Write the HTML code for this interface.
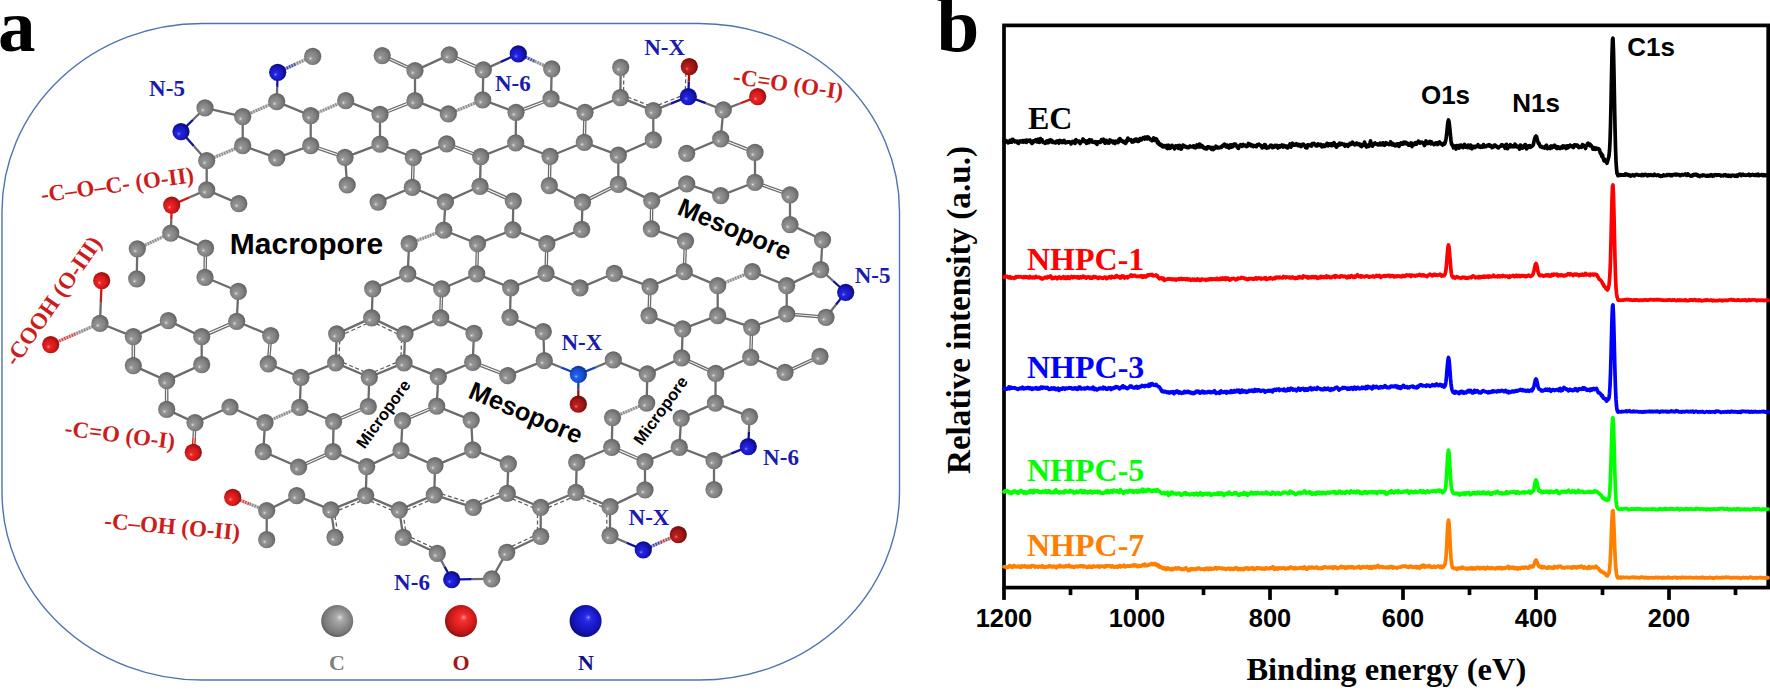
<!DOCTYPE html>
<html><head><meta charset="utf-8"><title>Figure</title>
<style>
html,body{margin:0;padding:0;background:#fff}
svg{display:block}
text{font-family:"Liberation Serif",serif;font-weight:bold}
.sans{font-family:"Liberation Sans",sans-serif;font-weight:bold}
.tick{font-family:"Liberation Sans",sans-serif;font-weight:bold;font-size:25.4px}
.blue{fill:#1a1aae}
.red{fill:#cc1c1c}
</style></head><body>
<svg width="1770" height="690" viewBox="0 0 1770 690">
<defs>
<radialGradient id="gC" cx="46%" cy="54%" r="57%" fx="36%" fy="64%">
<stop offset="0" stop-color="#f4f4f4"/><stop offset="0.09" stop-color="#b4b4b4"/><stop offset="0.22" stop-color="#949494"/><stop offset="0.6" stop-color="#828282"/><stop offset="0.88" stop-color="#6a6a6a"/><stop offset="1" stop-color="#585858"/>
</radialGradient>
<radialGradient id="gN" cx="46%" cy="54%" r="57%" fx="36%" fy="64%">
<stop offset="0" stop-color="#b0b0ff"/><stop offset="0.09" stop-color="#4a4af0"/><stop offset="0.22" stop-color="#2424dc"/><stop offset="0.6" stop-color="#1818c4"/><stop offset="0.88" stop-color="#0e0e88"/><stop offset="1" stop-color="#0a0a6c"/>
</radialGradient>
<radialGradient id="gO" cx="46%" cy="54%" r="57%" fx="36%" fy="64%">
<stop offset="0" stop-color="#ffc0c0"/><stop offset="0.09" stop-color="#ff5050"/><stop offset="0.22" stop-color="#ea2424"/><stop offset="0.6" stop-color="#d41a1a"/><stop offset="0.88" stop-color="#a41212"/><stop offset="1" stop-color="#800e0e"/>
</radialGradient>
<radialGradient id="gX" cx="46%" cy="54%" r="57%" fx="36%" fy="64%">
<stop offset="0" stop-color="#f0a0a0"/><stop offset="0.09" stop-color="#d44040"/><stop offset="0.22" stop-color="#b82020"/><stop offset="0.6" stop-color="#a41616"/><stop offset="0.88" stop-color="#7a0e0e"/><stop offset="1" stop-color="#5c0a0a"/>
</radialGradient>
<radialGradient id="gM" cx="46%" cy="54%" r="57%" fx="36%" fy="64%">
<stop offset="0" stop-color="#c0d8ff"/><stop offset="0.09" stop-color="#5088f8"/><stop offset="0.22" stop-color="#2060e8"/><stop offset="0.6" stop-color="#1650d4"/><stop offset="0.88" stop-color="#0e38a0"/><stop offset="1" stop-color="#0a2880"/>
</radialGradient>
<radialGradient id="gLC" cx="52%" cy="47%" r="56%" fx="59%" fy="38%">
<stop offset="0" stop-color="#f2f2f2"/><stop offset="0.06" stop-color="#cccccc"/><stop offset="0.2" stop-color="#aaaaaa"/><stop offset="0.5" stop-color="#909090"/><stop offset="0.8" stop-color="#787878"/><stop offset="1" stop-color="#585858"/>
</radialGradient>
<radialGradient id="gLO" cx="52%" cy="47%" r="56%" fx="59%" fy="38%">
<stop offset="0" stop-color="#ffd0d0"/><stop offset="0.06" stop-color="#ff6868"/><stop offset="0.2" stop-color="#f43030"/><stop offset="0.5" stop-color="#e02020"/><stop offset="0.8" stop-color="#b81616"/><stop offset="1" stop-color="#800e0e"/>
</radialGradient>
<radialGradient id="gLN" cx="52%" cy="47%" r="56%" fx="59%" fy="38%">
<stop offset="0" stop-color="#c8c8ff"/><stop offset="0.06" stop-color="#5858f8"/><stop offset="0.2" stop-color="#2828e4"/><stop offset="0.5" stop-color="#1a1ad0"/><stop offset="0.8" stop-color="#1212a8"/><stop offset="1" stop-color="#0a0a70"/>
</radialGradient>
</defs>
<rect x="0" y="0" width="1770" height="690" fill="#fff"/>
<rect x="2" y="23.5" width="897.5" height="656.5" rx="200" ry="188" fill="none" stroke="#4f74ad" stroke-width="1.4"/>
<g stroke-linecap="butt">
<line x1="312.7" y1="56.3" x2="295.2" y2="64.3" stroke="#c7c7c7" stroke-width="3.2"/>
<line x1="295.2" y1="64.3" x2="277.7" y2="72.3" stroke="#a4a4da" stroke-width="3.2"/>
<line x1="312.7" y1="56.3" x2="295.2" y2="64.3" stroke="#828282" stroke-width="3.2" stroke-dasharray="1.1 1.6"/>
<line x1="295.2" y1="64.3" x2="277.7" y2="72.3" stroke="#3535ae" stroke-width="3.2" stroke-dasharray="1.1 1.6"/>
<line x1="277.7" y1="72.3" x2="277.2" y2="86.9" stroke="#1212a0" stroke-width="2.3"/>
<line x1="277.2" y1="86.9" x2="276.7" y2="101.6" stroke="#6c6c6c" stroke-width="2.3"/>
<line x1="276.7" y1="101.6" x2="242.7" y2="116.6" stroke="#c7c7c7" stroke-width="3.2"/>
<line x1="276.7" y1="101.6" x2="242.7" y2="116.6" stroke="#828282" stroke-width="3.2" stroke-dasharray="1.1 1.6"/>
<line x1="242.7" y1="116.6" x2="205.0" y2="107.9" stroke="#6c6c6c" stroke-width="2.3"/>
<line x1="205.0" y1="107.9" x2="193.0" y2="119.8" stroke="#6c6c6c" stroke-width="2.3"/>
<line x1="193.0" y1="119.8" x2="181.0" y2="131.6" stroke="#1212a0" stroke-width="2.3"/>
<line x1="181.0" y1="131.6" x2="193.8" y2="146.1" stroke="#1212a0" stroke-width="2.3"/>
<line x1="193.8" y1="146.1" x2="206.7" y2="160.6" stroke="#6c6c6c" stroke-width="2.3"/>
<line x1="206.7" y1="160.6" x2="242.7" y2="145.6" stroke="#c7c7c7" stroke-width="3.2"/>
<line x1="206.7" y1="160.6" x2="242.7" y2="145.6" stroke="#828282" stroke-width="3.2" stroke-dasharray="1.1 1.6"/>
<line x1="242.7" y1="145.6" x2="242.7" y2="116.6" stroke="#6c6c6c" stroke-width="2.3"/>
<line x1="242.7" y1="145.6" x2="276.7" y2="157.9" stroke="#6c6c6c" stroke-width="2.3"/>
<line x1="276.7" y1="157.9" x2="310.7" y2="145.6" stroke="#6c6c6c" stroke-width="2.3"/>
<line x1="310.7" y1="145.6" x2="310.7" y2="115.6" stroke="#6c6c6c" stroke-width="2.3"/>
<line x1="310.7" y1="115.6" x2="276.7" y2="101.6" stroke="#6c6c6c" stroke-width="2.3"/>
<line x1="310.7" y1="115.6" x2="345.7" y2="100.6" stroke="#c7c7c7" stroke-width="3.2"/>
<line x1="310.7" y1="115.6" x2="345.7" y2="100.6" stroke="#828282" stroke-width="3.2" stroke-dasharray="1.1 1.6"/>
<line x1="345.7" y1="100.6" x2="380.0" y2="114.4" stroke="#6c6c6c" stroke-width="2.3"/>
<line x1="380.0" y1="114.4" x2="380.0" y2="144.2" stroke="#6c6c6c" stroke-width="2.3"/>
<line x1="380.0" y1="144.2" x2="345.0" y2="157.3" stroke="#6c6c6c" stroke-width="2.3"/>
<line x1="344.6" y1="158.4" x2="310.3" y2="146.7" stroke="#6c6c6c" stroke-width="1.3"/>
<line x1="345.4" y1="156.2" x2="311.1" y2="144.5" stroke="#6c6c6c" stroke-width="1.3"/>
<line x1="345.0" y1="157.3" x2="347.2" y2="185.0" stroke="#6c6c6c" stroke-width="2.3"/>
<line x1="206.7" y1="160.6" x2="206.7" y2="189.9" stroke="#6c6c6c" stroke-width="2.3"/>
<line x1="206.7" y1="189.9" x2="238.8" y2="203.6" stroke="#6c6c6c" stroke-width="2.3"/>
<line x1="206.7" y1="189.9" x2="189.2" y2="197.5" stroke="#6c6c6c" stroke-width="2.3"/>
<line x1="189.2" y1="197.5" x2="171.7" y2="205.1" stroke="#cc1818" stroke-width="2.3"/>
<line x1="171.7" y1="205.1" x2="171.3" y2="219.1" stroke="#cc1818" stroke-width="2.3"/>
<line x1="171.3" y1="219.1" x2="170.8" y2="233.1" stroke="#6c6c6c" stroke-width="2.3"/>
<line x1="378.1" y1="202.1" x2="412.3" y2="187.3" stroke="#6c6c6c" stroke-width="2.3"/>
<line x1="382.7" y1="54.6" x2="415.5" y2="69.6" stroke="#6c6c6c" stroke-width="1.3"/>
<line x1="381.7" y1="56.6" x2="414.5" y2="71.6" stroke="#6c6c6c" stroke-width="1.3"/>
<line x1="415.0" y1="70.6" x2="449.3" y2="54.9" stroke="#6c6c6c" stroke-width="2.3"/>
<line x1="449.8" y1="53.8" x2="483.8" y2="68.8" stroke="#6c6c6c" stroke-width="1.3"/>
<line x1="448.8" y1="56.0" x2="482.8" y2="71.0" stroke="#6c6c6c" stroke-width="1.3"/>
<line x1="483.3" y1="69.9" x2="500.8" y2="61.9" stroke="#6c6c6c" stroke-width="2.3"/>
<line x1="500.8" y1="61.9" x2="518.3" y2="53.9" stroke="#1212a0" stroke-width="2.3"/>
<line x1="518.3" y1="53.9" x2="535.0" y2="61.4" stroke="#a4a4da" stroke-width="3.2"/>
<line x1="535.0" y1="61.4" x2="551.7" y2="68.9" stroke="#c7c7c7" stroke-width="3.2"/>
<line x1="518.3" y1="53.9" x2="535.0" y2="61.4" stroke="#3535ae" stroke-width="3.2" stroke-dasharray="1.1 1.6"/>
<line x1="535.0" y1="61.4" x2="551.7" y2="68.9" stroke="#828282" stroke-width="3.2" stroke-dasharray="1.1 1.6"/>
<line x1="551.7" y1="68.9" x2="551.0" y2="98.9" stroke="#6c6c6c" stroke-width="2.3"/>
<line x1="483.3" y1="69.9" x2="482.7" y2="99.9" stroke="#6c6c6c" stroke-width="2.3"/>
<line x1="415.0" y1="70.6" x2="415.0" y2="100.6" stroke="#6c6c6c" stroke-width="2.3"/>
<line x1="415.4" y1="101.7" x2="380.4" y2="115.5" stroke="#6c6c6c" stroke-width="1.3"/>
<line x1="414.6" y1="99.5" x2="379.6" y2="113.3" stroke="#6c6c6c" stroke-width="1.3"/>
<line x1="415.0" y1="100.6" x2="448.3" y2="113.9" stroke="#6c6c6c" stroke-width="2.3"/>
<line x1="448.3" y1="113.9" x2="482.7" y2="99.9" stroke="#c7c7c7" stroke-width="3.2"/>
<line x1="448.3" y1="113.9" x2="482.7" y2="99.9" stroke="#828282" stroke-width="3.2" stroke-dasharray="1.1 1.6"/>
<line x1="482.7" y1="99.9" x2="516.0" y2="112.3" stroke="#6c6c6c" stroke-width="2.3"/>
<line x1="515.6" y1="111.2" x2="550.6" y2="97.8" stroke="#6c6c6c" stroke-width="1.3"/>
<line x1="516.4" y1="113.4" x2="551.4" y2="100.0" stroke="#6c6c6c" stroke-width="1.3"/>
<line x1="551.0" y1="98.9" x2="585.0" y2="112.3" stroke="#6c6c6c" stroke-width="2.3"/>
<line x1="585.0" y1="112.3" x2="620.4" y2="97.6" stroke="#6c6c6c" stroke-width="2.3"/>
<line x1="620.4" y1="97.6" x2="620.7" y2="67.3" stroke="#6c6c6c" stroke-width="2.3"/>
<line x1="623.5" y1="97.6" x2="623.9" y2="67.3" stroke="#5c5c5c" stroke-width="1.25" stroke-dasharray="4 2.6"/>
<line x1="620.4" y1="97.6" x2="653.3" y2="110.6" stroke="#6c6c6c" stroke-width="2.3"/>
<line x1="621.5" y1="94.6" x2="654.5" y2="107.6" stroke="#5c5c5c" stroke-width="1.25" stroke-dasharray="4 2.6"/>
<line x1="516.0" y1="112.3" x2="515.7" y2="142.9" stroke="#6c6c6c" stroke-width="2.3"/>
<line x1="586.1" y1="112.3" x2="585.4" y2="142.3" stroke="#6c6c6c" stroke-width="1.3"/>
<line x1="583.9" y1="112.3" x2="583.2" y2="142.3" stroke="#6c6c6c" stroke-width="1.3"/>
<line x1="380.0" y1="144.2" x2="413.3" y2="157.3" stroke="#6c6c6c" stroke-width="2.3"/>
<line x1="413.3" y1="157.3" x2="446.7" y2="143.9" stroke="#6c6c6c" stroke-width="2.3"/>
<line x1="447.1" y1="142.8" x2="481.1" y2="155.5" stroke="#6c6c6c" stroke-width="1.3"/>
<line x1="446.3" y1="145.0" x2="480.3" y2="157.7" stroke="#6c6c6c" stroke-width="1.3"/>
<line x1="480.7" y1="156.6" x2="515.7" y2="142.9" stroke="#6c6c6c" stroke-width="2.3"/>
<line x1="515.7" y1="142.9" x2="550.0" y2="156.3" stroke="#6c6c6c" stroke-width="2.3"/>
<line x1="550.0" y1="156.3" x2="584.3" y2="142.3" stroke="#6c6c6c" stroke-width="2.3"/>
<line x1="584.3" y1="142.3" x2="618.3" y2="155.2" stroke="#6c6c6c" stroke-width="2.3"/>
<line x1="618.3" y1="155.2" x2="653.3" y2="139.9" stroke="#6c6c6c" stroke-width="2.3"/>
<line x1="414.4" y1="157.3" x2="413.4" y2="187.3" stroke="#6c6c6c" stroke-width="1.3"/>
<line x1="412.2" y1="157.3" x2="411.2" y2="187.3" stroke="#6c6c6c" stroke-width="1.3"/>
<line x1="480.7" y1="156.6" x2="480.0" y2="186.3" stroke="#6c6c6c" stroke-width="2.3"/>
<line x1="551.1" y1="156.3" x2="550.4" y2="185.6" stroke="#6c6c6c" stroke-width="1.3"/>
<line x1="548.9" y1="156.3" x2="548.2" y2="185.6" stroke="#6c6c6c" stroke-width="1.3"/>
<line x1="618.3" y1="155.2" x2="618.3" y2="184.4" stroke="#6c6c6c" stroke-width="2.3"/>
<line x1="412.3" y1="187.3" x2="445.4" y2="201.9" stroke="#6c6c6c" stroke-width="2.3"/>
<line x1="445.4" y1="201.9" x2="480.0" y2="186.3" stroke="#6c6c6c" stroke-width="2.3"/>
<line x1="480.5" y1="185.2" x2="513.8" y2="200.0" stroke="#6c6c6c" stroke-width="1.3"/>
<line x1="479.5" y1="187.4" x2="512.8" y2="202.2" stroke="#6c6c6c" stroke-width="1.3"/>
<line x1="549.3" y1="185.6" x2="582.5" y2="202.2" stroke="#6c6c6c" stroke-width="2.3"/>
<line x1="582.0" y1="201.2" x2="617.8" y2="183.4" stroke="#6c6c6c" stroke-width="1.3"/>
<line x1="583.0" y1="203.3" x2="618.8" y2="185.4" stroke="#6c6c6c" stroke-width="1.3"/>
<line x1="445.4" y1="201.9" x2="443.8" y2="230.2" stroke="#6c6c6c" stroke-width="2.3"/>
<line x1="513.3" y1="201.1" x2="512.8" y2="229.9" stroke="#6c6c6c" stroke-width="2.3"/>
<line x1="582.5" y1="202.2" x2="581.7" y2="229.4" stroke="#6c6c6c" stroke-width="2.3"/>
<line x1="443.8" y1="230.2" x2="409.1" y2="243.6" stroke="#c7c7c7" stroke-width="3.2"/>
<line x1="443.8" y1="230.2" x2="409.1" y2="243.6" stroke="#828282" stroke-width="3.2" stroke-dasharray="1.1 1.6"/>
<line x1="443.8" y1="230.2" x2="477.5" y2="243.6" stroke="#6c6c6c" stroke-width="2.3"/>
<line x1="477.5" y1="243.6" x2="512.8" y2="229.9" stroke="#6c6c6c" stroke-width="2.3"/>
<line x1="512.8" y1="229.9" x2="546.9" y2="243.6" stroke="#6c6c6c" stroke-width="2.3"/>
<line x1="546.9" y1="243.6" x2="581.7" y2="229.4" stroke="#6c6c6c" stroke-width="2.3"/>
<line x1="653.3" y1="110.6" x2="670.8" y2="103.6" stroke="#6c6c6c" stroke-width="2.3"/>
<line x1="670.8" y1="103.6" x2="688.3" y2="96.6" stroke="#1212a0" stroke-width="2.3"/>
<line x1="652.1" y1="107.6" x2="687.1" y2="93.6" stroke="#5c5c5c" stroke-width="1.25" stroke-dasharray="4 2.6"/>
<line x1="688.3" y1="96.6" x2="688.8" y2="81.6" stroke="#1212a0" stroke-width="2.3"/>
<line x1="688.8" y1="81.6" x2="689.3" y2="66.6" stroke="#a01010" stroke-width="2.3"/>
<line x1="685.1" y1="96.5" x2="686.1" y2="66.5" stroke="#5c5c5c" stroke-width="1.25" stroke-dasharray="4 2.6"/>
<line x1="688.3" y1="96.6" x2="705.8" y2="103.2" stroke="#1212a0" stroke-width="2.3"/>
<line x1="705.8" y1="103.2" x2="723.3" y2="109.9" stroke="#6c6c6c" stroke-width="2.3"/>
<line x1="723.3" y1="109.9" x2="740.5" y2="103.2" stroke="#6c6c6c" stroke-width="2.3"/>
<line x1="740.5" y1="103.2" x2="757.7" y2="96.6" stroke="#cc1818" stroke-width="2.3"/>
<line x1="723.3" y1="109.9" x2="720.7" y2="138.9" stroke="#6c6c6c" stroke-width="2.3"/>
<line x1="720.7" y1="138.9" x2="686.7" y2="153.3" stroke="#6c6c6c" stroke-width="2.3"/>
<line x1="721.1" y1="137.8" x2="755.4" y2="151.2" stroke="#6c6c6c" stroke-width="1.3"/>
<line x1="720.3" y1="140.0" x2="754.6" y2="153.4" stroke="#6c6c6c" stroke-width="1.3"/>
<line x1="755.0" y1="152.3" x2="755.0" y2="182.3" stroke="#6c6c6c" stroke-width="2.3"/>
<line x1="755.0" y1="182.3" x2="720.7" y2="195.6" stroke="#6c6c6c" stroke-width="2.3"/>
<line x1="720.7" y1="195.6" x2="686.7" y2="183.9" stroke="#6c6c6c" stroke-width="2.3"/>
<line x1="686.7" y1="183.9" x2="651.7" y2="200.6" stroke="#6c6c6c" stroke-width="2.3"/>
<line x1="651.7" y1="200.6" x2="618.3" y2="184.4" stroke="#6c6c6c" stroke-width="2.3"/>
<line x1="653.3" y1="139.9" x2="653.3" y2="110.6" stroke="#6c6c6c" stroke-width="2.3"/>
<line x1="755.4" y1="181.2" x2="790.4" y2="193.8" stroke="#6c6c6c" stroke-width="1.3"/>
<line x1="754.6" y1="183.4" x2="789.6" y2="196.0" stroke="#6c6c6c" stroke-width="1.3"/>
<line x1="790.0" y1="194.9" x2="790.0" y2="224.6" stroke="#6c6c6c" stroke-width="2.3"/>
<line x1="790.0" y1="224.6" x2="822.5" y2="239.8" stroke="#6c6c6c" stroke-width="2.3"/>
<line x1="652.8" y1="200.6" x2="652.5" y2="228.9" stroke="#6c6c6c" stroke-width="1.3"/>
<line x1="650.6" y1="200.6" x2="650.2" y2="228.9" stroke="#6c6c6c" stroke-width="1.3"/>
<line x1="651.4" y1="228.9" x2="685.5" y2="241.1" stroke="#6c6c6c" stroke-width="2.3"/>
<line x1="170.8" y1="233.1" x2="137.3" y2="248.8" stroke="#c7c7c7" stroke-width="3.2"/>
<line x1="170.8" y1="233.1" x2="137.3" y2="248.8" stroke="#828282" stroke-width="3.2" stroke-dasharray="1.1 1.6"/>
<line x1="137.3" y1="248.8" x2="136.7" y2="278.9" stroke="#6c6c6c" stroke-width="2.3"/>
<line x1="170.8" y1="233.1" x2="205.5" y2="248.2" stroke="#6c6c6c" stroke-width="2.3"/>
<line x1="206.6" y1="248.3" x2="206.1" y2="277.3" stroke="#6c6c6c" stroke-width="1.3"/>
<line x1="204.4" y1="248.2" x2="203.9" y2="277.3" stroke="#6c6c6c" stroke-width="1.3"/>
<line x1="205.0" y1="277.3" x2="238.3" y2="291.3" stroke="#6c6c6c" stroke-width="2.3"/>
<line x1="238.3" y1="291.3" x2="236.7" y2="321.3" stroke="#6c6c6c" stroke-width="2.3"/>
<line x1="236.7" y1="321.3" x2="270.7" y2="335.6" stroke="#6c6c6c" stroke-width="2.3"/>
<line x1="271.8" y1="335.7" x2="269.4" y2="364.0" stroke="#6c6c6c" stroke-width="1.3"/>
<line x1="269.6" y1="335.5" x2="267.2" y2="363.8" stroke="#6c6c6c" stroke-width="1.3"/>
<line x1="268.3" y1="363.9" x2="300.9" y2="377.3" stroke="#6c6c6c" stroke-width="2.3"/>
<line x1="300.9" y1="377.3" x2="299.8" y2="407.3" stroke="#6c6c6c" stroke-width="2.3"/>
<line x1="299.8" y1="407.3" x2="265.0" y2="422.6" stroke="#c7c7c7" stroke-width="3.2"/>
<line x1="299.8" y1="407.3" x2="265.0" y2="422.6" stroke="#828282" stroke-width="3.2" stroke-dasharray="1.1 1.6"/>
<line x1="265.0" y1="422.6" x2="230.0" y2="407.0" stroke="#6c6c6c" stroke-width="2.3"/>
<line x1="230.0" y1="407.0" x2="195.0" y2="422.6" stroke="#6c6c6c" stroke-width="2.3"/>
<line x1="195.0" y1="422.6" x2="166.7" y2="409.4" stroke="#6c6c6c" stroke-width="2.3"/>
<line x1="165.5" y1="409.4" x2="165.5" y2="380.6" stroke="#6c6c6c" stroke-width="1.3"/>
<line x1="167.8" y1="409.4" x2="167.8" y2="380.6" stroke="#6c6c6c" stroke-width="1.3"/>
<line x1="166.7" y1="380.6" x2="201.7" y2="364.6" stroke="#6c6c6c" stroke-width="2.3"/>
<line x1="201.7" y1="364.6" x2="201.7" y2="336.6" stroke="#6c6c6c" stroke-width="2.3"/>
<line x1="201.2" y1="335.5" x2="236.2" y2="320.2" stroke="#6c6c6c" stroke-width="1.3"/>
<line x1="202.2" y1="337.7" x2="237.2" y2="322.4" stroke="#6c6c6c" stroke-width="1.3"/>
<line x1="201.7" y1="336.6" x2="168.3" y2="320.6" stroke="#6c6c6c" stroke-width="2.3"/>
<line x1="168.3" y1="320.6" x2="133.3" y2="336.6" stroke="#6c6c6c" stroke-width="2.3"/>
<line x1="134.5" y1="336.6" x2="134.5" y2="365.6" stroke="#6c6c6c" stroke-width="1.3"/>
<line x1="132.2" y1="336.6" x2="132.2" y2="365.6" stroke="#6c6c6c" stroke-width="1.3"/>
<line x1="133.3" y1="365.6" x2="166.7" y2="380.6" stroke="#6c6c6c" stroke-width="2.3"/>
<line x1="133.3" y1="336.6" x2="100.0" y2="323.3" stroke="#6c6c6c" stroke-width="2.3"/>
<line x1="100.0" y1="323.3" x2="100.8" y2="302.0" stroke="#6c6c6c" stroke-width="2.3"/>
<line x1="100.8" y1="302.0" x2="101.7" y2="280.6" stroke="#cc1818" stroke-width="2.3"/>
<line x1="100.0" y1="323.3" x2="75.3" y2="334.0" stroke="#c7c7c7" stroke-width="3.2"/>
<line x1="75.3" y1="334.0" x2="50.7" y2="344.6" stroke="#eba7a7" stroke-width="3.2"/>
<line x1="100.0" y1="323.3" x2="75.3" y2="334.0" stroke="#828282" stroke-width="3.2" stroke-dasharray="1.1 1.6"/>
<line x1="75.3" y1="334.0" x2="50.7" y2="344.6" stroke="#d33a3a" stroke-width="3.2" stroke-dasharray="1.1 1.6"/>
<line x1="409.1" y1="243.6" x2="407.7" y2="273.9" stroke="#6c6c6c" stroke-width="2.3"/>
<line x1="407.7" y1="273.9" x2="372.7" y2="288.9" stroke="#6c6c6c" stroke-width="2.3"/>
<line x1="372.7" y1="288.9" x2="371.7" y2="317.9" stroke="#6c6c6c" stroke-width="2.3"/>
<line x1="371.7" y1="317.9" x2="336.7" y2="333.9" stroke="#6c6c6c" stroke-width="2.3"/>
<line x1="373.0" y1="320.8" x2="338.0" y2="336.8" stroke="#5c5c5c" stroke-width="1.25" stroke-dasharray="4 2.6"/>
<line x1="336.7" y1="333.9" x2="335.7" y2="362.9" stroke="#6c6c6c" stroke-width="2.3"/>
<line x1="339.9" y1="334.0" x2="338.9" y2="363.0" stroke="#5c5c5c" stroke-width="1.25" stroke-dasharray="4 2.6"/>
<line x1="335.7" y1="362.9" x2="369.3" y2="377.3" stroke="#6c6c6c" stroke-width="2.3"/>
<line x1="337.0" y1="360.0" x2="370.6" y2="374.4" stroke="#5c5c5c" stroke-width="1.25" stroke-dasharray="4 2.6"/>
<line x1="369.3" y1="377.3" x2="404.0" y2="362.9" stroke="#6c6c6c" stroke-width="2.3"/>
<line x1="368.1" y1="374.3" x2="402.8" y2="359.9" stroke="#5c5c5c" stroke-width="1.25" stroke-dasharray="4 2.6"/>
<line x1="404.0" y1="362.9" x2="405.0" y2="333.9" stroke="#6c6c6c" stroke-width="2.3"/>
<line x1="400.8" y1="362.8" x2="401.8" y2="333.8" stroke="#5c5c5c" stroke-width="1.25" stroke-dasharray="4 2.6"/>
<line x1="405.0" y1="333.9" x2="371.7" y2="317.9" stroke="#6c6c6c" stroke-width="2.3"/>
<line x1="403.6" y1="336.8" x2="370.3" y2="320.8" stroke="#5c5c5c" stroke-width="1.25" stroke-dasharray="4 2.6"/>
<line x1="407.7" y1="273.9" x2="441.7" y2="288.8" stroke="#6c6c6c" stroke-width="2.3"/>
<line x1="441.7" y1="288.8" x2="476.7" y2="273.9" stroke="#6c6c6c" stroke-width="2.3"/>
<line x1="475.6" y1="273.9" x2="476.4" y2="243.6" stroke="#6c6c6c" stroke-width="1.3"/>
<line x1="477.8" y1="273.9" x2="478.6" y2="243.6" stroke="#6c6c6c" stroke-width="1.3"/>
<line x1="548.0" y1="243.6" x2="547.1" y2="273.3" stroke="#6c6c6c" stroke-width="1.3"/>
<line x1="545.8" y1="243.6" x2="544.9" y2="273.3" stroke="#6c6c6c" stroke-width="1.3"/>
<line x1="546.0" y1="273.3" x2="580.0" y2="287.9" stroke="#6c6c6c" stroke-width="2.3"/>
<line x1="546.0" y1="273.3" x2="510.7" y2="287.9" stroke="#6c6c6c" stroke-width="2.3"/>
<line x1="510.7" y1="287.9" x2="476.7" y2="273.9" stroke="#6c6c6c" stroke-width="2.3"/>
<line x1="510.7" y1="287.9" x2="510.0" y2="317.3" stroke="#6c6c6c" stroke-width="2.3"/>
<line x1="510.0" y1="317.3" x2="543.3" y2="331.6" stroke="#6c6c6c" stroke-width="2.3"/>
<line x1="543.3" y1="331.6" x2="544.3" y2="360.6" stroke="#6c6c6c" stroke-width="2.3"/>
<line x1="544.3" y1="360.6" x2="561.3" y2="367.5" stroke="#6c6c6c" stroke-width="2.3"/>
<line x1="561.3" y1="367.5" x2="578.4" y2="374.4" stroke="#1040c8" stroke-width="2.3"/>
<line x1="544.3" y1="360.6" x2="507.7" y2="375.6" stroke="#6c6c6c" stroke-width="2.3"/>
<line x1="507.3" y1="376.7" x2="472.3" y2="363.4" stroke="#6c6c6c" stroke-width="1.3"/>
<line x1="508.1" y1="374.5" x2="473.1" y2="361.2" stroke="#6c6c6c" stroke-width="1.3"/>
<line x1="472.7" y1="362.3" x2="474.0" y2="333.3" stroke="#6c6c6c" stroke-width="2.3"/>
<line x1="472.7" y1="362.3" x2="438.3" y2="376.6" stroke="#6c6c6c" stroke-width="2.3"/>
<line x1="438.3" y1="376.6" x2="404.0" y2="362.9" stroke="#6c6c6c" stroke-width="2.3"/>
<line x1="438.3" y1="376.6" x2="436.7" y2="406.1" stroke="#6c6c6c" stroke-width="2.3"/>
<line x1="437.1" y1="407.2" x2="402.9" y2="421.7" stroke="#6c6c6c" stroke-width="1.3"/>
<line x1="436.3" y1="405.0" x2="402.1" y2="419.5" stroke="#6c6c6c" stroke-width="1.3"/>
<line x1="436.7" y1="406.1" x2="471.2" y2="420.1" stroke="#6c6c6c" stroke-width="2.3"/>
<line x1="442.8" y1="288.8" x2="441.8" y2="317.9" stroke="#6c6c6c" stroke-width="1.3"/>
<line x1="440.6" y1="288.8" x2="439.6" y2="317.9" stroke="#6c6c6c" stroke-width="1.3"/>
<line x1="440.7" y1="317.9" x2="405.0" y2="333.9" stroke="#6c6c6c" stroke-width="2.3"/>
<line x1="440.7" y1="317.9" x2="474.0" y2="333.3" stroke="#6c6c6c" stroke-width="2.3"/>
<line x1="335.7" y1="362.9" x2="300.9" y2="377.3" stroke="#6c6c6c" stroke-width="2.3"/>
<line x1="299.8" y1="407.3" x2="333.6" y2="421.5" stroke="#6c6c6c" stroke-width="2.3"/>
<line x1="333.2" y1="420.4" x2="367.8" y2="405.4" stroke="#6c6c6c" stroke-width="1.3"/>
<line x1="334.1" y1="422.5" x2="368.8" y2="407.5" stroke="#6c6c6c" stroke-width="1.3"/>
<line x1="368.3" y1="406.5" x2="369.3" y2="377.3" stroke="#6c6c6c" stroke-width="2.3"/>
<line x1="686.6" y1="241.1" x2="685.4" y2="271.6" stroke="#6c6c6c" stroke-width="1.3"/>
<line x1="684.4" y1="241.1" x2="683.2" y2="271.6" stroke="#6c6c6c" stroke-width="1.3"/>
<line x1="684.3" y1="271.6" x2="650.0" y2="286.6" stroke="#6c6c6c" stroke-width="2.3"/>
<line x1="650.0" y1="286.6" x2="614.3" y2="273.3" stroke="#6c6c6c" stroke-width="2.3"/>
<line x1="614.3" y1="273.3" x2="580.0" y2="287.9" stroke="#6c6c6c" stroke-width="2.3"/>
<line x1="651.1" y1="286.6" x2="650.1" y2="315.6" stroke="#6c6c6c" stroke-width="1.3"/>
<line x1="648.9" y1="286.6" x2="647.9" y2="315.6" stroke="#6c6c6c" stroke-width="1.3"/>
<line x1="649.0" y1="315.6" x2="682.7" y2="328.9" stroke="#6c6c6c" stroke-width="2.3"/>
<line x1="682.7" y1="328.9" x2="717.7" y2="315.6" stroke="#6c6c6c" stroke-width="2.3"/>
<line x1="717.7" y1="315.6" x2="717.7" y2="285.6" stroke="#6c6c6c" stroke-width="2.3"/>
<line x1="717.7" y1="285.6" x2="684.3" y2="271.6" stroke="#6c6c6c" stroke-width="2.3"/>
<line x1="717.7" y1="285.6" x2="752.3" y2="271.6" stroke="#c7c7c7" stroke-width="3.2"/>
<line x1="717.7" y1="285.6" x2="752.3" y2="271.6" stroke="#828282" stroke-width="3.2" stroke-dasharray="1.1 1.6"/>
<line x1="752.3" y1="271.6" x2="786.7" y2="285.6" stroke="#6c6c6c" stroke-width="2.3"/>
<line x1="786.7" y1="285.6" x2="786.7" y2="313.9" stroke="#6c6c6c" stroke-width="2.3"/>
<line x1="786.7" y1="313.9" x2="751.7" y2="327.3" stroke="#6c6c6c" stroke-width="2.3"/>
<line x1="751.7" y1="327.3" x2="717.7" y2="315.6" stroke="#6c6c6c" stroke-width="2.3"/>
<line x1="786.7" y1="285.6" x2="820.7" y2="269.6" stroke="#6c6c6c" stroke-width="2.3"/>
<line x1="820.7" y1="269.6" x2="822.5" y2="239.8" stroke="#6c6c6c" stroke-width="2.3"/>
<line x1="820.7" y1="269.6" x2="833.2" y2="281.0" stroke="#6c6c6c" stroke-width="2.3"/>
<line x1="833.2" y1="281.0" x2="845.7" y2="292.3" stroke="#1212a0" stroke-width="2.3"/>
<line x1="845.7" y1="292.3" x2="835.9" y2="304.8" stroke="#1212a0" stroke-width="2.3"/>
<line x1="835.9" y1="304.8" x2="826.0" y2="317.3" stroke="#6c6c6c" stroke-width="2.3"/>
<line x1="825.9" y1="318.4" x2="786.6" y2="315.0" stroke="#6c6c6c" stroke-width="1.3"/>
<line x1="826.1" y1="316.2" x2="786.8" y2="312.8" stroke="#6c6c6c" stroke-width="1.3"/>
<line x1="752.8" y1="327.3" x2="751.8" y2="357.3" stroke="#6c6c6c" stroke-width="1.3"/>
<line x1="750.6" y1="327.3" x2="749.6" y2="357.3" stroke="#6c6c6c" stroke-width="1.3"/>
<line x1="750.7" y1="357.3" x2="785.0" y2="372.3" stroke="#6c6c6c" stroke-width="2.3"/>
<line x1="784.5" y1="371.3" x2="819.5" y2="355.3" stroke="#6c6c6c" stroke-width="1.3"/>
<line x1="785.5" y1="373.3" x2="820.5" y2="357.3" stroke="#6c6c6c" stroke-width="1.3"/>
<line x1="750.7" y1="357.3" x2="715.7" y2="373.3" stroke="#6c6c6c" stroke-width="2.3"/>
<line x1="715.2" y1="374.3" x2="681.2" y2="358.9" stroke="#6c6c6c" stroke-width="1.3"/>
<line x1="716.2" y1="372.3" x2="682.2" y2="356.9" stroke="#6c6c6c" stroke-width="1.3"/>
<line x1="681.7" y1="357.9" x2="682.7" y2="328.9" stroke="#6c6c6c" stroke-width="2.3"/>
<line x1="681.7" y1="357.9" x2="647.3" y2="373.9" stroke="#6c6c6c" stroke-width="2.3"/>
<line x1="647.3" y1="373.9" x2="613.3" y2="359.9" stroke="#6c6c6c" stroke-width="2.3"/>
<line x1="613.3" y1="359.9" x2="595.8" y2="367.2" stroke="#6c6c6c" stroke-width="2.3"/>
<line x1="595.8" y1="367.2" x2="578.4" y2="374.4" stroke="#1040c8" stroke-width="2.3"/>
<line x1="578.4" y1="374.4" x2="578.3" y2="389.3" stroke="#1040c8" stroke-width="2.3"/>
<line x1="578.3" y1="389.3" x2="578.3" y2="404.2" stroke="#a01010" stroke-width="2.3"/>
<line x1="647.3" y1="373.9" x2="646.7" y2="403.1" stroke="#6c6c6c" stroke-width="2.3"/>
<line x1="646.7" y1="403.1" x2="612.5" y2="417.6" stroke="#c7c7c7" stroke-width="3.2"/>
<line x1="646.7" y1="403.1" x2="612.5" y2="417.6" stroke="#828282" stroke-width="3.2" stroke-dasharray="1.1 1.6"/>
<line x1="715.7" y1="373.3" x2="715.4" y2="403.1" stroke="#6c6c6c" stroke-width="2.3"/>
<line x1="715.4" y1="403.1" x2="681.2" y2="418.1" stroke="#6c6c6c" stroke-width="2.3"/>
<line x1="715.4" y1="403.1" x2="749.5" y2="416.6" stroke="#6c6c6c" stroke-width="2.3"/>
<line x1="196.1" y1="422.7" x2="195.3" y2="437.5" stroke="#6c6c6c" stroke-width="1.3"/>
<line x1="195.3" y1="437.5" x2="194.4" y2="452.4" stroke="#cc1818" stroke-width="1.3"/>
<line x1="193.9" y1="422.5" x2="193.0" y2="437.4" stroke="#6c6c6c" stroke-width="1.3"/>
<line x1="193.0" y1="437.4" x2="192.2" y2="452.2" stroke="#cc1818" stroke-width="1.3"/>
<line x1="265.0" y1="422.6" x2="263.3" y2="451.6" stroke="#6c6c6c" stroke-width="2.3"/>
<line x1="263.3" y1="451.6" x2="298.6" y2="467.0" stroke="#6c6c6c" stroke-width="2.3"/>
<line x1="298.2" y1="465.9" x2="332.5" y2="450.6" stroke="#6c6c6c" stroke-width="1.3"/>
<line x1="299.1" y1="468.0" x2="333.5" y2="452.6" stroke="#6c6c6c" stroke-width="1.3"/>
<line x1="333.0" y1="451.6" x2="333.6" y2="421.5" stroke="#6c6c6c" stroke-width="2.3"/>
<line x1="232.7" y1="497.3" x2="249.7" y2="504.0" stroke="#eba7a7" stroke-width="3.2"/>
<line x1="249.7" y1="504.0" x2="266.7" y2="510.6" stroke="#c7c7c7" stroke-width="3.2"/>
<line x1="232.7" y1="497.3" x2="249.7" y2="504.0" stroke="#d33a3a" stroke-width="3.2" stroke-dasharray="1.1 1.6"/>
<line x1="249.7" y1="504.0" x2="266.7" y2="510.6" stroke="#828282" stroke-width="3.2" stroke-dasharray="1.1 1.6"/>
<line x1="266.7" y1="510.6" x2="296.7" y2="495.6" stroke="#6c6c6c" stroke-width="2.3"/>
<line x1="296.7" y1="495.6" x2="330.9" y2="509.9" stroke="#6c6c6c" stroke-width="2.3"/>
<line x1="266.7" y1="510.6" x2="266.7" y2="539.6" stroke="#6c6c6c" stroke-width="2.3"/>
<line x1="330.9" y1="509.9" x2="335.0" y2="537.3" stroke="#6c6c6c" stroke-width="2.3"/>
<line x1="334.0" y1="509.4" x2="338.2" y2="536.8" stroke="#5c5c5c" stroke-width="1.25" stroke-dasharray="4 2.6"/>
<line x1="333.0" y1="451.6" x2="366.7" y2="466.6" stroke="#6c6c6c" stroke-width="2.3"/>
<line x1="366.7" y1="466.6" x2="401.0" y2="450.6" stroke="#6c6c6c" stroke-width="2.3"/>
<line x1="401.0" y1="450.6" x2="402.5" y2="420.6" stroke="#6c6c6c" stroke-width="2.3"/>
<line x1="471.2" y1="420.1" x2="472.7" y2="449.9" stroke="#6c6c6c" stroke-width="2.3"/>
<line x1="472.7" y1="449.9" x2="508.3" y2="463.9" stroke="#6c6c6c" stroke-width="2.3"/>
<line x1="508.3" y1="463.9" x2="507.3" y2="493.3" stroke="#6c6c6c" stroke-width="2.3"/>
<line x1="472.7" y1="449.9" x2="435.0" y2="465.6" stroke="#6c6c6c" stroke-width="2.3"/>
<line x1="435.0" y1="465.6" x2="401.0" y2="450.6" stroke="#6c6c6c" stroke-width="2.3"/>
<line x1="435.0" y1="465.6" x2="434.3" y2="494.9" stroke="#6c6c6c" stroke-width="2.3"/>
<line x1="366.7" y1="466.6" x2="365.7" y2="495.6" stroke="#6c6c6c" stroke-width="2.3"/>
<line x1="365.7" y1="495.6" x2="330.9" y2="509.9" stroke="#6c6c6c" stroke-width="2.3"/>
<line x1="366.9" y1="498.6" x2="332.1" y2="512.9" stroke="#5c5c5c" stroke-width="1.25" stroke-dasharray="4 2.6"/>
<line x1="365.7" y1="495.6" x2="399.3" y2="509.9" stroke="#6c6c6c" stroke-width="2.3"/>
<line x1="364.4" y1="498.5" x2="398.0" y2="512.8" stroke="#5c5c5c" stroke-width="1.25" stroke-dasharray="4 2.6"/>
<line x1="399.3" y1="509.9" x2="434.3" y2="494.9" stroke="#6c6c6c" stroke-width="2.3"/>
<line x1="400.6" y1="512.8" x2="435.6" y2="497.8" stroke="#5c5c5c" stroke-width="1.25" stroke-dasharray="4 2.6"/>
<line x1="434.3" y1="494.9" x2="473.3" y2="507.3" stroke="#6c6c6c" stroke-width="2.3"/>
<line x1="435.3" y1="491.9" x2="474.3" y2="504.3" stroke="#5c5c5c" stroke-width="1.25" stroke-dasharray="4 2.6"/>
<line x1="473.3" y1="507.3" x2="507.3" y2="493.3" stroke="#6c6c6c" stroke-width="2.3"/>
<line x1="472.1" y1="504.3" x2="506.1" y2="490.3" stroke="#5c5c5c" stroke-width="1.25" stroke-dasharray="4 2.6"/>
<line x1="507.3" y1="493.3" x2="540.7" y2="507.3" stroke="#6c6c6c" stroke-width="2.3"/>
<line x1="506.1" y1="496.3" x2="539.5" y2="510.3" stroke="#5c5c5c" stroke-width="1.25" stroke-dasharray="4 2.6"/>
<line x1="540.7" y1="507.3" x2="576.0" y2="492.3" stroke="#6c6c6c" stroke-width="2.3"/>
<line x1="542.0" y1="510.2" x2="577.3" y2="495.2" stroke="#5c5c5c" stroke-width="1.25" stroke-dasharray="4 2.6"/>
<line x1="576.0" y1="492.3" x2="576.7" y2="462.3" stroke="#6c6c6c" stroke-width="2.3"/>
<line x1="540.7" y1="507.3" x2="540.7" y2="536.3" stroke="#6c6c6c" stroke-width="2.3"/>
<line x1="537.5" y1="507.3" x2="537.5" y2="536.3" stroke="#5c5c5c" stroke-width="1.25" stroke-dasharray="4 2.6"/>
<line x1="540.7" y1="536.3" x2="506.7" y2="552.3" stroke="#6c6c6c" stroke-width="2.3"/>
<line x1="539.3" y1="533.4" x2="505.3" y2="549.4" stroke="#5c5c5c" stroke-width="1.25" stroke-dasharray="4 2.6"/>
<line x1="506.7" y1="552.3" x2="491.7" y2="578.9" stroke="#6c6c6c" stroke-width="2.3"/>
<line x1="491.7" y1="578.9" x2="471.7" y2="579.2" stroke="#6c6c6c" stroke-width="2.3"/>
<line x1="471.7" y1="579.2" x2="451.7" y2="579.6" stroke="#1212a0" stroke-width="2.3"/>
<line x1="451.7" y1="579.6" x2="444.5" y2="566.5" stroke="#1212a0" stroke-width="2.3"/>
<line x1="444.5" y1="566.5" x2="437.3" y2="553.3" stroke="#6c6c6c" stroke-width="2.3"/>
<line x1="437.3" y1="553.3" x2="403.3" y2="537.3" stroke="#6c6c6c" stroke-width="2.3"/>
<line x1="438.7" y1="550.4" x2="404.7" y2="534.4" stroke="#5c5c5c" stroke-width="1.25" stroke-dasharray="4 2.6"/>
<line x1="403.3" y1="537.3" x2="399.3" y2="509.9" stroke="#6c6c6c" stroke-width="2.3"/>
<line x1="406.5" y1="536.8" x2="402.5" y2="509.4" stroke="#5c5c5c" stroke-width="1.25" stroke-dasharray="4 2.6"/>
<line x1="612.5" y1="417.6" x2="611.7" y2="447.3" stroke="#6c6c6c" stroke-width="2.3"/>
<line x1="611.7" y1="447.3" x2="576.7" y2="462.3" stroke="#6c6c6c" stroke-width="2.3"/>
<line x1="612.2" y1="446.2" x2="645.5" y2="460.5" stroke="#6c6c6c" stroke-width="1.3"/>
<line x1="611.2" y1="448.4" x2="644.5" y2="462.7" stroke="#6c6c6c" stroke-width="1.3"/>
<line x1="645.0" y1="461.6" x2="645.0" y2="489.9" stroke="#6c6c6c" stroke-width="2.3"/>
<line x1="645.0" y1="489.9" x2="610.0" y2="506.6" stroke="#6c6c6c" stroke-width="2.3"/>
<line x1="610.0" y1="506.6" x2="576.0" y2="492.3" stroke="#6c6c6c" stroke-width="2.3"/>
<line x1="608.8" y1="509.5" x2="574.8" y2="495.2" stroke="#5c5c5c" stroke-width="1.25" stroke-dasharray="4 2.6"/>
<line x1="610.0" y1="506.6" x2="610.0" y2="535.6" stroke="#6c6c6c" stroke-width="2.3"/>
<line x1="606.8" y1="506.6" x2="606.8" y2="535.6" stroke="#5c5c5c" stroke-width="1.25" stroke-dasharray="4 2.6"/>
<line x1="610.0" y1="535.6" x2="626.6" y2="542.8" stroke="#6c6c6c" stroke-width="2.3"/>
<line x1="626.6" y1="542.8" x2="643.3" y2="549.9" stroke="#1212a0" stroke-width="2.3"/>
<line x1="643.3" y1="549.9" x2="660.8" y2="542.2" stroke="#a4a4da" stroke-width="3.2"/>
<line x1="660.8" y1="542.2" x2="678.3" y2="534.6" stroke="#daa4a4" stroke-width="3.2"/>
<line x1="643.3" y1="549.9" x2="660.8" y2="542.2" stroke="#3535ae" stroke-width="3.2" stroke-dasharray="1.1 1.6"/>
<line x1="660.8" y1="542.2" x2="678.3" y2="534.6" stroke="#ae3333" stroke-width="3.2" stroke-dasharray="1.1 1.6"/>
<line x1="645.0" y1="461.6" x2="679.3" y2="447.3" stroke="#6c6c6c" stroke-width="2.3"/>
<line x1="679.3" y1="447.3" x2="681.2" y2="418.1" stroke="#6c6c6c" stroke-width="2.3"/>
<line x1="749.5" y1="416.6" x2="748.9" y2="431.6" stroke="#6c6c6c" stroke-width="2.3"/>
<line x1="748.9" y1="431.6" x2="748.3" y2="446.6" stroke="#1212a0" stroke-width="2.3"/>
<line x1="748.3" y1="446.6" x2="731.1" y2="453.6" stroke="#1212a0" stroke-width="2.3"/>
<line x1="731.1" y1="453.6" x2="714.0" y2="460.6" stroke="#6c6c6c" stroke-width="2.3"/>
<line x1="714.0" y1="460.6" x2="679.3" y2="447.3" stroke="#6c6c6c" stroke-width="2.3"/>
<line x1="714.0" y1="460.6" x2="714.0" y2="489.6" stroke="#6c6c6c" stroke-width="2.3"/>
</g>
<circle cx="312.7" cy="56.3" r="8.6" fill="url(#gC)"/>
<circle cx="277.7" cy="72.3" r="8.6" fill="url(#gN)"/>
<circle cx="276.7" cy="101.6" r="8.6" fill="url(#gC)"/>
<circle cx="382.2" cy="55.6" r="8.6" fill="url(#gC)"/>
<circle cx="242.7" cy="116.6" r="8.6" fill="url(#gC)"/>
<circle cx="205.0" cy="107.9" r="8.6" fill="url(#gC)"/>
<circle cx="181.0" cy="131.6" r="8.6" fill="url(#gN)"/>
<circle cx="206.7" cy="160.6" r="8.6" fill="url(#gC)"/>
<circle cx="242.7" cy="145.6" r="8.6" fill="url(#gC)"/>
<circle cx="276.7" cy="157.9" r="8.6" fill="url(#gC)"/>
<circle cx="310.7" cy="115.6" r="8.6" fill="url(#gC)"/>
<circle cx="310.7" cy="145.6" r="8.6" fill="url(#gC)"/>
<circle cx="345.7" cy="100.6" r="8.6" fill="url(#gC)"/>
<circle cx="345.0" cy="157.3" r="8.6" fill="url(#gC)"/>
<circle cx="347.2" cy="185.0" r="8.6" fill="url(#gC)"/>
<circle cx="380.0" cy="114.4" r="8.6" fill="url(#gC)"/>
<circle cx="380.0" cy="144.2" r="8.6" fill="url(#gC)"/>
<circle cx="206.7" cy="189.9" r="8.6" fill="url(#gC)"/>
<circle cx="238.8" cy="203.6" r="8.6" fill="url(#gC)"/>
<circle cx="171.7" cy="205.1" r="8.6" fill="url(#gO)"/>
<circle cx="170.8" cy="233.1" r="8.6" fill="url(#gC)"/>
<circle cx="378.1" cy="202.1" r="8.6" fill="url(#gC)"/>
<circle cx="137.3" cy="248.8" r="8.6" fill="url(#gC)"/>
<circle cx="205.5" cy="248.2" r="8.6" fill="url(#gC)"/>
<circle cx="415.0" cy="70.6" r="8.6" fill="url(#gC)"/>
<circle cx="449.3" cy="54.9" r="8.6" fill="url(#gC)"/>
<circle cx="483.3" cy="69.9" r="8.6" fill="url(#gC)"/>
<circle cx="518.3" cy="53.9" r="8.6" fill="url(#gN)"/>
<circle cx="551.7" cy="68.9" r="8.6" fill="url(#gC)"/>
<circle cx="620.7" cy="67.3" r="8.6" fill="url(#gC)"/>
<circle cx="415.0" cy="100.6" r="8.6" fill="url(#gC)"/>
<circle cx="448.3" cy="113.9" r="8.6" fill="url(#gC)"/>
<circle cx="482.7" cy="99.9" r="8.6" fill="url(#gC)"/>
<circle cx="516.0" cy="112.3" r="8.6" fill="url(#gC)"/>
<circle cx="551.0" cy="98.9" r="8.6" fill="url(#gC)"/>
<circle cx="585.0" cy="112.3" r="8.6" fill="url(#gC)"/>
<circle cx="620.4" cy="97.6" r="8.6" fill="url(#gC)"/>
<circle cx="413.3" cy="157.3" r="8.6" fill="url(#gC)"/>
<circle cx="446.7" cy="143.9" r="8.6" fill="url(#gC)"/>
<circle cx="480.7" cy="156.6" r="8.6" fill="url(#gC)"/>
<circle cx="515.7" cy="142.9" r="8.6" fill="url(#gC)"/>
<circle cx="550.0" cy="156.3" r="8.6" fill="url(#gC)"/>
<circle cx="584.3" cy="142.3" r="8.6" fill="url(#gC)"/>
<circle cx="618.3" cy="155.2" r="8.6" fill="url(#gC)"/>
<circle cx="412.3" cy="187.3" r="8.6" fill="url(#gC)"/>
<circle cx="445.4" cy="201.9" r="8.6" fill="url(#gC)"/>
<circle cx="480.0" cy="186.3" r="8.6" fill="url(#gC)"/>
<circle cx="513.3" cy="201.1" r="8.6" fill="url(#gC)"/>
<circle cx="549.3" cy="185.6" r="8.6" fill="url(#gC)"/>
<circle cx="582.5" cy="202.2" r="8.6" fill="url(#gC)"/>
<circle cx="618.3" cy="184.4" r="8.6" fill="url(#gC)"/>
<circle cx="443.8" cy="230.2" r="8.6" fill="url(#gC)"/>
<circle cx="409.1" cy="243.6" r="8.6" fill="url(#gC)"/>
<circle cx="477.5" cy="243.6" r="8.6" fill="url(#gC)"/>
<circle cx="512.8" cy="229.9" r="8.6" fill="url(#gC)"/>
<circle cx="546.9" cy="243.6" r="8.6" fill="url(#gC)"/>
<circle cx="581.7" cy="229.4" r="8.6" fill="url(#gC)"/>
<circle cx="689.3" cy="66.6" r="8.6" fill="url(#gX)"/>
<circle cx="688.3" cy="96.6" r="8.6" fill="url(#gN)"/>
<circle cx="653.3" cy="110.6" r="8.6" fill="url(#gC)"/>
<circle cx="653.3" cy="139.9" r="8.6" fill="url(#gC)"/>
<circle cx="651.7" cy="200.6" r="8.6" fill="url(#gC)"/>
<circle cx="651.4" cy="228.9" r="8.6" fill="url(#gC)"/>
<circle cx="685.5" cy="241.1" r="8.6" fill="url(#gC)"/>
<circle cx="723.3" cy="109.9" r="8.6" fill="url(#gC)"/>
<circle cx="757.7" cy="96.6" r="8.6" fill="url(#gO)"/>
<circle cx="720.7" cy="138.9" r="8.6" fill="url(#gC)"/>
<circle cx="686.7" cy="153.3" r="8.6" fill="url(#gC)"/>
<circle cx="755.0" cy="152.3" r="8.6" fill="url(#gC)"/>
<circle cx="755.0" cy="182.3" r="8.6" fill="url(#gC)"/>
<circle cx="686.7" cy="183.9" r="8.6" fill="url(#gC)"/>
<circle cx="720.7" cy="195.6" r="8.6" fill="url(#gC)"/>
<circle cx="790.0" cy="194.9" r="8.6" fill="url(#gC)"/>
<circle cx="790.0" cy="224.6" r="8.6" fill="url(#gC)"/>
<circle cx="822.5" cy="239.8" r="8.6" fill="url(#gC)"/>
<circle cx="136.7" cy="278.9" r="8.6" fill="url(#gC)"/>
<circle cx="205.0" cy="277.3" r="8.6" fill="url(#gC)"/>
<circle cx="238.3" cy="291.3" r="8.6" fill="url(#gC)"/>
<circle cx="236.7" cy="321.3" r="8.6" fill="url(#gC)"/>
<circle cx="270.7" cy="335.6" r="8.6" fill="url(#gC)"/>
<circle cx="268.3" cy="363.9" r="8.6" fill="url(#gC)"/>
<circle cx="300.9" cy="377.3" r="8.6" fill="url(#gC)"/>
<circle cx="299.8" cy="407.3" r="8.6" fill="url(#gC)"/>
<circle cx="265.0" cy="422.6" r="8.6" fill="url(#gC)"/>
<circle cx="230.0" cy="407.0" r="8.6" fill="url(#gC)"/>
<circle cx="195.0" cy="422.6" r="8.6" fill="url(#gC)"/>
<circle cx="166.7" cy="409.4" r="8.6" fill="url(#gC)"/>
<circle cx="166.7" cy="380.6" r="8.6" fill="url(#gC)"/>
<circle cx="201.7" cy="364.6" r="8.6" fill="url(#gC)"/>
<circle cx="201.7" cy="336.6" r="8.6" fill="url(#gC)"/>
<circle cx="168.3" cy="320.6" r="8.6" fill="url(#gC)"/>
<circle cx="133.3" cy="336.6" r="8.6" fill="url(#gC)"/>
<circle cx="133.3" cy="365.6" r="8.6" fill="url(#gC)"/>
<circle cx="100.0" cy="323.3" r="8.6" fill="url(#gC)"/>
<circle cx="101.7" cy="280.6" r="8.6" fill="url(#gO)"/>
<circle cx="50.7" cy="344.6" r="8.6" fill="url(#gO)"/>
<circle cx="407.7" cy="273.9" r="8.6" fill="url(#gC)"/>
<circle cx="372.7" cy="288.9" r="8.6" fill="url(#gC)"/>
<circle cx="441.7" cy="288.8" r="8.6" fill="url(#gC)"/>
<circle cx="476.7" cy="273.9" r="8.6" fill="url(#gC)"/>
<circle cx="510.7" cy="287.9" r="8.6" fill="url(#gC)"/>
<circle cx="546.0" cy="273.3" r="8.6" fill="url(#gC)"/>
<circle cx="371.7" cy="317.9" r="8.6" fill="url(#gC)"/>
<circle cx="440.7" cy="317.9" r="8.6" fill="url(#gC)"/>
<circle cx="510.0" cy="317.3" r="8.6" fill="url(#gC)"/>
<circle cx="336.7" cy="333.9" r="8.6" fill="url(#gC)"/>
<circle cx="405.0" cy="333.9" r="8.6" fill="url(#gC)"/>
<circle cx="474.0" cy="333.3" r="8.6" fill="url(#gC)"/>
<circle cx="543.3" cy="331.6" r="8.6" fill="url(#gC)"/>
<circle cx="335.7" cy="362.9" r="8.6" fill="url(#gC)"/>
<circle cx="404.0" cy="362.9" r="8.6" fill="url(#gC)"/>
<circle cx="472.7" cy="362.3" r="8.6" fill="url(#gC)"/>
<circle cx="544.3" cy="360.6" r="8.6" fill="url(#gC)"/>
<circle cx="369.3" cy="377.3" r="8.6" fill="url(#gC)"/>
<circle cx="438.3" cy="376.6" r="8.6" fill="url(#gC)"/>
<circle cx="507.7" cy="375.6" r="8.6" fill="url(#gC)"/>
<circle cx="578.4" cy="374.4" r="8.6" fill="url(#gM)"/>
<circle cx="368.3" cy="406.5" r="8.6" fill="url(#gC)"/>
<circle cx="436.7" cy="406.1" r="8.6" fill="url(#gC)"/>
<circle cx="333.6" cy="421.5" r="8.6" fill="url(#gC)"/>
<circle cx="402.5" cy="420.6" r="8.6" fill="url(#gC)"/>
<circle cx="471.2" cy="420.1" r="8.6" fill="url(#gC)"/>
<circle cx="820.7" cy="269.6" r="8.6" fill="url(#gC)"/>
<circle cx="845.7" cy="292.3" r="8.6" fill="url(#gN)"/>
<circle cx="826.0" cy="317.3" r="8.6" fill="url(#gC)"/>
<circle cx="786.7" cy="285.6" r="8.6" fill="url(#gC)"/>
<circle cx="786.7" cy="313.9" r="8.6" fill="url(#gC)"/>
<circle cx="752.3" cy="271.6" r="8.6" fill="url(#gC)"/>
<circle cx="751.7" cy="327.3" r="8.6" fill="url(#gC)"/>
<circle cx="717.7" cy="285.6" r="8.6" fill="url(#gC)"/>
<circle cx="717.7" cy="315.6" r="8.6" fill="url(#gC)"/>
<circle cx="684.3" cy="271.6" r="8.6" fill="url(#gC)"/>
<circle cx="650.0" cy="286.6" r="8.6" fill="url(#gC)"/>
<circle cx="649.0" cy="315.6" r="8.6" fill="url(#gC)"/>
<circle cx="682.7" cy="328.9" r="8.6" fill="url(#gC)"/>
<circle cx="614.3" cy="273.3" r="8.6" fill="url(#gC)"/>
<circle cx="580.0" cy="287.9" r="8.6" fill="url(#gC)"/>
<circle cx="681.7" cy="357.9" r="8.6" fill="url(#gC)"/>
<circle cx="750.7" cy="357.3" r="8.6" fill="url(#gC)"/>
<circle cx="785.0" cy="372.3" r="8.6" fill="url(#gC)"/>
<circle cx="820.0" cy="356.3" r="8.6" fill="url(#gC)"/>
<circle cx="715.7" cy="373.3" r="8.6" fill="url(#gC)"/>
<circle cx="715.4" cy="403.1" r="8.6" fill="url(#gC)"/>
<circle cx="681.2" cy="418.1" r="8.6" fill="url(#gC)"/>
<circle cx="749.5" cy="416.6" r="8.6" fill="url(#gC)"/>
<circle cx="647.3" cy="373.9" r="8.6" fill="url(#gC)"/>
<circle cx="613.3" cy="359.9" r="8.6" fill="url(#gC)"/>
<circle cx="578.3" cy="404.2" r="8.6" fill="url(#gX)"/>
<circle cx="646.7" cy="403.1" r="8.6" fill="url(#gC)"/>
<circle cx="612.5" cy="417.6" r="8.6" fill="url(#gC)"/>
<circle cx="193.3" cy="452.3" r="8.6" fill="url(#gO)"/>
<circle cx="263.3" cy="451.6" r="8.6" fill="url(#gC)"/>
<circle cx="298.6" cy="467.0" r="8.6" fill="url(#gC)"/>
<circle cx="333.0" cy="451.6" r="8.6" fill="url(#gC)"/>
<circle cx="232.7" cy="497.3" r="8.6" fill="url(#gO)"/>
<circle cx="266.7" cy="510.6" r="8.6" fill="url(#gC)"/>
<circle cx="296.7" cy="495.6" r="8.6" fill="url(#gC)"/>
<circle cx="330.9" cy="509.9" r="8.6" fill="url(#gC)"/>
<circle cx="266.7" cy="539.6" r="8.6" fill="url(#gC)"/>
<circle cx="335.0" cy="537.3" r="8.6" fill="url(#gC)"/>
<circle cx="401.0" cy="450.6" r="8.6" fill="url(#gC)"/>
<circle cx="472.7" cy="449.9" r="8.6" fill="url(#gC)"/>
<circle cx="366.7" cy="466.6" r="8.6" fill="url(#gC)"/>
<circle cx="435.0" cy="465.6" r="8.6" fill="url(#gC)"/>
<circle cx="508.3" cy="463.9" r="8.6" fill="url(#gC)"/>
<circle cx="576.7" cy="462.3" r="8.6" fill="url(#gC)"/>
<circle cx="365.7" cy="495.6" r="8.6" fill="url(#gC)"/>
<circle cx="434.3" cy="494.9" r="8.6" fill="url(#gC)"/>
<circle cx="507.3" cy="493.3" r="8.6" fill="url(#gC)"/>
<circle cx="576.0" cy="492.3" r="8.6" fill="url(#gC)"/>
<circle cx="399.3" cy="509.9" r="8.6" fill="url(#gC)"/>
<circle cx="473.3" cy="507.3" r="8.6" fill="url(#gC)"/>
<circle cx="540.7" cy="507.3" r="8.6" fill="url(#gC)"/>
<circle cx="403.3" cy="537.3" r="8.6" fill="url(#gC)"/>
<circle cx="540.7" cy="536.3" r="8.6" fill="url(#gC)"/>
<circle cx="437.3" cy="553.3" r="8.6" fill="url(#gC)"/>
<circle cx="506.7" cy="552.3" r="8.6" fill="url(#gC)"/>
<circle cx="451.7" cy="579.6" r="8.6" fill="url(#gN)"/>
<circle cx="491.7" cy="578.9" r="8.6" fill="url(#gC)"/>
<circle cx="611.7" cy="447.3" r="8.6" fill="url(#gC)"/>
<circle cx="610.0" cy="506.6" r="8.6" fill="url(#gC)"/>
<circle cx="610.0" cy="535.6" r="8.6" fill="url(#gC)"/>
<circle cx="643.3" cy="549.9" r="8.6" fill="url(#gN)"/>
<circle cx="678.3" cy="534.6" r="8.6" fill="url(#gX)"/>
<circle cx="645.0" cy="461.6" r="8.6" fill="url(#gC)"/>
<circle cx="645.0" cy="489.9" r="8.6" fill="url(#gC)"/>
<circle cx="679.3" cy="447.3" r="8.6" fill="url(#gC)"/>
<circle cx="748.3" cy="446.6" r="8.6" fill="url(#gN)"/>
<circle cx="714.0" cy="460.6" r="8.6" fill="url(#gC)"/>
<circle cx="714.0" cy="489.6" r="8.6" fill="url(#gC)"/>
<text x="-2" y="50.6" font-size="75" class="">a</text>
<text transform="translate(167 88.7) rotate(0)" y="7.59" font-size="23" class="blue" text-anchor="middle">N-5</text>
<text transform="translate(512.9 83) rotate(0)" y="7.59" font-size="23" class="blue" text-anchor="middle">N-6</text>
<text transform="translate(664.7 47.6) rotate(0)" y="7.59" font-size="23" class="blue" text-anchor="middle">N-X</text>
<text transform="translate(581.9 342.8) rotate(0)" y="7.59" font-size="23" class="blue" text-anchor="middle">N-X</text>
<text transform="translate(872.6 275.2) rotate(0)" y="7.59" font-size="23" class="blue" text-anchor="middle">N-5</text>
<text transform="translate(781 457.5) rotate(0)" y="7.59" font-size="23" class="blue" text-anchor="middle">N-6</text>
<text transform="translate(649 517.5) rotate(0)" y="7.59" font-size="23" class="blue" text-anchor="middle">N-X</text>
<text transform="translate(412 582) rotate(0)" y="7.59" font-size="23" class="blue" text-anchor="middle">N-6</text>
<text transform="translate(788.3 84) rotate(8)" y="7.59" font-size="23" class="red" text-anchor="middle">-C=O (O-I)</text>
<text transform="translate(117.3 184.7) rotate(-7.5)" y="7.59" font-size="23" class="red" text-anchor="middle">-C–O–C- (O-II)</text>
<text transform="translate(53 300.8) rotate(-55)" y="7.59" font-size="23" class="red" text-anchor="middle">-COOH (O-III)</text>
<text transform="translate(120 434.8) rotate(7)" y="7.59" font-size="23" class="red" text-anchor="middle">-C=O (O-I)</text>
<text transform="translate(172.2 526.4) rotate(5)" y="7.59" font-size="23" class="red" text-anchor="middle">-C–OH (O-II)</text>
<text transform="translate(306.5 243) rotate(0)" y="10.74" font-size="30" class="sans" text-anchor="middle">Macropore</text>
<text transform="translate(734.4 230.2) rotate(23)" y="7.65" font-size="25.5" class="sans" text-anchor="middle">Mesopore</text>
<text transform="translate(525.5 413.8) rotate(23)" y="7.65" font-size="25.5" class="sans" text-anchor="middle">Mesopore</text>
<text transform="translate(383.9 414.5) rotate(-54)" y="4.95" font-size="16.5" class="sans" text-anchor="middle">Micropore</text>
<text transform="translate(661.3 411) rotate(-54)" y="4.95" font-size="16.5" class="sans" text-anchor="middle">Micropore</text>
<circle cx="337.2" cy="621" r="16" fill="url(#gLC)"/>
<circle cx="461" cy="621" r="16" fill="url(#gLO)"/>
<circle cx="585.6" cy="621" r="16" fill="url(#gLN)"/>
<text transform="translate(337 662.5) rotate(0)" y="7.26" font-size="22" class="" text-anchor="middle" fill="#808080">C</text>
<text transform="translate(461 662.5) rotate(0)" y="7.26" font-size="22" class="" text-anchor="middle" fill="#a01818">O</text>
<text transform="translate(586 662.5) rotate(0)" y="7.26" font-size="22" class="" text-anchor="middle" fill="#10108a">N</text>
<rect x="1004" y="25.4" width="764.2" height="562.2" fill="none" stroke="#000" stroke-width="3.7"/>
<line x1="1004.0" y1="587.6" x2="1004.0" y2="599.9" stroke="#000" stroke-width="3.7"/>
<text x="1004.0" y="626.8" class="tick" text-anchor="middle">1200</text>
<line x1="1070.5" y1="587.6" x2="1070.5" y2="595.1" stroke="#000" stroke-width="3.7"/>
<line x1="1137.0" y1="587.6" x2="1137.0" y2="599.9" stroke="#000" stroke-width="3.7"/>
<text x="1137.0" y="626.8" class="tick" text-anchor="middle">1000</text>
<line x1="1203.5" y1="587.6" x2="1203.5" y2="595.1" stroke="#000" stroke-width="3.7"/>
<line x1="1270.0" y1="587.6" x2="1270.0" y2="599.9" stroke="#000" stroke-width="3.7"/>
<text x="1270.0" y="626.8" class="tick" text-anchor="middle">800</text>
<line x1="1336.5" y1="587.6" x2="1336.5" y2="595.1" stroke="#000" stroke-width="3.7"/>
<line x1="1403.0" y1="587.6" x2="1403.0" y2="599.9" stroke="#000" stroke-width="3.7"/>
<text x="1403.0" y="626.8" class="tick" text-anchor="middle">600</text>
<line x1="1469.5" y1="587.6" x2="1469.5" y2="595.1" stroke="#000" stroke-width="3.7"/>
<line x1="1536.0" y1="587.6" x2="1536.0" y2="599.9" stroke="#000" stroke-width="3.7"/>
<text x="1536.0" y="626.8" class="tick" text-anchor="middle">400</text>
<line x1="1602.5" y1="587.6" x2="1602.5" y2="595.1" stroke="#000" stroke-width="3.7"/>
<line x1="1669.0" y1="587.6" x2="1669.0" y2="599.9" stroke="#000" stroke-width="3.7"/>
<text x="1669.0" y="626.8" class="tick" text-anchor="middle">200</text>
<line x1="1735.5" y1="587.6" x2="1735.5" y2="595.1" stroke="#000" stroke-width="3.7"/>
<polyline points="1004.0,141.3 1004.5,141.8 1005.0,141.5 1005.5,141.2 1006.0,140.5 1006.5,140.8 1007.0,142.1 1007.5,142.2 1008.0,142.8 1008.5,142.5 1009.0,142.4 1009.5,142.2 1010.0,140.4 1010.5,141.6 1011.0,142.0 1011.5,142.2 1012.0,140.4 1012.5,139.3 1013.0,139.5 1013.5,140.0 1014.0,140.9 1014.5,141.1 1015.0,141.8 1015.5,141.1 1016.0,141.5 1016.5,141.9 1017.0,141.1 1017.5,142.8 1018.0,142.7 1018.5,143.3 1019.0,141.9 1019.5,141.1 1020.0,140.9 1020.5,141.1 1021.0,141.8 1021.5,141.9 1022.0,141.3 1022.5,140.5 1023.0,140.5 1023.5,142.1 1024.0,141.1 1024.5,141.5 1025.0,141.9 1025.5,140.4 1026.0,140.9 1026.5,142.4 1027.0,140.2 1027.5,140.5 1028.0,140.8 1028.5,140.4 1029.0,141.3 1029.5,141.4 1030.0,140.1 1030.5,141.5 1031.0,142.1 1031.5,142.7 1032.0,143.4 1032.5,142.9 1033.0,142.4 1033.5,140.8 1034.0,141.7 1034.5,141.0 1035.0,140.8 1035.5,140.0 1036.0,139.8 1036.5,140.1 1037.0,141.9 1037.5,139.9 1038.0,139.3 1038.5,140.5 1039.0,142.3 1039.5,142.4 1040.0,140.3 1040.5,138.6 1041.0,140.2 1041.5,140.1 1042.0,139.7 1042.5,141.4 1043.0,142.4 1043.5,142.2 1044.0,142.1 1044.5,142.2 1045.0,143.3 1045.5,143.1 1046.0,142.8 1046.5,142.7 1047.0,140.8 1047.5,142.2 1048.0,142.8 1048.5,142.7 1049.0,140.4 1049.5,140.3 1050.0,141.6 1050.5,139.9 1051.0,140.5 1051.5,141.9 1052.0,140.5 1052.5,142.4 1053.0,142.5 1053.5,141.9 1054.0,142.0 1054.5,142.4 1055.0,142.1 1055.5,142.9 1056.0,141.6 1056.5,141.2 1057.0,142.3 1057.5,142.0 1058.0,141.0 1058.5,142.1 1059.0,143.1 1059.5,142.0 1060.0,140.5 1060.5,140.8 1061.0,141.0 1061.5,141.0 1062.0,142.5 1062.5,141.1 1063.0,142.4 1063.5,140.9 1064.0,140.4 1064.5,141.5 1065.0,142.5 1065.5,142.8 1066.0,142.5 1066.5,142.2 1067.0,142.0 1067.5,142.3 1068.0,141.8 1068.5,141.9 1069.0,142.2 1069.5,141.9 1070.0,142.4 1070.5,142.5 1071.0,143.9 1071.5,143.1 1072.0,142.0 1072.5,141.4 1073.0,141.5 1073.5,142.3 1074.0,141.6 1074.5,141.9 1075.0,143.4 1075.5,140.2 1076.0,139.8 1076.5,140.8 1077.0,141.5 1077.5,141.7 1078.0,141.2 1078.5,141.9 1079.0,142.0 1079.5,141.3 1080.0,143.6 1080.5,143.0 1081.0,141.8 1081.5,141.6 1082.0,141.3 1082.5,141.4 1083.0,139.0 1083.5,139.7 1084.0,141.4 1084.5,140.4 1085.0,140.8 1085.5,142.0 1086.0,142.5 1086.5,143.4 1087.0,141.0 1087.5,140.9 1088.0,140.9 1088.5,141.7 1089.0,142.6 1089.5,139.7 1090.0,141.5 1090.5,140.2 1091.0,141.4 1091.5,140.1 1092.0,140.9 1092.5,142.2 1093.0,141.8 1093.5,141.8 1094.0,142.4 1094.5,142.1 1095.0,141.8 1095.5,143.0 1096.0,143.3 1096.5,142.2 1097.0,144.4 1097.5,142.0 1098.0,142.6 1098.5,141.9 1099.0,141.8 1099.5,142.3 1100.0,142.1 1100.5,142.4 1101.0,140.6 1101.5,139.7 1102.0,141.0 1102.5,140.4 1103.0,140.0 1103.5,139.3 1104.0,141.4 1104.5,142.1 1105.0,143.2 1105.5,141.6 1106.0,141.5 1106.5,140.4 1107.0,141.6 1107.5,142.9 1108.0,141.4 1108.5,142.8 1109.0,143.0 1109.5,142.1 1110.0,140.0 1110.5,141.8 1111.0,141.5 1111.5,140.8 1112.0,141.4 1112.5,141.7 1113.0,142.8 1113.5,141.2 1114.0,142.2 1114.5,143.0 1115.0,143.5 1115.5,142.3 1116.0,141.1 1116.5,142.0 1117.0,141.7 1117.5,141.5 1118.0,142.6 1118.5,141.6 1119.0,139.3 1119.5,139.7 1120.0,138.6 1120.5,140.4 1121.0,140.9 1121.5,140.3 1122.0,140.6 1122.5,141.4 1123.0,141.2 1123.5,142.2 1124.0,141.5 1124.5,142.1 1125.0,142.9 1125.5,143.4 1126.0,141.6 1126.5,142.0 1127.0,139.7 1127.5,139.2 1128.0,138.1 1128.5,140.2 1129.0,139.3 1129.5,139.9 1130.0,140.0 1130.5,140.2 1131.0,139.8 1131.5,140.4 1132.0,142.0 1132.5,141.4 1133.0,141.5 1133.5,141.9 1134.0,141.1 1134.5,139.6 1135.0,139.5 1135.5,140.9 1136.0,139.2 1136.5,139.2 1137.0,140.6 1137.5,141.2 1138.0,140.8 1138.5,141.3 1139.0,141.0 1139.5,139.6 1140.0,138.5 1140.5,138.6 1141.0,140.1 1141.5,139.6 1142.0,138.9 1142.5,138.7 1143.0,137.8 1143.5,138.6 1144.0,138.0 1144.5,139.1 1145.0,137.2 1145.5,138.6 1146.0,138.4 1146.5,137.1 1147.0,138.8 1147.5,138.8 1148.0,137.0 1148.5,137.2 1149.0,138.3 1149.5,138.3 1150.0,139.3 1150.5,139.8 1151.0,140.0 1151.5,139.9 1152.0,140.7 1152.5,140.5 1153.0,140.2 1153.5,137.8 1154.0,139.2 1154.5,140.3 1155.0,139.4 1155.5,138.8 1156.0,140.6 1156.5,138.9 1157.0,140.1 1157.5,142.8 1158.0,141.5 1158.5,142.5 1159.0,144.4 1159.5,143.8 1160.0,144.4 1160.5,145.2 1161.0,144.3 1161.5,144.8 1162.0,145.6 1162.5,146.8 1163.0,146.9 1163.5,146.6 1164.0,145.6 1164.5,145.7 1165.0,146.9 1165.5,146.8 1166.0,145.9 1166.5,145.5 1167.0,148.4 1167.5,148.6 1168.0,148.2 1168.5,145.2 1169.0,146.4 1169.5,146.9 1170.0,148.3 1170.5,147.9 1171.0,147.3 1171.5,147.4 1172.0,145.3 1172.5,146.8 1173.0,147.0 1173.5,146.2 1174.0,147.6 1174.5,148.8 1175.0,146.6 1175.5,146.0 1176.0,146.6 1176.5,146.8 1177.0,146.4 1177.5,145.7 1178.0,148.0 1178.5,148.4 1179.0,146.6 1179.5,145.4 1180.0,147.5 1180.5,148.1 1181.0,149.1 1181.5,148.8 1182.0,147.1 1182.5,147.2 1183.0,145.1 1183.5,145.2 1184.0,145.8 1184.5,146.7 1185.0,146.1 1185.5,146.3 1186.0,147.0 1186.5,147.2 1187.0,147.6 1187.5,147.5 1188.0,146.9 1188.5,147.6 1189.0,147.3 1189.5,146.4 1190.0,146.0 1190.5,146.4 1191.0,146.5 1191.5,146.8 1192.0,146.9 1192.5,147.0 1193.0,146.9 1193.5,145.8 1194.0,146.7 1194.5,147.7 1195.0,147.8 1195.5,147.2 1196.0,147.5 1196.5,146.4 1197.0,144.9 1197.5,145.9 1198.0,145.6 1198.5,146.9 1199.0,145.9 1199.5,144.1 1200.0,144.4 1200.5,147.0 1201.0,146.6 1201.5,145.6 1202.0,145.5 1202.5,146.6 1203.0,147.2 1203.5,147.2 1204.0,148.4 1204.5,148.4 1205.0,147.7 1205.5,147.9 1206.0,148.9 1206.5,148.9 1207.0,148.9 1207.5,147.0 1208.0,146.8 1208.5,147.5 1209.0,146.9 1209.5,147.8 1210.0,147.9 1210.5,148.2 1211.0,147.4 1211.5,149.4 1212.0,149.4 1212.5,148.0 1213.0,147.5 1213.5,149.5 1214.0,148.0 1214.5,148.2 1215.0,148.4 1215.5,147.7 1216.0,146.2 1216.5,146.6 1217.0,147.0 1217.5,147.9 1218.0,148.0 1218.5,147.5 1219.0,147.9 1219.5,147.8 1220.0,147.5 1220.5,147.2 1221.0,146.7 1221.5,147.3 1222.0,146.0 1222.5,145.7 1223.0,146.1 1223.5,145.0 1224.0,145.3 1224.5,144.1 1225.0,144.6 1225.5,146.0 1226.0,146.8 1226.5,146.6 1227.0,146.4 1227.5,145.2 1228.0,147.4 1228.5,147.5 1229.0,148.0 1229.5,146.5 1230.0,146.4 1230.5,144.8 1231.0,146.2 1231.5,147.2 1232.0,145.1 1232.5,145.7 1233.0,146.6 1233.5,144.9 1234.0,144.0 1234.5,144.1 1235.0,144.6 1235.5,144.1 1236.0,145.2 1236.5,145.9 1237.0,146.7 1237.5,147.2 1238.0,148.2 1238.5,148.4 1239.0,146.3 1239.5,145.9 1240.0,145.1 1240.5,144.7 1241.0,145.3 1241.5,145.8 1242.0,146.4 1242.5,144.9 1243.0,144.4 1243.5,145.2 1244.0,145.5 1244.5,145.6 1245.0,145.8 1245.5,145.3 1246.0,146.4 1246.5,146.6 1247.0,146.4 1247.5,145.7 1248.0,145.8 1248.5,143.5 1249.0,143.8 1249.5,144.9 1250.0,144.1 1250.5,145.2 1251.0,145.8 1251.5,144.7 1252.0,145.1 1252.5,145.3 1253.0,146.1 1253.5,146.6 1254.0,146.4 1254.5,145.5 1255.0,145.6 1255.5,145.8 1256.0,146.6 1256.5,146.6 1257.0,145.7 1257.5,144.6 1258.0,144.9 1258.5,144.7 1259.0,144.3 1259.5,145.0 1260.0,145.0 1260.5,145.5 1261.0,146.2 1261.5,145.7 1262.0,147.9 1262.5,146.7 1263.0,147.4 1263.5,146.8 1264.0,147.4 1264.5,144.6 1265.0,144.5 1265.5,145.4 1266.0,146.1 1266.5,148.1 1267.0,147.4 1267.5,147.9 1268.0,147.6 1268.5,147.7 1269.0,147.3 1269.5,146.5 1270.0,146.7 1270.5,145.3 1271.0,146.6 1271.5,145.3 1272.0,145.8 1272.5,147.7 1273.0,146.6 1273.5,146.3 1274.0,147.1 1274.5,146.5 1275.0,145.4 1275.5,145.8 1276.0,146.3 1276.5,146.7 1277.0,145.5 1277.5,147.2 1278.0,148.0 1278.5,147.0 1279.0,146.6 1279.5,145.8 1280.0,147.0 1280.5,145.8 1281.0,146.3 1281.5,145.6 1282.0,145.0 1282.5,145.9 1283.0,147.0 1283.5,146.3 1284.0,145.4 1284.5,146.2 1285.0,145.9 1285.5,146.0 1286.0,147.2 1286.5,147.5 1287.0,146.1 1287.5,147.9 1288.0,146.8 1288.5,147.0 1289.0,145.7 1289.5,145.6 1290.0,144.0 1290.5,146.3 1291.0,147.1 1291.5,145.3 1292.0,144.0 1292.5,143.2 1293.0,145.3 1293.5,144.9 1294.0,145.1 1294.5,145.0 1295.0,145.1 1295.5,144.2 1296.0,144.8 1296.5,143.8 1297.0,144.4 1297.5,145.1 1298.0,145.6 1298.5,145.3 1299.0,144.5 1299.5,145.0 1300.0,144.7 1300.5,146.4 1301.0,146.6 1301.5,145.9 1302.0,145.2 1302.5,144.6 1303.0,144.1 1303.5,144.3 1304.0,145.0 1304.5,145.6 1305.0,145.9 1305.5,147.5 1306.0,145.8 1306.5,145.6 1307.0,147.9 1307.5,145.0 1308.0,144.6 1308.5,145.0 1309.0,145.2 1309.5,145.6 1310.0,145.2 1310.5,145.5 1311.0,145.4 1311.5,146.0 1312.0,143.9 1312.5,143.6 1313.0,144.3 1313.5,143.7 1314.0,143.4 1314.5,144.7 1315.0,144.3 1315.5,145.2 1316.0,145.8 1316.5,145.7 1317.0,145.9 1317.5,145.4 1318.0,144.0 1318.5,144.4 1319.0,145.1 1319.5,144.6 1320.0,144.7 1320.5,145.5 1321.0,144.5 1321.5,145.3 1322.0,146.8 1322.5,145.5 1323.0,145.4 1323.5,145.0 1324.0,146.4 1324.5,146.0 1325.0,146.3 1325.5,145.1 1326.0,145.0 1326.5,144.9 1327.0,143.3 1327.5,145.3 1328.0,145.9 1328.5,143.9 1329.0,145.0 1329.5,144.8 1330.0,145.2 1330.5,145.4 1331.0,143.8 1331.5,144.0 1332.0,145.7 1332.5,144.8 1333.0,143.9 1333.5,143.0 1334.0,142.7 1334.5,143.9 1335.0,145.8 1335.5,145.7 1336.0,145.5 1336.5,147.2 1337.0,145.6 1337.5,144.6 1338.0,145.1 1338.5,145.4 1339.0,144.2 1339.5,143.3 1340.0,144.2 1340.5,144.6 1341.0,143.5 1341.5,143.8 1342.0,143.7 1342.5,144.5 1343.0,144.5 1343.5,144.4 1344.0,144.2 1344.5,145.3 1345.0,146.2 1345.5,145.2 1346.0,145.6 1346.5,144.5 1347.0,144.6 1347.5,145.2 1348.0,146.3 1348.5,145.1 1349.0,144.8 1349.5,144.8 1350.0,143.3 1350.5,143.9 1351.0,143.5 1351.5,144.3 1352.0,143.3 1352.5,142.1 1353.0,143.2 1353.5,144.0 1354.0,143.7 1354.5,144.8 1355.0,144.4 1355.5,143.8 1356.0,144.5 1356.5,143.0 1357.0,143.0 1357.5,143.6 1358.0,144.7 1358.5,144.4 1359.0,144.7 1359.5,143.9 1360.0,144.4 1360.5,145.8 1361.0,144.5 1361.5,146.6 1362.0,145.0 1362.5,144.7 1363.0,144.6 1363.5,145.4 1364.0,143.8 1364.5,142.1 1365.0,143.6 1365.5,144.6 1366.0,145.0 1366.5,147.0 1367.0,145.9 1367.5,145.4 1368.0,145.7 1368.5,145.3 1369.0,146.3 1369.5,144.2 1370.0,143.9 1370.5,140.9 1371.0,143.1 1371.5,143.2 1372.0,144.5 1372.5,146.2 1373.0,145.3 1373.5,144.5 1374.0,143.9 1374.5,143.2 1375.0,143.0 1375.5,144.1 1376.0,144.1 1376.5,144.1 1377.0,143.9 1377.5,144.8 1378.0,144.9 1378.5,144.4 1379.0,144.8 1379.5,144.3 1380.0,143.1 1380.5,144.8 1381.0,144.9 1381.5,143.6 1382.0,144.7 1382.5,144.7 1383.0,142.9 1383.5,144.8 1384.0,144.7 1384.5,145.2 1385.0,144.8 1385.5,144.2 1386.0,142.7 1386.5,144.1 1387.0,144.0 1387.5,143.7 1388.0,144.1 1388.5,144.0 1389.0,144.6 1389.5,143.9 1390.0,143.8 1390.5,141.9 1391.0,142.4 1391.5,143.6 1392.0,144.9 1392.5,144.1 1393.0,143.8 1393.5,145.2 1394.0,144.3 1394.5,144.7 1395.0,145.8 1395.5,144.9 1396.0,145.5 1396.5,144.0 1397.0,144.1 1397.5,143.8 1398.0,143.9 1398.5,144.8 1399.0,146.4 1399.5,144.6 1400.0,143.7 1400.5,144.1 1401.0,142.9 1401.5,143.7 1402.0,144.2 1402.5,143.7 1403.0,144.1 1403.5,142.5 1404.0,143.7 1404.5,142.2 1405.0,142.2 1405.5,142.3 1406.0,142.5 1406.5,143.8 1407.0,143.7 1407.5,143.3 1408.0,143.9 1408.5,145.1 1409.0,144.4 1409.5,144.3 1410.0,145.1 1410.5,144.6 1411.0,142.9 1411.5,145.4 1412.0,146.5 1412.5,143.4 1413.0,143.4 1413.5,143.8 1414.0,144.5 1414.5,144.6 1415.0,143.8 1415.5,142.7 1416.0,143.1 1416.5,144.2 1417.0,142.8 1417.5,142.1 1418.0,142.7 1418.5,141.2 1419.0,141.9 1419.5,142.2 1420.0,143.1 1420.5,142.6 1421.0,142.1 1421.5,142.3 1422.0,142.7 1422.5,142.4 1423.0,142.8 1423.5,143.7 1424.0,144.6 1424.5,145.5 1425.0,143.8 1425.5,143.2 1426.0,141.0 1426.5,143.7 1427.0,142.8 1427.5,143.0 1428.0,143.5 1428.5,142.2 1429.0,143.0 1429.5,143.1 1430.0,141.5 1430.5,142.5 1431.0,143.9 1431.5,141.8 1432.0,143.1 1432.5,143.3 1433.0,143.7 1433.5,143.8 1434.0,144.7 1434.5,143.7 1435.0,144.2 1435.5,143.3 1436.0,143.9 1436.5,142.8 1437.0,142.8 1437.5,144.5 1438.0,144.2 1438.5,143.5 1439.0,142.3 1439.5,141.9 1440.0,142.6 1440.5,143.7 1441.0,143.9 1441.5,144.2 1442.0,143.9 1442.5,145.0 1443.0,144.1 1443.5,143.5 1444.0,144.4 1444.5,144.0 1445.0,142.9 1445.5,141.2 1446.0,138.8 1446.5,135.6 1447.0,130.8 1447.5,125.3 1448.0,121.5 1448.5,120.0 1449.0,121.5 1449.5,125.6 1450.0,130.8 1450.5,135.8 1451.0,140.5 1451.5,144.1 1452.0,144.6 1452.5,145.8 1453.0,145.2 1453.5,147.8 1454.0,146.6 1454.5,147.5 1455.0,146.5 1455.5,147.2 1456.0,149.0 1456.5,145.6 1457.0,145.6 1457.5,146.5 1458.0,146.4 1458.5,145.8 1459.0,148.1 1459.5,147.4 1460.0,145.5 1460.5,146.7 1461.0,145.1 1461.5,146.8 1462.0,146.1 1462.5,146.4 1463.0,147.6 1463.5,147.2 1464.0,145.6 1464.5,144.5 1465.0,146.5 1465.5,147.1 1466.0,146.1 1466.5,147.1 1467.0,147.3 1467.5,147.5 1468.0,145.0 1468.5,145.4 1469.0,146.7 1469.5,147.3 1470.0,147.7 1470.5,145.0 1471.0,145.8 1471.5,146.6 1472.0,148.8 1472.5,146.9 1473.0,146.4 1473.5,146.5 1474.0,147.3 1474.5,146.5 1475.0,147.6 1475.5,146.4 1476.0,146.7 1476.5,146.1 1477.0,146.4 1477.5,145.8 1478.0,144.7 1478.5,146.5 1479.0,146.8 1479.5,146.1 1480.0,146.5 1480.5,147.4 1481.0,146.1 1481.5,146.2 1482.0,146.8 1482.5,147.1 1483.0,146.6 1483.5,144.6 1484.0,146.6 1484.5,146.8 1485.0,146.7 1485.5,146.4 1486.0,146.7 1486.5,146.2 1487.0,145.4 1487.5,145.2 1488.0,145.3 1488.5,145.3 1489.0,144.8 1489.5,146.1 1490.0,145.1 1490.5,146.3 1491.0,145.5 1491.5,146.3 1492.0,147.6 1492.5,147.3 1493.0,146.3 1493.5,146.4 1494.0,146.6 1494.5,145.0 1495.0,145.1 1495.5,145.9 1496.0,145.7 1496.5,146.2 1497.0,147.0 1497.5,147.4 1498.0,147.8 1498.5,147.8 1499.0,146.9 1499.5,146.7 1500.0,146.4 1500.5,146.2 1501.0,146.1 1501.5,144.8 1502.0,145.2 1502.5,145.8 1503.0,145.2 1503.5,145.8 1504.0,146.6 1504.5,146.4 1505.0,148.3 1505.5,145.1 1506.0,145.6 1506.5,144.3 1507.0,146.2 1507.5,148.7 1508.0,145.5 1508.5,146.0 1509.0,146.7 1509.5,146.3 1510.0,146.9 1510.5,144.7 1511.0,146.3 1511.5,146.7 1512.0,146.6 1512.5,146.0 1513.0,146.8 1513.5,146.2 1514.0,146.6 1514.5,146.1 1515.0,144.2 1515.5,145.2 1516.0,146.0 1516.5,146.9 1517.0,145.9 1517.5,146.2 1518.0,146.9 1518.5,146.8 1519.0,147.8 1519.5,149.0 1520.0,147.1 1520.5,145.1 1521.0,146.5 1521.5,147.9 1522.0,148.1 1522.5,148.1 1523.0,146.8 1523.5,146.0 1524.0,147.0 1524.5,146.0 1525.0,144.6 1525.5,144.5 1526.0,147.7 1526.5,148.9 1527.0,147.2 1527.5,146.2 1528.0,146.6 1528.5,145.9 1529.0,147.3 1529.5,146.9 1530.0,145.7 1530.5,147.3 1531.0,146.4 1531.5,146.6 1532.0,146.4 1532.5,145.8 1533.0,145.5 1533.5,143.9 1534.0,141.4 1534.5,139.2 1535.0,137.7 1535.5,136.5 1536.0,136.0 1536.5,136.6 1537.0,138.4 1537.5,140.6 1538.0,142.3 1538.5,143.5 1539.0,143.2 1539.5,144.6 1540.0,145.9 1540.5,146.7 1541.0,146.5 1541.5,146.4 1542.0,147.3 1542.5,146.9 1543.0,147.4 1543.5,147.5 1544.0,147.3 1544.5,148.1 1545.0,146.9 1545.5,146.4 1546.0,145.7 1546.5,145.3 1547.0,147.3 1547.5,148.5 1548.0,147.6 1548.5,147.6 1549.0,148.2 1549.5,148.2 1550.0,148.5 1550.5,146.5 1551.0,145.9 1551.5,146.6 1552.0,147.8 1552.5,147.3 1553.0,146.2 1553.5,146.0 1554.0,145.6 1554.5,145.3 1555.0,147.2 1555.5,146.3 1556.0,146.4 1556.5,148.4 1557.0,148.6 1557.5,148.0 1558.0,146.8 1558.5,147.0 1559.0,148.2 1559.5,148.0 1560.0,148.5 1560.5,147.7 1561.0,147.6 1561.5,146.9 1562.0,147.1 1562.5,148.0 1563.0,146.0 1563.5,146.2 1564.0,146.5 1564.5,146.0 1565.0,146.0 1565.5,146.9 1566.0,148.5 1566.5,148.2 1567.0,147.7 1567.5,145.8 1568.0,147.8 1568.5,147.3 1569.0,146.9 1569.5,145.7 1570.0,146.0 1570.5,145.2 1571.0,145.9 1571.5,146.6 1572.0,146.6 1572.5,146.8 1573.0,145.9 1573.5,147.5 1574.0,146.4 1574.5,144.8 1575.0,145.4 1575.5,145.2 1576.0,144.9 1576.5,145.3 1577.0,146.1 1577.5,145.2 1578.0,145.7 1578.5,147.3 1579.0,147.6 1579.5,147.0 1580.0,146.9 1580.5,146.6 1581.0,146.5 1581.5,147.2 1582.0,146.8 1582.5,144.6 1583.0,145.5 1583.5,145.2 1584.0,146.4 1584.5,146.0 1585.0,146.4 1585.5,148.5 1586.0,146.7 1586.5,145.7 1587.0,144.9 1587.5,143.6 1588.0,143.3 1588.5,145.2 1589.0,145.3 1589.5,144.3 1590.0,144.1 1590.5,145.9 1591.0,145.6 1591.5,145.9 1592.0,146.6 1592.5,148.0 1593.0,149.2 1593.5,149.1 1594.0,148.3 1594.5,147.8 1595.0,149.1 1595.5,149.4 1596.0,148.1 1596.5,148.0 1597.0,148.6 1597.5,149.0 1598.0,149.1 1598.5,148.7 1599.0,149.6 1599.5,149.5 1600.0,152.2 1600.5,153.5 1601.0,152.9 1601.5,155.3 1602.0,156.5 1602.5,155.0 1603.0,157.8 1603.5,158.8 1604.0,160.8 1604.5,159.3 1605.0,160.4 1605.5,161.2 1606.0,161.8 1606.5,162.5 1607.0,163.2 1607.5,161.3 1608.0,159.8 1608.5,158.1 1609.0,155.7 1609.5,150.8 1610.0,141.8 1610.5,126.0 1611.0,103.7 1611.5,77.9 1612.0,54.4 1612.5,39.6 1613.0,38.2 1613.5,51.0 1614.0,74.1 1614.5,102.1 1615.0,126.9 1615.5,147.2 1616.0,161.3 1616.5,168.6 1617.0,173.5 1617.5,173.7 1618.0,175.7 1618.5,175.3 1619.0,174.5 1619.5,175.0 1620.0,174.6 1620.5,175.3 1621.0,174.9 1621.5,174.9 1622.0,175.1 1622.5,174.9 1623.0,175.1 1623.5,174.8 1624.0,175.2 1624.5,175.1 1625.0,175.2 1625.5,174.0 1626.0,174.9 1626.5,175.0 1627.0,174.3 1627.5,174.6 1628.0,175.0 1628.5,175.4 1629.0,174.8 1629.5,175.5 1630.0,175.2 1630.5,176.1 1631.0,175.6 1631.5,175.6 1632.0,175.2 1632.5,174.7 1633.0,175.3 1633.5,175.5 1634.0,175.9 1634.5,175.9 1635.0,175.3 1635.5,174.5 1636.0,174.5 1636.5,174.5 1637.0,174.4 1637.5,174.9 1638.0,175.1 1638.5,175.0 1639.0,175.1 1639.5,175.0 1640.0,175.1 1640.5,175.4 1641.0,175.6 1641.5,175.1 1642.0,174.5 1642.5,175.3 1643.0,175.2 1643.5,175.6 1644.0,174.7 1644.5,174.7 1645.0,174.9 1645.5,174.4 1646.0,174.5 1646.5,175.0 1647.0,175.5 1647.5,175.9 1648.0,175.2 1648.5,174.6 1649.0,175.0 1649.5,175.4 1650.0,175.3 1650.5,174.7 1651.0,175.2 1651.5,175.4 1652.0,175.5 1652.5,175.1 1653.0,175.2 1653.5,175.5 1654.0,175.1 1654.5,174.3 1655.0,174.8 1655.5,175.1 1656.0,175.1 1656.5,175.5 1657.0,175.0 1657.5,175.0 1658.0,174.9 1658.5,175.2 1659.0,175.8 1659.5,175.4 1660.0,176.1 1660.5,176.3 1661.0,176.0 1661.5,175.9 1662.0,176.2 1662.5,175.6 1663.0,175.4 1663.5,174.8 1664.0,175.1 1664.5,175.7 1665.0,175.6 1665.5,175.6 1666.0,175.3 1666.5,175.3 1667.0,174.6 1667.5,175.3 1668.0,175.0 1668.5,174.6 1669.0,174.5 1669.5,174.5 1670.0,175.1 1670.5,175.5 1671.0,174.8 1671.5,175.3 1672.0,175.6 1672.5,175.1 1673.0,174.5 1673.5,174.5 1674.0,174.5 1674.5,174.9 1675.0,174.9 1675.5,174.2 1676.0,174.7 1676.5,174.3 1677.0,175.0 1677.5,174.6 1678.0,174.5 1678.5,174.5 1679.0,174.5 1679.5,175.3 1680.0,175.6 1680.5,175.6 1681.0,175.5 1681.5,174.7 1682.0,174.7 1682.5,174.7 1683.0,174.5 1683.5,175.0 1684.0,174.7 1684.5,174.6 1685.0,174.4 1685.5,173.9 1686.0,174.7 1686.5,175.4 1687.0,175.4 1687.5,174.9 1688.0,173.9 1688.5,174.5 1689.0,175.3 1689.5,175.4 1690.0,175.6 1690.5,176.0 1691.0,176.1 1691.5,175.5 1692.0,175.8 1692.5,175.8 1693.0,174.9 1693.5,174.8 1694.0,174.4 1694.5,174.7 1695.0,175.1 1695.5,174.7 1696.0,174.1 1696.5,175.1 1697.0,175.3 1697.5,175.8 1698.0,175.0 1698.5,175.5 1699.0,176.2 1699.5,176.5 1700.0,175.8 1700.5,175.6 1701.0,175.4 1701.5,175.7 1702.0,175.9 1702.5,175.6 1703.0,174.9 1703.5,175.3 1704.0,175.1 1704.5,175.4 1705.0,175.4 1705.5,175.9 1706.0,176.1 1706.5,175.5 1707.0,175.5 1707.5,176.1 1708.0,175.4 1708.5,175.5 1709.0,175.8 1709.5,176.1 1710.0,175.9 1710.5,175.0 1711.0,174.6 1711.5,175.0 1712.0,175.2 1712.5,176.2 1713.0,175.4 1713.5,175.8 1714.0,175.8 1714.5,174.9 1715.0,174.7 1715.5,175.0 1716.0,174.9 1716.5,175.0 1717.0,175.3 1717.5,174.9 1718.0,175.2 1718.5,175.0 1719.0,174.8 1719.5,175.2 1720.0,175.0 1720.5,175.2 1721.0,175.9 1721.5,175.6 1722.0,175.4 1722.5,175.6 1723.0,175.3 1723.5,175.7 1724.0,175.0 1724.5,175.3 1725.0,175.1 1725.5,174.8 1726.0,175.7 1726.5,175.1 1727.0,175.9 1727.5,175.9 1728.0,176.2 1728.5,175.3 1729.0,175.8 1729.5,176.1 1730.0,175.7 1730.5,175.4 1731.0,176.3 1731.5,175.9 1732.0,175.4 1732.5,175.1 1733.0,175.3 1733.5,175.4 1734.0,175.4 1734.5,176.0 1735.0,175.5 1735.5,175.6 1736.0,176.0 1736.5,175.3 1737.0,175.7 1737.5,176.2 1738.0,175.2 1738.5,174.8 1739.0,174.6 1739.5,174.1 1740.0,174.8 1740.5,174.3 1741.0,174.9 1741.5,175.6 1742.0,174.8 1742.5,174.9 1743.0,174.3 1743.5,175.0 1744.0,174.8 1744.5,174.9 1745.0,175.1 1745.5,175.4 1746.0,175.2 1746.5,175.2 1747.0,175.0 1747.5,175.2 1748.0,174.7 1748.5,175.0 1749.0,174.3 1749.5,174.6 1750.0,175.7 1750.5,175.5 1751.0,174.9 1751.5,175.2 1752.0,174.8 1752.5,174.4 1753.0,174.5 1753.5,175.1 1754.0,175.3 1754.5,175.3 1755.0,174.9 1755.5,174.6 1756.0,175.5 1756.5,175.5 1757.0,175.0 1757.5,174.3 1758.0,174.2 1758.5,175.7 1759.0,175.0 1759.5,175.1 1760.0,175.3 1760.5,175.2 1761.0,175.1 1761.5,174.6 1762.0,174.5 1762.5,175.5 1763.0,175.1 1763.5,175.5 1764.0,174.7 1764.5,174.9 1765.0,175.2 1765.5,175.6 1766.0,175.0 1766.5,175.4 1767.0,175.5 1767.5,175.1 1768.0,175.4" fill="none" stroke="#000000" stroke-width="3.7" stroke-linejoin="round" stroke-linecap="round"/>
<polyline points="1004.0,277.1 1004.5,276.9 1005.0,277.2 1005.5,276.1 1006.0,276.7 1006.5,276.6 1007.0,276.3 1007.5,276.7 1008.0,277.4 1008.5,277.3 1009.0,277.9 1009.5,277.2 1010.0,276.8 1010.5,277.8 1011.0,277.8 1011.5,278.1 1012.0,277.5 1012.5,277.8 1013.0,277.8 1013.5,278.0 1014.0,277.8 1014.5,278.2 1015.0,277.6 1015.5,277.1 1016.0,276.6 1016.5,277.5 1017.0,277.2 1017.5,276.9 1018.0,276.7 1018.5,276.9 1019.0,276.6 1019.5,276.9 1020.0,276.9 1020.5,276.9 1021.0,276.7 1021.5,277.1 1022.0,277.1 1022.5,277.3 1023.0,277.5 1023.5,277.7 1024.0,276.6 1024.5,276.8 1025.0,276.7 1025.5,277.4 1026.0,276.8 1026.5,276.8 1027.0,277.0 1027.5,277.1 1028.0,277.7 1028.5,277.4 1029.0,277.9 1029.5,277.1 1030.0,276.4 1030.5,277.5 1031.0,277.7 1031.5,277.8 1032.0,277.7 1032.5,277.8 1033.0,277.1 1033.5,277.7 1034.0,277.4 1034.5,277.9 1035.0,277.7 1035.5,276.7 1036.0,276.5 1036.5,277.5 1037.0,277.4 1037.5,277.3 1038.0,277.5 1038.5,277.3 1039.0,277.1 1039.5,277.4 1040.0,277.5 1040.5,278.2 1041.0,277.9 1041.5,278.6 1042.0,278.9 1042.5,279.0 1043.0,278.8 1043.5,278.3 1044.0,278.0 1044.5,277.7 1045.0,277.3 1045.5,277.4 1046.0,277.1 1046.5,278.0 1047.0,278.0 1047.5,277.6 1048.0,276.7 1048.5,277.0 1049.0,277.1 1049.5,276.8 1050.0,276.6 1050.5,276.0 1051.0,276.9 1051.5,277.2 1052.0,278.5 1052.5,278.0 1053.0,277.7 1053.5,278.3 1054.0,278.0 1054.5,277.8 1055.0,277.5 1055.5,277.2 1056.0,278.0 1056.5,278.2 1057.0,278.7 1057.5,278.0 1058.0,277.8 1058.5,277.3 1059.0,277.8 1059.5,277.0 1060.0,277.5 1060.5,278.0 1061.0,278.4 1061.5,277.6 1062.0,278.0 1062.5,277.5 1063.0,277.1 1063.5,276.7 1064.0,277.6 1064.5,278.3 1065.0,277.7 1065.5,277.2 1066.0,277.2 1066.5,278.5 1067.0,278.5 1067.5,277.8 1068.0,276.9 1068.5,276.8 1069.0,277.7 1069.5,278.4 1070.0,277.9 1070.5,277.4 1071.0,277.2 1071.5,276.5 1072.0,277.4 1072.5,276.9 1073.0,277.7 1073.5,276.8 1074.0,276.6 1074.5,277.1 1075.0,276.9 1075.5,277.5 1076.0,277.5 1076.5,277.0 1077.0,277.5 1077.5,277.9 1078.0,276.8 1078.5,278.0 1079.0,278.0 1079.5,278.1 1080.0,277.0 1080.5,276.9 1081.0,277.0 1081.5,277.7 1082.0,277.0 1082.5,276.8 1083.0,276.2 1083.5,276.7 1084.0,277.2 1084.5,276.6 1085.0,276.7 1085.5,277.3 1086.0,278.1 1086.5,278.1 1087.0,277.7 1087.5,277.1 1088.0,276.9 1088.5,276.8 1089.0,277.2 1089.5,277.3 1090.0,278.1 1090.5,278.0 1091.0,277.3 1091.5,278.1 1092.0,278.2 1092.5,278.0 1093.0,277.4 1093.5,276.6 1094.0,276.6 1094.5,277.4 1095.0,277.1 1095.5,276.7 1096.0,277.1 1096.5,277.4 1097.0,277.7 1097.5,277.9 1098.0,278.4 1098.5,277.6 1099.0,278.0 1099.5,277.3 1100.0,277.7 1100.5,277.7 1101.0,277.7 1101.5,278.1 1102.0,277.8 1102.5,278.2 1103.0,278.3 1103.5,278.0 1104.0,277.5 1104.5,277.2 1105.0,277.1 1105.5,277.2 1106.0,277.3 1106.5,278.7 1107.0,278.4 1107.5,278.3 1108.0,277.5 1108.5,277.1 1109.0,277.1 1109.5,277.3 1110.0,276.8 1110.5,277.8 1111.0,277.3 1111.5,277.7 1112.0,276.5 1112.5,276.8 1113.0,277.1 1113.5,277.2 1114.0,277.5 1114.5,277.4 1115.0,277.4 1115.5,276.4 1116.0,276.4 1116.5,275.6 1117.0,276.6 1117.5,276.9 1118.0,276.9 1118.5,276.6 1119.0,276.5 1119.5,277.5 1120.0,278.0 1120.5,277.5 1121.0,277.8 1121.5,276.7 1122.0,275.9 1122.5,276.1 1123.0,276.0 1123.5,276.1 1124.0,276.5 1124.5,278.0 1125.0,277.1 1125.5,277.0 1126.0,277.0 1126.5,276.9 1127.0,277.2 1127.5,277.8 1128.0,276.7 1128.5,276.7 1129.0,276.6 1129.5,276.7 1130.0,276.0 1130.5,275.5 1131.0,274.9 1131.5,275.9 1132.0,276.2 1132.5,276.4 1133.0,275.4 1133.5,275.7 1134.0,275.7 1134.5,275.4 1135.0,275.4 1135.5,276.2 1136.0,276.5 1136.5,276.4 1137.0,276.6 1137.5,276.2 1138.0,276.3 1138.5,276.3 1139.0,276.5 1139.5,276.4 1140.0,276.2 1140.5,276.1 1141.0,275.8 1141.5,276.9 1142.0,276.7 1142.5,276.5 1143.0,277.3 1143.5,277.2 1144.0,275.8 1144.5,276.1 1145.0,276.2 1145.5,276.8 1146.0,276.8 1146.5,276.5 1147.0,275.5 1147.5,275.0 1148.0,275.3 1148.5,275.5 1149.0,274.9 1149.5,274.8 1150.0,274.7 1150.5,274.9 1151.0,275.1 1151.5,274.9 1152.0,274.4 1152.5,275.2 1153.0,275.8 1153.5,275.4 1154.0,275.7 1154.5,275.6 1155.0,275.6 1155.5,275.6 1156.0,275.0 1156.5,275.5 1157.0,276.2 1157.5,275.8 1158.0,277.0 1158.5,277.8 1159.0,278.3 1159.5,278.8 1160.0,278.6 1160.5,278.1 1161.0,277.9 1161.5,277.8 1162.0,278.3 1162.5,278.6 1163.0,279.3 1163.5,278.2 1164.0,279.6 1164.5,280.4 1165.0,279.8 1165.5,279.7 1166.0,279.6 1166.5,279.5 1167.0,279.2 1167.5,279.1 1168.0,278.7 1168.5,279.0 1169.0,279.0 1169.5,279.2 1170.0,278.8 1170.5,278.9 1171.0,279.0 1171.5,279.3 1172.0,278.8 1172.5,279.1 1173.0,279.6 1173.5,279.7 1174.0,279.3 1174.5,279.0 1175.0,279.0 1175.5,279.4 1176.0,280.0 1176.5,279.6 1177.0,279.1 1177.5,279.3 1178.0,279.4 1178.5,278.9 1179.0,278.7 1179.5,278.9 1180.0,279.4 1180.5,278.8 1181.0,278.5 1181.5,279.1 1182.0,278.6 1182.5,279.0 1183.0,279.3 1183.5,279.2 1184.0,278.8 1184.5,279.0 1185.0,279.0 1185.5,279.3 1186.0,278.9 1186.5,279.6 1187.0,278.7 1187.5,278.9 1188.0,279.1 1188.5,279.7 1189.0,279.2 1189.5,279.5 1190.0,279.2 1190.5,279.6 1191.0,280.3 1191.5,279.7 1192.0,279.8 1192.5,279.2 1193.0,279.7 1193.5,280.1 1194.0,279.8 1194.5,279.1 1195.0,279.5 1195.5,280.0 1196.0,280.2 1196.5,280.2 1197.0,279.1 1197.5,278.9 1198.0,279.8 1198.5,279.1 1199.0,279.8 1199.5,280.5 1200.0,280.4 1200.5,280.5 1201.0,279.9 1201.5,279.1 1202.0,279.2 1202.5,279.2 1203.0,279.3 1203.5,279.7 1204.0,279.5 1204.5,279.5 1205.0,279.7 1205.5,279.5 1206.0,280.3 1206.5,280.1 1207.0,279.8 1207.5,279.5 1208.0,279.1 1208.5,279.8 1209.0,279.7 1209.5,279.0 1210.0,278.9 1210.5,279.0 1211.0,278.9 1211.5,279.6 1212.0,278.9 1212.5,279.3 1213.0,279.3 1213.5,278.8 1214.0,279.0 1214.5,279.0 1215.0,279.3 1215.5,279.1 1216.0,279.3 1216.5,278.5 1217.0,278.3 1217.5,279.0 1218.0,279.6 1218.5,279.4 1219.0,279.0 1219.5,279.5 1220.0,278.4 1220.5,278.4 1221.0,279.0 1221.5,279.3 1222.0,278.8 1222.5,278.0 1223.0,279.2 1223.5,279.2 1224.0,278.7 1224.5,278.9 1225.0,279.3 1225.5,278.0 1226.0,279.0 1226.5,279.3 1227.0,278.2 1227.5,278.9 1228.0,278.1 1228.5,279.0 1229.0,279.2 1229.5,280.1 1230.0,279.3 1230.5,279.1 1231.0,279.5 1231.5,278.9 1232.0,278.6 1232.5,278.6 1233.0,278.7 1233.5,278.3 1234.0,278.7 1234.5,279.0 1235.0,279.0 1235.5,279.7 1236.0,279.1 1236.5,279.6 1237.0,279.0 1237.5,279.2 1238.0,278.2 1238.5,278.5 1239.0,278.5 1239.5,278.4 1240.0,278.3 1240.5,278.3 1241.0,278.2 1241.5,277.4 1242.0,277.7 1242.5,277.9 1243.0,278.0 1243.5,277.8 1244.0,278.2 1244.5,278.7 1245.0,278.6 1245.5,278.4 1246.0,279.1 1246.5,279.3 1247.0,279.4 1247.5,279.6 1248.0,279.0 1248.5,278.7 1249.0,279.2 1249.5,278.6 1250.0,278.5 1250.5,278.7 1251.0,278.8 1251.5,278.6 1252.0,279.0 1252.5,278.7 1253.0,278.9 1253.5,279.2 1254.0,279.2 1254.5,279.2 1255.0,278.3 1255.5,277.8 1256.0,277.8 1256.5,278.3 1257.0,279.0 1257.5,278.2 1258.0,278.4 1258.5,278.0 1259.0,277.9 1259.5,278.0 1260.0,278.5 1260.5,278.5 1261.0,279.0 1261.5,278.2 1262.0,278.7 1262.5,278.9 1263.0,278.7 1263.5,278.7 1264.0,278.3 1264.5,277.8 1265.0,277.8 1265.5,277.7 1266.0,279.3 1266.5,278.6 1267.0,279.2 1267.5,278.8 1268.0,278.7 1268.5,278.8 1269.0,278.2 1269.5,278.6 1270.0,278.6 1270.5,277.7 1271.0,278.2 1271.5,278.4 1272.0,278.5 1272.5,279.0 1273.0,278.4 1273.5,278.5 1274.0,278.7 1274.5,278.0 1275.0,278.6 1275.5,277.7 1276.0,277.3 1276.5,277.9 1277.0,277.5 1277.5,277.7 1278.0,277.1 1278.5,277.5 1279.0,277.2 1279.5,277.7 1280.0,277.2 1280.5,277.7 1281.0,277.7 1281.5,277.9 1282.0,277.9 1282.5,278.0 1283.0,277.4 1283.5,276.5 1284.0,277.1 1284.5,277.1 1285.0,277.2 1285.5,277.7 1286.0,276.9 1286.5,277.0 1287.0,277.1 1287.5,277.0 1288.0,277.5 1288.5,277.6 1289.0,277.3 1289.5,277.1 1290.0,277.8 1290.5,277.5 1291.0,277.9 1291.5,278.0 1292.0,277.1 1292.5,276.9 1293.0,277.3 1293.5,277.6 1294.0,278.0 1294.5,278.2 1295.0,278.5 1295.5,278.0 1296.0,277.7 1296.5,278.1 1297.0,277.7 1297.5,278.2 1298.0,277.2 1298.5,277.7 1299.0,277.6 1299.5,276.7 1300.0,277.6 1300.5,277.7 1301.0,277.7 1301.5,277.1 1302.0,277.1 1302.5,278.0 1303.0,277.4 1303.5,275.9 1304.0,276.3 1304.5,276.3 1305.0,276.8 1305.5,276.9 1306.0,276.8 1306.5,276.7 1307.0,277.5 1307.5,276.9 1308.0,278.0 1308.5,277.5 1309.0,277.0 1309.5,277.5 1310.0,277.7 1310.5,277.1 1311.0,277.6 1311.5,276.7 1312.0,276.6 1312.5,277.4 1313.0,277.3 1313.5,276.7 1314.0,277.2 1314.5,277.7 1315.0,277.5 1315.5,276.6 1316.0,276.8 1316.5,277.2 1317.0,277.6 1317.5,278.3 1318.0,277.7 1318.5,277.3 1319.0,277.3 1319.5,277.8 1320.0,277.1 1320.5,277.8 1321.0,276.3 1321.5,277.1 1322.0,276.8 1322.5,277.2 1323.0,277.5 1323.5,276.8 1324.0,276.9 1324.5,277.1 1325.0,277.4 1325.5,276.9 1326.0,276.5 1326.5,275.9 1327.0,277.6 1327.5,277.3 1328.0,277.1 1328.5,276.4 1329.0,277.1 1329.5,276.9 1330.0,277.6 1330.5,277.7 1331.0,277.4 1331.5,277.6 1332.0,276.8 1332.5,276.8 1333.0,276.6 1333.5,276.2 1334.0,276.6 1334.5,276.7 1335.0,277.4 1335.5,275.7 1336.0,276.0 1336.5,276.0 1337.0,276.2 1337.5,276.7 1338.0,277.0 1338.5,277.0 1339.0,276.7 1339.5,277.0 1340.0,277.1 1340.5,276.2 1341.0,276.4 1341.5,276.0 1342.0,275.8 1342.5,276.3 1343.0,276.6 1343.5,276.7 1344.0,276.4 1344.5,276.5 1345.0,276.2 1345.5,276.6 1346.0,277.0 1346.5,277.7 1347.0,277.8 1347.5,277.0 1348.0,276.6 1348.5,276.2 1349.0,276.6 1349.5,277.5 1350.0,277.5 1350.5,276.1 1351.0,275.8 1351.5,275.6 1352.0,276.3 1352.5,276.4 1353.0,276.7 1353.5,277.4 1354.0,276.7 1354.5,276.3 1355.0,277.3 1355.5,277.1 1356.0,276.5 1356.5,275.6 1357.0,275.4 1357.5,274.8 1358.0,275.6 1358.5,276.0 1359.0,276.7 1359.5,276.5 1360.0,276.2 1360.5,276.0 1361.0,277.1 1361.5,276.0 1362.0,276.3 1362.5,276.4 1363.0,276.7 1363.5,276.4 1364.0,276.6 1364.5,276.9 1365.0,276.6 1365.5,276.3 1366.0,276.2 1366.5,275.9 1367.0,276.0 1367.5,276.0 1368.0,276.3 1368.5,276.9 1369.0,277.2 1369.5,276.6 1370.0,276.7 1370.5,276.7 1371.0,276.8 1371.5,276.6 1372.0,276.6 1372.5,276.2 1373.0,275.9 1373.5,276.4 1374.0,276.9 1374.5,276.9 1375.0,276.8 1375.5,276.6 1376.0,276.2 1376.5,275.4 1377.0,276.0 1377.5,276.2 1378.0,275.9 1378.5,275.6 1379.0,276.4 1379.5,275.5 1380.0,276.6 1380.5,276.6 1381.0,277.5 1381.5,276.5 1382.0,276.3 1382.5,276.0 1383.0,276.1 1383.5,276.0 1384.0,275.7 1384.5,276.3 1385.0,275.8 1385.5,275.7 1386.0,276.1 1386.5,275.8 1387.0,275.7 1387.5,276.0 1388.0,275.8 1388.5,275.3 1389.0,275.5 1389.5,275.6 1390.0,276.5 1390.5,275.8 1391.0,276.3 1391.5,275.7 1392.0,275.6 1392.5,275.6 1393.0,275.8 1393.5,276.2 1394.0,276.9 1394.5,276.1 1395.0,276.6 1395.5,276.7 1396.0,276.7 1396.5,275.9 1397.0,276.3 1397.5,276.0 1398.0,276.1 1398.5,275.8 1399.0,276.1 1399.5,276.4 1400.0,276.6 1400.5,276.1 1401.0,276.4 1401.5,276.7 1402.0,275.9 1402.5,276.4 1403.0,275.5 1403.5,275.8 1404.0,276.0 1404.5,276.5 1405.0,276.3 1405.5,275.8 1406.0,275.3 1406.5,274.9 1407.0,275.6 1407.5,275.5 1408.0,275.2 1408.5,275.6 1409.0,275.2 1409.5,275.2 1410.0,275.1 1410.5,276.1 1411.0,276.5 1411.5,276.0 1412.0,275.1 1412.5,275.4 1413.0,275.5 1413.5,275.6 1414.0,275.8 1414.5,275.5 1415.0,275.9 1415.5,276.1 1416.0,275.9 1416.5,275.5 1417.0,275.2 1417.5,275.6 1418.0,275.0 1418.5,275.1 1419.0,274.9 1419.5,274.5 1420.0,275.2 1420.5,275.2 1421.0,275.3 1421.5,275.7 1422.0,274.9 1422.5,275.0 1423.0,275.3 1423.5,275.7 1424.0,275.0 1424.5,275.5 1425.0,275.5 1425.5,276.0 1426.0,276.2 1426.5,276.0 1427.0,276.6 1427.5,276.0 1428.0,275.5 1428.5,275.2 1429.0,274.8 1429.5,274.9 1430.0,274.2 1430.5,274.6 1431.0,275.0 1431.5,275.5 1432.0,275.2 1432.5,275.8 1433.0,275.2 1433.5,275.1 1434.0,274.3 1434.5,274.3 1435.0,274.3 1435.5,275.3 1436.0,275.4 1436.5,274.8 1437.0,275.1 1437.5,275.3 1438.0,275.1 1438.5,275.1 1439.0,274.9 1439.5,274.7 1440.0,274.1 1440.5,274.5 1441.0,275.4 1441.5,276.0 1442.0,275.6 1442.5,275.2 1443.0,275.3 1443.5,275.8 1444.0,275.7 1444.5,275.1 1445.0,274.4 1445.5,272.6 1446.0,269.6 1446.5,264.6 1447.0,258.1 1447.5,251.8 1448.0,246.9 1448.5,245.0 1449.0,246.9 1449.5,252.0 1450.0,258.6 1450.5,264.8 1451.0,270.6 1451.5,274.1 1452.0,276.2 1452.5,276.4 1453.0,277.6 1453.5,276.8 1454.0,276.8 1454.5,277.4 1455.0,278.0 1455.5,277.4 1456.0,277.2 1456.5,277.4 1457.0,276.6 1457.5,277.3 1458.0,277.6 1458.5,277.3 1459.0,277.6 1459.5,277.8 1460.0,277.8 1460.5,277.8 1461.0,278.3 1461.5,277.7 1462.0,277.6 1462.5,277.2 1463.0,277.7 1463.5,277.4 1464.0,277.5 1464.5,277.5 1465.0,277.4 1465.5,278.1 1466.0,277.7 1466.5,278.1 1467.0,278.1 1467.5,278.3 1468.0,277.7 1468.5,277.9 1469.0,277.9 1469.5,277.3 1470.0,277.3 1470.5,277.2 1471.0,277.1 1471.5,277.7 1472.0,277.1 1472.5,276.4 1473.0,275.9 1473.5,276.2 1474.0,276.3 1474.5,276.7 1475.0,277.1 1475.5,277.8 1476.0,277.6 1476.5,277.5 1477.0,277.0 1477.5,277.2 1478.0,277.7 1478.5,277.9 1479.0,276.6 1479.5,277.1 1480.0,277.7 1480.5,277.7 1481.0,276.7 1481.5,276.6 1482.0,277.0 1482.5,277.1 1483.0,276.6 1483.5,276.3 1484.0,277.0 1484.5,276.3 1485.0,277.1 1485.5,277.0 1486.0,277.0 1486.5,276.3 1487.0,276.2 1487.5,276.8 1488.0,276.1 1488.5,277.3 1489.0,276.4 1489.5,276.0 1490.0,276.3 1490.5,276.7 1491.0,277.0 1491.5,276.7 1492.0,276.5 1492.5,276.5 1493.0,276.3 1493.5,275.3 1494.0,276.3 1494.5,276.5 1495.0,276.6 1495.5,276.3 1496.0,276.5 1496.5,276.5 1497.0,276.5 1497.5,276.9 1498.0,276.0 1498.5,276.3 1499.0,275.9 1499.5,276.0 1500.0,276.8 1500.5,276.2 1501.0,276.2 1501.5,276.0 1502.0,276.6 1502.5,276.1 1503.0,275.5 1503.5,276.1 1504.0,276.0 1504.5,276.0 1505.0,276.6 1505.5,276.1 1506.0,276.0 1506.5,276.2 1507.0,276.4 1507.5,276.1 1508.0,276.6 1508.5,277.4 1509.0,276.7 1509.5,277.3 1510.0,275.9 1510.5,276.6 1511.0,276.3 1511.5,276.3 1512.0,276.1 1512.5,275.8 1513.0,275.4 1513.5,275.5 1514.0,276.3 1514.5,276.7 1515.0,276.3 1515.5,275.9 1516.0,275.7 1516.5,275.3 1517.0,276.4 1517.5,276.5 1518.0,276.3 1518.5,276.0 1519.0,275.5 1519.5,276.3 1520.0,276.5 1520.5,275.8 1521.0,276.3 1521.5,275.6 1522.0,276.0 1522.5,275.5 1523.0,275.5 1523.5,275.9 1524.0,276.0 1524.5,276.4 1525.0,275.8 1525.5,276.5 1526.0,276.7 1526.5,276.3 1527.0,276.3 1527.5,275.7 1528.0,275.7 1528.5,275.1 1529.0,275.4 1529.5,275.6 1530.0,276.2 1530.5,276.4 1531.0,276.4 1531.5,275.8 1532.0,275.5 1532.5,275.0 1533.0,274.4 1533.5,272.4 1534.0,271.1 1534.5,268.4 1535.0,266.0 1535.5,264.2 1536.0,263.5 1536.5,264.3 1537.0,266.2 1537.5,269.0 1538.0,271.7 1538.5,273.2 1539.0,274.5 1539.5,275.6 1540.0,275.5 1540.5,275.6 1541.0,275.3 1541.5,275.4 1542.0,275.2 1542.5,275.3 1543.0,275.8 1543.5,276.2 1544.0,275.9 1544.5,275.7 1545.0,275.9 1545.5,275.5 1546.0,275.0 1546.5,275.6 1547.0,275.1 1547.5,275.6 1548.0,275.0 1548.5,275.9 1549.0,275.2 1549.5,275.6 1550.0,276.0 1550.5,275.2 1551.0,275.9 1551.5,275.2 1552.0,274.4 1552.5,275.1 1553.0,275.4 1553.5,275.2 1554.0,274.1 1554.5,274.5 1555.0,274.6 1555.5,274.7 1556.0,274.7 1556.5,274.1 1557.0,274.3 1557.5,275.4 1558.0,275.9 1558.5,275.3 1559.0,274.9 1559.5,275.1 1560.0,275.5 1560.5,275.6 1561.0,274.8 1561.5,274.9 1562.0,275.0 1562.5,275.6 1563.0,275.8 1563.5,275.6 1564.0,275.8 1564.5,275.2 1565.0,275.7 1565.5,275.1 1566.0,275.2 1566.5,275.4 1567.0,274.7 1567.5,274.5 1568.0,273.8 1568.5,274.3 1569.0,274.5 1569.5,274.5 1570.0,274.8 1570.5,273.8 1571.0,274.2 1571.5,274.5 1572.0,274.4 1572.5,274.9 1573.0,275.5 1573.5,274.9 1574.0,274.4 1574.5,274.2 1575.0,274.4 1575.5,274.8 1576.0,274.3 1576.5,274.9 1577.0,274.3 1577.5,274.8 1578.0,274.8 1578.5,274.9 1579.0,275.7 1579.5,275.0 1580.0,274.7 1580.5,274.8 1581.0,275.1 1581.5,274.3 1582.0,274.5 1582.5,274.2 1583.0,274.7 1583.5,275.2 1584.0,275.0 1584.5,274.8 1585.0,274.8 1585.5,273.5 1586.0,274.4 1586.5,274.8 1587.0,274.8 1587.5,274.6 1588.0,274.4 1588.5,274.5 1589.0,275.1 1589.5,274.9 1590.0,275.5 1590.5,274.1 1591.0,274.2 1591.5,274.6 1592.0,274.7 1592.5,274.1 1593.0,274.2 1593.5,275.1 1594.0,274.4 1594.5,274.2 1595.0,274.1 1595.5,274.3 1596.0,274.9 1596.5,275.2 1597.0,274.9 1597.5,276.6 1598.0,277.0 1598.5,277.5 1599.0,279.0 1599.5,279.5 1600.0,279.5 1600.5,280.1 1601.0,280.7 1601.5,281.2 1602.0,282.1 1602.5,283.5 1603.0,284.3 1603.5,284.3 1604.0,286.4 1604.5,286.3 1605.0,287.0 1605.5,287.7 1606.0,288.7 1606.5,289.1 1607.0,289.2 1607.5,290.0 1608.0,289.0 1608.5,287.3 1609.0,285.1 1609.5,280.5 1610.0,272.1 1610.5,258.7 1611.0,240.1 1611.5,218.5 1612.0,198.8 1612.5,186.2 1613.0,185.0 1613.5,195.7 1614.0,215.1 1614.5,238.3 1615.0,259.4 1615.5,276.3 1616.0,287.6 1616.5,293.2 1617.0,296.7 1617.5,298.1 1618.0,300.0 1618.5,299.6 1619.0,300.0 1619.5,300.2 1620.0,300.2 1620.5,300.3 1621.0,300.0 1621.5,300.0 1622.0,300.1 1622.5,300.1 1623.0,300.2 1623.5,300.1 1624.0,299.9 1624.5,299.9 1625.0,300.0 1625.5,299.7 1626.0,299.6 1626.5,299.7 1627.0,299.7 1627.5,299.8 1628.0,299.4 1628.5,299.6 1629.0,299.7 1629.5,300.0 1630.0,299.6 1630.5,299.8 1631.0,300.0 1631.5,300.1 1632.0,300.3 1632.5,300.4 1633.0,300.0 1633.5,300.2 1634.0,300.0 1634.5,299.9 1635.0,300.2 1635.5,300.0 1636.0,299.9 1636.5,299.9 1637.0,299.8 1637.5,300.1 1638.0,300.1 1638.5,300.4 1639.0,300.3 1639.5,300.1 1640.0,300.3 1640.5,300.0 1641.0,300.0 1641.5,300.0 1642.0,300.0 1642.5,300.3 1643.0,300.0 1643.5,300.1 1644.0,300.1 1644.5,299.8 1645.0,299.7 1645.5,299.8 1646.0,300.0 1646.5,300.1 1647.0,300.2 1647.5,300.1 1648.0,300.0 1648.5,300.1 1649.0,299.9 1649.5,299.7 1650.0,299.8 1650.5,299.6 1651.0,299.7 1651.5,299.7 1652.0,299.8 1652.5,299.9 1653.0,299.8 1653.5,299.9 1654.0,299.6 1654.5,299.9 1655.0,299.8 1655.5,300.0 1656.0,299.5 1656.5,299.6 1657.0,299.9 1657.5,299.5 1658.0,299.7 1658.5,299.9 1659.0,300.0 1659.5,299.7 1660.0,299.9 1660.5,300.0 1661.0,299.9 1661.5,300.1 1662.0,300.1 1662.5,300.1 1663.0,300.0 1663.5,300.2 1664.0,300.1 1664.5,300.3 1665.0,300.3 1665.5,300.1 1666.0,300.1 1666.5,300.3 1667.0,300.1 1667.5,300.2 1668.0,300.2 1668.5,300.1 1669.0,299.7 1669.5,299.9 1670.0,300.0 1670.5,300.1 1671.0,300.0 1671.5,300.3 1672.0,300.2 1672.5,300.0 1673.0,299.9 1673.5,300.1 1674.0,299.9 1674.5,299.8 1675.0,300.3 1675.5,300.5 1676.0,300.5 1676.5,300.6 1677.0,300.5 1677.5,300.0 1678.0,300.3 1678.5,300.5 1679.0,300.4 1679.5,299.9 1680.0,300.2 1680.5,300.5 1681.0,300.2 1681.5,300.2 1682.0,300.3 1682.5,300.2 1683.0,300.4 1683.5,300.3 1684.0,300.4 1684.5,300.3 1685.0,299.9 1685.5,299.8 1686.0,300.6 1686.5,300.4 1687.0,300.6 1687.5,300.6 1688.0,300.7 1688.5,300.6 1689.0,300.3 1689.5,300.2 1690.0,299.8 1690.5,299.9 1691.0,300.2 1691.5,299.8 1692.0,300.0 1692.5,300.2 1693.0,300.4 1693.5,300.1 1694.0,300.0 1694.5,299.7 1695.0,299.7 1695.5,300.0 1696.0,300.5 1696.5,300.1 1697.0,300.4 1697.5,300.4 1698.0,300.2 1698.5,300.6 1699.0,299.9 1699.5,300.0 1700.0,300.1 1700.5,300.6 1701.0,300.7 1701.5,300.9 1702.0,300.6 1702.5,300.6 1703.0,300.7 1703.5,300.6 1704.0,300.5 1704.5,300.3 1705.0,300.2 1705.5,299.9 1706.0,300.4 1706.5,300.2 1707.0,299.8 1707.5,300.0 1708.0,300.1 1708.5,300.2 1709.0,300.5 1709.5,300.4 1710.0,300.2 1710.5,300.1 1711.0,300.1 1711.5,300.1 1712.0,300.2 1712.5,300.8 1713.0,300.6 1713.5,300.2 1714.0,300.6 1714.5,300.6 1715.0,300.6 1715.5,300.5 1716.0,300.6 1716.5,300.5 1717.0,300.7 1717.5,300.6 1718.0,300.7 1718.5,300.4 1719.0,300.3 1719.5,300.1 1720.0,300.3 1720.5,300.4 1721.0,300.2 1721.5,300.3 1722.0,300.8 1722.5,300.8 1723.0,300.3 1723.5,300.2 1724.0,300.4 1724.5,300.3 1725.0,300.3 1725.5,300.5 1726.0,300.4 1726.5,300.1 1727.0,300.3 1727.5,300.3 1728.0,300.3 1728.5,300.1 1729.0,299.9 1729.5,299.8 1730.0,299.9 1730.5,299.8 1731.0,299.5 1731.5,300.0 1732.0,299.9 1732.5,299.9 1733.0,300.2 1733.5,299.7 1734.0,300.2 1734.5,300.1 1735.0,300.3 1735.5,300.2 1736.0,300.3 1736.5,300.3 1737.0,300.3 1737.5,299.9 1738.0,299.8 1738.5,300.0 1739.0,300.4 1739.5,300.2 1740.0,300.3 1740.5,300.3 1741.0,300.4 1741.5,300.5 1742.0,300.1 1742.5,300.2 1743.0,300.2 1743.5,300.2 1744.0,300.0 1744.5,300.0 1745.0,299.9 1745.5,299.8 1746.0,300.5 1746.5,300.7 1747.0,300.5 1747.5,300.6 1748.0,300.2 1748.5,299.7 1749.0,299.6 1749.5,299.9 1750.0,300.4 1750.5,300.3 1751.0,300.1 1751.5,300.1 1752.0,300.0 1752.5,299.8 1753.0,300.0 1753.5,300.0 1754.0,300.0 1754.5,299.9 1755.0,299.9 1755.5,300.1 1756.0,300.5 1756.5,300.3 1757.0,300.8 1757.5,300.2 1758.0,300.3 1758.5,300.1 1759.0,300.1 1759.5,300.2 1760.0,300.4 1760.5,300.5 1761.0,300.3 1761.5,300.1 1762.0,300.1 1762.5,300.3 1763.0,300.1 1763.5,300.4 1764.0,300.7 1764.5,300.2 1765.0,300.3 1765.5,300.5 1766.0,300.0 1766.5,300.2 1767.0,300.2 1767.5,300.0 1768.0,300.4" fill="none" stroke="#ff0000" stroke-width="3.7" stroke-linejoin="round" stroke-linecap="round"/>
<polyline points="1004.0,388.6 1004.5,388.3 1005.0,388.6 1005.5,388.9 1006.0,389.1 1006.5,389.2 1007.0,389.1 1007.5,388.2 1008.0,388.1 1008.5,388.4 1009.0,386.9 1009.5,388.8 1010.0,388.5 1010.5,387.9 1011.0,387.2 1011.5,387.9 1012.0,388.2 1012.5,388.0 1013.0,388.0 1013.5,387.8 1014.0,387.7 1014.5,388.0 1015.0,387.9 1015.5,388.5 1016.0,388.4 1016.5,388.5 1017.0,388.7 1017.5,389.3 1018.0,389.3 1018.5,389.0 1019.0,388.7 1019.5,388.2 1020.0,388.1 1020.5,388.7 1021.0,388.7 1021.5,388.4 1022.0,387.7 1022.5,387.3 1023.0,388.0 1023.5,388.8 1024.0,388.8 1024.5,388.0 1025.0,388.1 1025.5,388.4 1026.0,387.9 1026.5,388.4 1027.0,388.3 1027.5,388.0 1028.0,387.5 1028.5,388.4 1029.0,388.6 1029.5,388.1 1030.0,387.7 1030.5,388.6 1031.0,388.9 1031.5,388.5 1032.0,389.4 1032.5,388.8 1033.0,388.1 1033.5,388.9 1034.0,388.6 1034.5,388.7 1035.0,388.7 1035.5,388.0 1036.0,387.6 1036.5,387.9 1037.0,388.9 1037.5,388.2 1038.0,389.1 1038.5,388.9 1039.0,388.1 1039.5,388.4 1040.0,388.8 1040.5,388.2 1041.0,387.2 1041.5,388.0 1042.0,387.6 1042.5,388.2 1043.0,387.3 1043.5,387.8 1044.0,387.7 1044.5,387.3 1045.0,387.7 1045.5,388.1 1046.0,388.0 1046.5,387.6 1047.0,388.1 1047.5,387.4 1048.0,388.2 1048.5,388.6 1049.0,389.4 1049.5,389.5 1050.0,389.2 1050.5,389.0 1051.0,388.8 1051.5,388.0 1052.0,389.0 1052.5,389.0 1053.0,388.6 1053.5,388.0 1054.0,389.0 1054.5,389.1 1055.0,388.2 1055.5,388.7 1056.0,389.6 1056.5,389.1 1057.0,389.0 1057.5,388.6 1058.0,388.2 1058.5,388.9 1059.0,390.4 1059.5,389.6 1060.0,389.0 1060.5,389.2 1061.0,388.7 1061.5,389.0 1062.0,389.2 1062.5,388.4 1063.0,387.8 1063.5,388.1 1064.0,388.7 1064.5,388.8 1065.0,389.3 1065.5,388.2 1066.0,388.6 1066.5,388.2 1067.0,388.4 1067.5,388.6 1068.0,388.0 1068.5,388.1 1069.0,387.7 1069.5,388.2 1070.0,387.9 1070.5,387.9 1071.0,388.3 1071.5,388.0 1072.0,388.9 1072.5,388.4 1073.0,388.9 1073.5,388.9 1074.0,388.1 1074.5,388.2 1075.0,387.9 1075.5,388.0 1076.0,388.1 1076.5,389.2 1077.0,388.7 1077.5,389.4 1078.0,389.3 1078.5,388.2 1079.0,387.1 1079.5,388.1 1080.0,387.2 1080.5,388.2 1081.0,388.9 1081.5,388.9 1082.0,388.6 1082.5,388.4 1083.0,388.6 1083.5,388.4 1084.0,388.2 1084.5,388.1 1085.0,388.9 1085.5,388.4 1086.0,388.6 1086.5,388.0 1087.0,387.8 1087.5,387.4 1088.0,387.8 1088.5,388.5 1089.0,388.6 1089.5,388.3 1090.0,388.7 1090.5,388.4 1091.0,388.7 1091.5,388.7 1092.0,388.9 1092.5,387.4 1093.0,387.2 1093.5,388.2 1094.0,388.3 1094.5,389.6 1095.0,389.0 1095.5,388.5 1096.0,389.3 1096.5,389.2 1097.0,389.9 1097.5,389.5 1098.0,389.0 1098.5,389.1 1099.0,388.4 1099.5,388.2 1100.0,388.1 1100.5,388.1 1101.0,388.7 1101.5,388.4 1102.0,388.6 1102.5,388.3 1103.0,388.9 1103.5,387.2 1104.0,387.7 1104.5,388.1 1105.0,387.7 1105.5,388.6 1106.0,388.6 1106.5,389.2 1107.0,389.3 1107.5,389.2 1108.0,388.7 1108.5,387.9 1109.0,388.0 1109.5,387.8 1110.0,388.1 1110.5,387.9 1111.0,389.6 1111.5,388.1 1112.0,388.7 1112.5,388.2 1113.0,388.0 1113.5,388.5 1114.0,388.2 1114.5,387.4 1115.0,387.9 1115.5,387.8 1116.0,386.7 1116.5,387.3 1117.0,387.0 1117.5,386.9 1118.0,387.5 1118.5,387.8 1119.0,387.6 1119.5,388.8 1120.0,388.5 1120.5,387.7 1121.0,387.8 1121.5,387.6 1122.0,386.4 1122.5,386.0 1123.0,385.9 1123.5,387.7 1124.0,387.5 1124.5,387.3 1125.0,387.0 1125.5,387.6 1126.0,387.5 1126.5,388.3 1127.0,388.2 1127.5,388.6 1128.0,387.9 1128.5,387.7 1129.0,387.2 1129.5,387.1 1130.0,386.1 1130.5,386.2 1131.0,386.1 1131.5,386.1 1132.0,387.1 1132.5,387.2 1133.0,387.7 1133.5,387.8 1134.0,387.8 1134.5,387.9 1135.0,387.1 1135.5,387.3 1136.0,386.9 1136.5,386.5 1137.0,387.2 1137.5,388.1 1138.0,386.9 1138.5,387.7 1139.0,387.6 1139.5,386.6 1140.0,386.7 1140.5,386.7 1141.0,386.7 1141.5,386.2 1142.0,385.5 1142.5,385.7 1143.0,386.2 1143.5,386.4 1144.0,386.4 1144.5,386.6 1145.0,385.6 1145.5,385.5 1146.0,385.6 1146.5,385.9 1147.0,385.7 1147.5,385.6 1148.0,385.4 1148.5,386.3 1149.0,384.4 1149.5,384.5 1150.0,385.9 1150.5,385.4 1151.0,384.0 1151.5,384.3 1152.0,383.6 1152.5,383.7 1153.0,384.2 1153.5,385.2 1154.0,385.1 1154.5,385.2 1155.0,385.4 1155.5,385.1 1156.0,384.4 1156.5,384.9 1157.0,385.7 1157.5,386.0 1158.0,386.2 1158.5,386.8 1159.0,386.7 1159.5,387.1 1160.0,388.1 1160.5,388.8 1161.0,389.6 1161.5,391.0 1162.0,391.4 1162.5,391.7 1163.0,391.5 1163.5,391.2 1164.0,391.8 1164.5,391.4 1165.0,391.9 1165.5,391.4 1166.0,391.8 1166.5,391.9 1167.0,392.5 1167.5,392.1 1168.0,391.9 1168.5,392.1 1169.0,392.1 1169.5,393.0 1170.0,392.5 1170.5,392.0 1171.0,391.9 1171.5,392.2 1172.0,392.3 1172.5,392.6 1173.0,391.7 1173.5,393.2 1174.0,393.7 1174.5,393.0 1175.0,392.0 1175.5,392.2 1176.0,392.4 1176.5,391.1 1177.0,391.6 1177.5,391.1 1178.0,391.8 1178.5,392.7 1179.0,393.1 1179.5,391.9 1180.0,392.8 1180.5,393.0 1181.0,392.5 1181.5,392.6 1182.0,393.3 1182.5,392.6 1183.0,392.5 1183.5,392.1 1184.0,392.8 1184.5,391.4 1185.0,392.6 1185.5,391.9 1186.0,392.6 1186.5,391.6 1187.0,391.4 1187.5,391.5 1188.0,392.3 1188.5,391.5 1189.0,392.2 1189.5,391.9 1190.0,392.8 1190.5,392.4 1191.0,392.7 1191.5,392.5 1192.0,393.4 1192.5,392.8 1193.0,392.6 1193.5,393.6 1194.0,393.1 1194.5,393.2 1195.0,392.4 1195.5,392.6 1196.0,391.3 1196.5,391.9 1197.0,391.8 1197.5,391.3 1198.0,391.1 1198.5,392.3 1199.0,392.6 1199.5,391.8 1200.0,393.1 1200.5,392.4 1201.0,392.2 1201.5,392.5 1202.0,391.8 1202.5,391.2 1203.0,391.4 1203.5,392.4 1204.0,392.9 1204.5,391.8 1205.0,392.7 1205.5,392.5 1206.0,392.7 1206.5,392.5 1207.0,392.6 1207.5,391.9 1208.0,391.6 1208.5,391.5 1209.0,391.6 1209.5,392.2 1210.0,391.6 1210.5,392.7 1211.0,392.1 1211.5,391.8 1212.0,392.3 1212.5,392.5 1213.0,392.1 1213.5,391.5 1214.0,391.3 1214.5,390.8 1215.0,391.9 1215.5,392.6 1216.0,393.3 1216.5,393.0 1217.0,392.7 1217.5,392.8 1218.0,392.9 1218.5,392.3 1219.0,392.3 1219.5,393.3 1220.0,391.8 1220.5,391.1 1221.0,390.9 1221.5,391.7 1222.0,392.4 1222.5,392.0 1223.0,392.3 1223.5,392.0 1224.0,392.1 1224.5,391.6 1225.0,391.7 1225.5,391.7 1226.0,392.3 1226.5,393.2 1227.0,391.6 1227.5,391.9 1228.0,391.8 1228.5,392.2 1229.0,392.5 1229.5,392.5 1230.0,392.5 1230.5,391.6 1231.0,390.7 1231.5,392.0 1232.0,392.4 1232.5,391.5 1233.0,392.2 1233.5,392.2 1234.0,390.6 1234.5,391.5 1235.0,390.9 1235.5,391.8 1236.0,391.3 1236.5,390.9 1237.0,390.3 1237.5,390.7 1238.0,391.5 1238.5,391.1 1239.0,390.2 1239.5,391.9 1240.0,392.6 1240.5,392.4 1241.0,391.6 1241.5,390.8 1242.0,390.1 1242.5,390.9 1243.0,391.8 1243.5,390.9 1244.0,391.1 1244.5,391.0 1245.0,390.9 1245.5,391.3 1246.0,392.3 1246.5,391.5 1247.0,391.7 1247.5,392.0 1248.0,391.5 1248.5,391.2 1249.0,390.4 1249.5,391.3 1250.0,390.9 1250.5,390.6 1251.0,390.8 1251.5,390.4 1252.0,390.1 1252.5,390.3 1253.0,391.4 1253.5,391.1 1254.0,391.3 1254.5,390.3 1255.0,389.5 1255.5,391.1 1256.0,390.8 1256.5,390.0 1257.0,390.3 1257.5,390.9 1258.0,389.9 1258.5,389.8 1259.0,390.4 1259.5,390.1 1260.0,390.8 1260.5,391.3 1261.0,391.2 1261.5,390.8 1262.0,390.7 1262.5,390.3 1263.0,390.4 1263.5,390.7 1264.0,390.5 1264.5,391.1 1265.0,392.2 1265.5,391.2 1266.0,391.1 1266.5,391.3 1267.0,391.3 1267.5,390.8 1268.0,390.4 1268.5,391.0 1269.0,391.1 1269.5,391.1 1270.0,390.4 1270.5,390.7 1271.0,391.0 1271.5,390.6 1272.0,390.9 1272.5,391.8 1273.0,390.1 1273.5,390.6 1274.0,389.8 1274.5,389.3 1275.0,389.6 1275.5,390.2 1276.0,390.3 1276.5,389.6 1277.0,389.1 1277.5,389.3 1278.0,389.7 1278.5,389.5 1279.0,389.0 1279.5,390.5 1280.0,389.9 1280.5,389.9 1281.0,389.7 1281.5,389.6 1282.0,389.8 1282.5,389.8 1283.0,390.2 1283.5,389.5 1284.0,389.0 1284.5,390.5 1285.0,390.2 1285.5,390.5 1286.0,390.9 1286.5,390.8 1287.0,390.4 1287.5,389.4 1288.0,388.8 1288.5,389.8 1289.0,390.2 1289.5,390.4 1290.0,389.2 1290.5,388.4 1291.0,388.5 1291.5,388.4 1292.0,389.1 1292.5,388.9 1293.0,390.1 1293.5,389.6 1294.0,389.4 1294.5,390.0 1295.0,390.0 1295.5,389.4 1296.0,390.0 1296.5,390.9 1297.0,389.7 1297.5,389.5 1298.0,389.0 1298.5,388.2 1299.0,389.2 1299.5,389.7 1300.0,390.2 1300.5,390.1 1301.0,388.8 1301.5,389.1 1302.0,388.9 1302.5,388.6 1303.0,388.4 1303.5,389.3 1304.0,389.2 1304.5,390.4 1305.0,390.2 1305.5,388.8 1306.0,389.6 1306.5,390.1 1307.0,389.8 1307.5,389.0 1308.0,390.1 1308.5,389.0 1309.0,389.1 1309.5,388.2 1310.0,388.0 1310.5,387.7 1311.0,389.0 1311.5,389.7 1312.0,389.3 1312.5,388.5 1313.0,388.8 1313.5,389.2 1314.0,388.3 1314.5,388.1 1315.0,388.5 1315.5,389.2 1316.0,389.2 1316.5,389.4 1317.0,388.6 1317.5,387.5 1318.0,388.3 1318.5,388.2 1319.0,388.5 1319.5,388.5 1320.0,389.0 1320.5,388.6 1321.0,389.5 1321.5,389.3 1322.0,389.4 1322.5,389.5 1323.0,389.8 1323.5,389.6 1324.0,388.3 1324.5,388.2 1325.0,389.5 1325.5,389.4 1326.0,389.5 1326.5,389.4 1327.0,388.8 1327.5,388.4 1328.0,388.2 1328.5,389.1 1329.0,389.1 1329.5,389.9 1330.0,389.6 1330.5,390.2 1331.0,389.8 1331.5,388.6 1332.0,389.6 1332.5,389.3 1333.0,389.6 1333.5,389.3 1334.0,388.8 1334.5,388.8 1335.0,388.1 1335.5,387.6 1336.0,387.6 1336.5,387.7 1337.0,387.3 1337.5,387.8 1338.0,388.3 1338.5,389.4 1339.0,390.0 1339.5,389.2 1340.0,389.3 1340.5,388.8 1341.0,388.8 1341.5,388.6 1342.0,388.2 1342.5,388.3 1343.0,387.5 1343.5,388.1 1344.0,388.0 1344.5,387.5 1345.0,387.7 1345.5,388.2 1346.0,387.9 1346.5,388.3 1347.0,388.5 1347.5,389.2 1348.0,388.2 1348.5,388.1 1349.0,388.4 1349.5,389.1 1350.0,388.8 1350.5,388.9 1351.0,387.7 1351.5,387.6 1352.0,388.7 1352.5,388.2 1353.0,389.3 1353.5,388.3 1354.0,388.0 1354.5,387.1 1355.0,387.9 1355.5,388.0 1356.0,389.1 1356.5,388.6 1357.0,388.2 1357.5,387.3 1358.0,387.5 1358.5,388.2 1359.0,388.4 1359.5,388.8 1360.0,388.8 1360.5,388.3 1361.0,388.4 1361.5,388.2 1362.0,387.3 1362.5,388.4 1363.0,388.3 1363.5,387.5 1364.0,387.8 1364.5,387.9 1365.0,388.3 1365.5,388.8 1366.0,386.6 1366.5,387.4 1367.0,388.3 1367.5,387.5 1368.0,386.5 1368.5,387.1 1369.0,387.5 1369.5,387.7 1370.0,387.0 1370.5,387.0 1371.0,387.3 1371.5,387.8 1372.0,388.8 1372.5,388.4 1373.0,387.6 1373.5,386.2 1374.0,387.4 1374.5,387.3 1375.0,387.3 1375.5,386.8 1376.0,387.4 1376.5,386.4 1377.0,386.9 1377.5,387.1 1378.0,387.4 1378.5,388.0 1379.0,387.6 1379.5,387.5 1380.0,387.9 1380.5,386.7 1381.0,386.8 1381.5,387.0 1382.0,387.6 1382.5,387.0 1383.0,387.5 1383.5,387.5 1384.0,386.5 1384.5,386.0 1385.0,385.7 1385.5,386.4 1386.0,386.8 1386.5,387.3 1387.0,387.6 1387.5,387.1 1388.0,387.6 1388.5,387.8 1389.0,387.7 1389.5,387.6 1390.0,386.6 1390.5,386.9 1391.0,386.4 1391.5,386.0 1392.0,386.2 1392.5,386.6 1393.0,386.7 1393.5,386.6 1394.0,386.1 1394.5,386.5 1395.0,386.2 1395.5,385.7 1396.0,386.2 1396.5,387.3 1397.0,386.8 1397.5,386.2 1398.0,387.2 1398.5,387.9 1399.0,387.2 1399.5,386.8 1400.0,386.9 1400.5,388.4 1401.0,387.7 1401.5,387.7 1402.0,387.5 1402.5,386.1 1403.0,385.7 1403.5,385.4 1404.0,386.1 1404.5,386.4 1405.0,387.4 1405.5,386.8 1406.0,386.8 1406.5,386.7 1407.0,386.7 1407.5,387.8 1408.0,387.3 1408.5,387.7 1409.0,387.8 1409.5,386.8 1410.0,387.0 1410.5,386.5 1411.0,386.5 1411.5,386.5 1412.0,386.4 1412.5,386.1 1413.0,387.0 1413.5,386.5 1414.0,386.8 1414.5,387.5 1415.0,387.2 1415.5,387.3 1416.0,387.6 1416.5,387.5 1417.0,387.9 1417.5,386.3 1418.0,387.3 1418.5,386.8 1419.0,385.5 1419.5,385.4 1420.0,384.9 1420.5,385.4 1421.0,384.9 1421.5,384.8 1422.0,385.5 1422.5,385.8 1423.0,385.5 1423.5,385.6 1424.0,385.7 1424.5,385.8 1425.0,385.9 1425.5,385.8 1426.0,386.3 1426.5,385.2 1427.0,385.2 1427.5,385.6 1428.0,385.5 1428.5,385.3 1429.0,385.3 1429.5,385.6 1430.0,386.4 1430.5,386.0 1431.0,385.7 1431.5,385.9 1432.0,385.7 1432.5,384.6 1433.0,385.3 1433.5,385.2 1434.0,385.1 1434.5,385.7 1435.0,385.7 1435.5,385.3 1436.0,384.3 1436.5,383.9 1437.0,384.7 1437.5,385.0 1438.0,385.5 1438.5,385.6 1439.0,385.3 1439.5,384.7 1440.0,384.5 1440.5,385.1 1441.0,384.9 1441.5,386.0 1442.0,385.6 1442.5,385.2 1443.0,385.9 1443.5,385.6 1444.0,387.1 1444.5,386.4 1445.0,386.0 1445.5,384.4 1446.0,381.2 1446.5,376.2 1447.0,370.1 1447.5,364.3 1448.0,359.4 1448.5,357.5 1449.0,359.4 1449.5,364.7 1450.0,371.5 1450.5,378.4 1451.0,383.4 1451.5,387.4 1452.0,389.9 1452.5,391.1 1453.0,392.2 1453.5,392.0 1454.0,392.8 1454.5,392.1 1455.0,393.1 1455.5,391.4 1456.0,392.0 1456.5,391.8 1457.0,392.1 1457.5,392.8 1458.0,393.0 1458.5,392.8 1459.0,393.6 1459.5,392.2 1460.0,391.8 1460.5,392.9 1461.0,392.8 1461.5,391.5 1462.0,392.0 1462.5,391.5 1463.0,392.7 1463.5,393.1 1464.0,392.4 1464.5,393.1 1465.0,392.2 1465.5,392.7 1466.0,392.8 1466.5,392.5 1467.0,391.5 1467.5,391.7 1468.0,390.6 1468.5,391.0 1469.0,390.5 1469.5,391.9 1470.0,391.4 1470.5,390.4 1471.0,391.5 1471.5,391.9 1472.0,391.7 1472.5,393.0 1473.0,393.0 1473.5,392.6 1474.0,391.9 1474.5,390.3 1475.0,391.3 1475.5,392.1 1476.0,391.7 1476.5,391.0 1477.0,391.4 1477.5,390.7 1478.0,391.2 1478.5,391.9 1479.0,392.7 1479.5,392.5 1480.0,392.3 1480.5,392.5 1481.0,392.9 1481.5,392.2 1482.0,391.3 1482.5,391.1 1483.0,390.7 1483.5,390.7 1484.0,391.1 1484.5,391.5 1485.0,391.7 1485.5,391.7 1486.0,391.5 1486.5,391.8 1487.0,392.2 1487.5,392.3 1488.0,392.8 1488.5,392.1 1489.0,391.7 1489.5,392.6 1490.0,392.2 1490.5,392.1 1491.0,391.7 1491.5,392.1 1492.0,391.6 1492.5,391.0 1493.0,391.2 1493.5,391.0 1494.0,391.7 1494.5,391.3 1495.0,391.4 1495.5,391.3 1496.0,391.5 1496.5,391.1 1497.0,391.8 1497.5,390.8 1498.0,390.8 1498.5,390.6 1499.0,391.3 1499.5,391.3 1500.0,391.5 1500.5,391.2 1501.0,390.8 1501.5,390.4 1502.0,390.6 1502.5,390.5 1503.0,391.0 1503.5,391.2 1504.0,391.7 1504.5,391.4 1505.0,390.8 1505.5,390.4 1506.0,390.7 1506.5,391.1 1507.0,392.1 1507.5,391.7 1508.0,392.4 1508.5,392.8 1509.0,391.4 1509.5,391.9 1510.0,392.1 1510.5,392.3 1511.0,391.7 1511.5,391.9 1512.0,391.2 1512.5,391.0 1513.0,391.0 1513.5,391.9 1514.0,391.3 1514.5,391.6 1515.0,391.3 1515.5,390.7 1516.0,390.9 1516.5,391.2 1517.0,390.6 1517.5,391.0 1518.0,390.5 1518.5,390.1 1519.0,390.5 1519.5,390.5 1520.0,390.0 1520.5,389.4 1521.0,390.0 1521.5,390.4 1522.0,390.3 1522.5,390.5 1523.0,389.7 1523.5,390.3 1524.0,390.7 1524.5,390.8 1525.0,390.3 1525.5,390.5 1526.0,390.6 1526.5,391.1 1527.0,391.0 1527.5,390.9 1528.0,390.3 1528.5,390.8 1529.0,391.3 1529.5,390.6 1530.0,390.9 1530.5,390.8 1531.0,390.6 1531.5,389.7 1532.0,390.8 1532.5,389.2 1533.0,389.0 1533.5,387.7 1534.0,386.4 1534.5,383.9 1535.0,381.5 1535.5,379.7 1536.0,379.0 1536.5,379.7 1537.0,381.6 1537.5,384.0 1538.0,386.6 1538.5,387.9 1539.0,389.0 1539.5,389.4 1540.0,389.4 1540.5,389.9 1541.0,390.2 1541.5,390.9 1542.0,390.4 1542.5,390.4 1543.0,390.9 1543.5,390.4 1544.0,390.3 1544.5,390.2 1545.0,389.7 1545.5,389.3 1546.0,390.2 1546.5,390.2 1547.0,390.0 1547.5,389.3 1548.0,389.6 1548.5,390.4 1549.0,389.5 1549.5,389.2 1550.0,390.1 1550.5,390.7 1551.0,391.2 1551.5,390.2 1552.0,390.4 1552.5,389.7 1553.0,390.0 1553.5,389.7 1554.0,389.8 1554.5,390.5 1555.0,390.3 1555.5,389.9 1556.0,389.8 1556.5,389.9 1557.0,389.5 1557.5,389.7 1558.0,390.0 1558.5,390.6 1559.0,389.0 1559.5,388.6 1560.0,388.4 1560.5,389.4 1561.0,390.8 1561.5,390.3 1562.0,390.0 1562.5,390.4 1563.0,388.6 1563.5,388.9 1564.0,387.4 1564.5,388.4 1565.0,388.6 1565.5,388.7 1566.0,389.2 1566.5,388.9 1567.0,389.7 1567.5,389.6 1568.0,389.7 1568.5,390.9 1569.0,389.9 1569.5,390.1 1570.0,389.3 1570.5,390.0 1571.0,390.2 1571.5,389.8 1572.0,390.1 1572.5,390.6 1573.0,390.7 1573.5,390.0 1574.0,389.6 1574.5,390.0 1575.0,388.8 1575.5,388.6 1576.0,389.1 1576.5,389.4 1577.0,390.3 1577.5,390.7 1578.0,390.1 1578.5,389.9 1579.0,388.8 1579.5,388.8 1580.0,389.0 1580.5,388.9 1581.0,389.0 1581.5,389.4 1582.0,388.7 1582.5,388.6 1583.0,387.8 1583.5,389.0 1584.0,388.5 1584.5,387.9 1585.0,388.9 1585.5,388.9 1586.0,389.6 1586.5,389.2 1587.0,390.4 1587.5,390.3 1588.0,389.9 1588.5,389.7 1589.0,389.4 1589.5,389.8 1590.0,390.7 1590.5,389.8 1591.0,389.0 1591.5,389.5 1592.0,390.0 1592.5,388.9 1593.0,388.8 1593.5,388.5 1594.0,389.2 1594.5,389.6 1595.0,389.2 1595.5,388.7 1596.0,389.4 1596.5,388.4 1597.0,389.8 1597.5,390.4 1598.0,392.1 1598.5,392.8 1599.0,392.6 1599.5,392.9 1600.0,393.4 1600.5,393.6 1601.0,394.5 1601.5,395.7 1602.0,395.2 1602.5,395.9 1603.0,397.5 1603.5,398.3 1604.0,398.1 1604.5,398.2 1605.0,398.6 1605.5,398.6 1606.0,400.4 1606.5,401.0 1607.0,400.6 1607.5,400.0 1608.0,399.7 1608.5,398.9 1609.0,397.9 1609.5,393.4 1610.0,385.8 1610.5,373.6 1611.0,356.2 1611.5,336.0 1612.0,317.5 1612.5,306.1 1613.0,304.9 1613.5,314.8 1614.0,332.8 1614.5,353.8 1615.0,373.4 1615.5,388.3 1616.0,399.4 1616.5,406.1 1617.0,409.7 1617.5,411.3 1618.0,412.1 1618.5,411.7 1619.0,411.4 1619.5,411.6 1620.0,411.8 1620.5,411.8 1621.0,412.0 1621.5,411.7 1622.0,411.4 1622.5,411.7 1623.0,411.5 1623.5,411.6 1624.0,411.5 1624.5,411.5 1625.0,411.4 1625.5,411.3 1626.0,411.0 1626.5,411.7 1627.0,411.7 1627.5,411.1 1628.0,411.1 1628.5,411.0 1629.0,411.1 1629.5,410.7 1630.0,411.2 1630.5,411.7 1631.0,411.6 1631.5,411.7 1632.0,411.8 1632.5,411.4 1633.0,411.7 1633.5,411.2 1634.0,411.2 1634.5,411.3 1635.0,411.7 1635.5,411.7 1636.0,411.6 1636.5,411.4 1637.0,411.5 1637.5,411.5 1638.0,411.7 1638.5,412.0 1639.0,412.0 1639.5,411.8 1640.0,411.6 1640.5,412.0 1641.0,411.8 1641.5,411.7 1642.0,412.1 1642.5,412.2 1643.0,412.1 1643.5,411.8 1644.0,411.5 1644.5,411.8 1645.0,411.6 1645.5,411.8 1646.0,411.5 1646.5,411.6 1647.0,411.7 1647.5,411.6 1648.0,411.7 1648.5,411.7 1649.0,411.4 1649.5,411.2 1650.0,411.3 1650.5,411.9 1651.0,411.7 1651.5,411.4 1652.0,411.3 1652.5,411.4 1653.0,411.8 1653.5,411.6 1654.0,411.7 1654.5,411.7 1655.0,411.6 1655.5,411.3 1656.0,411.4 1656.5,411.3 1657.0,411.6 1657.5,411.1 1658.0,411.6 1658.5,411.8 1659.0,411.8 1659.5,412.1 1660.0,412.0 1660.5,411.4 1661.0,411.5 1661.5,411.6 1662.0,411.5 1662.5,411.2 1663.0,411.5 1663.5,411.7 1664.0,411.5 1664.5,411.5 1665.0,411.4 1665.5,411.4 1666.0,411.5 1666.5,411.8 1667.0,411.3 1667.5,411.4 1668.0,411.9 1668.5,411.8 1669.0,411.8 1669.5,411.9 1670.0,411.5 1670.5,411.3 1671.0,411.0 1671.5,410.9 1672.0,411.3 1672.5,411.6 1673.0,411.5 1673.5,411.4 1674.0,411.6 1674.5,411.8 1675.0,411.8 1675.5,411.2 1676.0,411.3 1676.5,410.8 1677.0,411.2 1677.5,411.2 1678.0,411.2 1678.5,411.8 1679.0,412.0 1679.5,412.0 1680.0,411.9 1680.5,411.8 1681.0,411.6 1681.5,411.6 1682.0,412.1 1682.5,411.7 1683.0,411.5 1683.5,411.6 1684.0,411.8 1684.5,411.9 1685.0,411.6 1685.5,411.6 1686.0,411.5 1686.5,411.3 1687.0,411.5 1687.5,411.4 1688.0,411.7 1688.5,411.8 1689.0,411.5 1689.5,411.6 1690.0,411.5 1690.5,411.4 1691.0,411.4 1691.5,411.8 1692.0,411.6 1692.5,411.2 1693.0,411.2 1693.5,411.6 1694.0,412.2 1694.5,411.7 1695.0,411.6 1695.5,411.5 1696.0,411.3 1696.5,411.5 1697.0,411.6 1697.5,411.7 1698.0,412.2 1698.5,411.9 1699.0,412.0 1699.5,412.0 1700.0,411.7 1700.5,411.6 1701.0,412.0 1701.5,412.0 1702.0,411.9 1702.5,411.5 1703.0,411.8 1703.5,411.9 1704.0,412.3 1704.5,412.4 1705.0,412.3 1705.5,412.1 1706.0,411.9 1706.5,411.7 1707.0,411.7 1707.5,411.8 1708.0,411.9 1708.5,412.1 1709.0,412.0 1709.5,411.7 1710.0,411.9 1710.5,412.2 1711.0,411.8 1711.5,411.8 1712.0,411.9 1712.5,411.9 1713.0,411.9 1713.5,411.8 1714.0,411.7 1714.5,412.1 1715.0,412.3 1715.5,411.7 1716.0,411.1 1716.5,411.5 1717.0,411.4 1717.5,411.4 1718.0,411.2 1718.5,411.5 1719.0,411.6 1719.5,411.5 1720.0,411.8 1720.5,412.3 1721.0,412.4 1721.5,412.4 1722.0,412.0 1722.5,412.0 1723.0,411.9 1723.5,412.1 1724.0,412.1 1724.5,411.9 1725.0,411.9 1725.5,411.7 1726.0,411.9 1726.5,412.2 1727.0,411.9 1727.5,411.9 1728.0,411.4 1728.5,411.8 1729.0,412.0 1729.5,411.6 1730.0,412.1 1730.5,412.0 1731.0,411.4 1731.5,411.2 1732.0,411.7 1732.5,411.6 1733.0,411.9 1733.5,411.5 1734.0,411.6 1734.5,411.9 1735.0,411.7 1735.5,411.9 1736.0,411.7 1736.5,411.8 1737.0,411.9 1737.5,412.3 1738.0,411.8 1738.5,411.9 1739.0,412.2 1739.5,411.7 1740.0,411.7 1740.5,412.3 1741.0,412.3 1741.5,411.3 1742.0,411.5 1742.5,411.2 1743.0,411.5 1743.5,411.4 1744.0,411.4 1744.5,411.4 1745.0,411.6 1745.5,411.6 1746.0,411.4 1746.5,411.5 1747.0,411.7 1747.5,411.5 1748.0,411.9 1748.5,411.4 1749.0,411.7 1749.5,411.6 1750.0,412.1 1750.5,411.8 1751.0,411.6 1751.5,411.4 1752.0,412.0 1752.5,412.1 1753.0,411.7 1753.5,411.6 1754.0,411.5 1754.5,412.0 1755.0,412.0 1755.5,411.4 1756.0,411.6 1756.5,411.9 1757.0,411.9 1757.5,411.9 1758.0,411.8 1758.5,411.9 1759.0,411.9 1759.5,411.7 1760.0,411.8 1760.5,411.8 1761.0,411.8 1761.5,411.6 1762.0,411.5 1762.5,411.7 1763.0,411.9 1763.5,411.3 1764.0,411.4 1764.5,411.9 1765.0,412.1 1765.5,411.8 1766.0,412.1 1766.5,411.7 1767.0,411.6 1767.5,412.1 1768.0,411.9" fill="none" stroke="#0000ff" stroke-width="3.7" stroke-linejoin="round" stroke-linecap="round"/>
<polyline points="1004.0,491.9 1004.5,491.1 1005.0,490.9 1005.5,490.8 1006.0,491.3 1006.5,490.6 1007.0,491.8 1007.5,491.7 1008.0,491.5 1008.5,491.4 1009.0,492.1 1009.5,492.9 1010.0,492.3 1010.5,493.0 1011.0,493.4 1011.5,493.5 1012.0,493.0 1012.5,491.7 1013.0,492.2 1013.5,491.9 1014.0,492.1 1014.5,491.0 1015.0,491.3 1015.5,491.7 1016.0,491.4 1016.5,491.8 1017.0,492.8 1017.5,492.6 1018.0,491.9 1018.5,493.2 1019.0,491.5 1019.5,491.3 1020.0,491.8 1020.5,491.6 1021.0,490.5 1021.5,491.3 1022.0,492.1 1022.5,491.6 1023.0,492.6 1023.5,492.6 1024.0,493.0 1024.5,491.7 1025.0,491.8 1025.5,492.8 1026.0,493.5 1026.5,493.5 1027.0,492.8 1027.5,492.6 1028.0,492.0 1028.5,492.6 1029.0,491.9 1029.5,492.0 1030.0,490.9 1030.5,490.6 1031.0,492.2 1031.5,492.1 1032.0,492.2 1032.5,490.9 1033.0,491.4 1033.5,492.8 1034.0,491.6 1034.5,490.5 1035.0,491.1 1035.5,491.2 1036.0,491.5 1036.5,491.0 1037.0,490.7 1037.5,490.6 1038.0,491.6 1038.5,491.8 1039.0,492.3 1039.5,491.6 1040.0,492.1 1040.5,491.8 1041.0,491.9 1041.5,492.5 1042.0,492.3 1042.5,492.0 1043.0,491.1 1043.5,491.5 1044.0,492.2 1044.5,491.8 1045.0,491.8 1045.5,491.0 1046.0,490.7 1046.5,491.5 1047.0,492.4 1047.5,492.1 1048.0,491.1 1048.5,491.3 1049.0,490.8 1049.5,491.2 1050.0,492.6 1050.5,492.5 1051.0,492.2 1051.5,492.7 1052.0,492.2 1052.5,492.3 1053.0,492.3 1053.5,492.4 1054.0,491.4 1054.5,492.1 1055.0,492.5 1055.5,491.1 1056.0,490.0 1056.5,490.4 1057.0,491.9 1057.5,492.0 1058.0,492.4 1058.5,492.5 1059.0,492.8 1059.5,492.1 1060.0,491.7 1060.5,492.0 1061.0,492.4 1061.5,492.5 1062.0,492.5 1062.5,492.0 1063.0,492.6 1063.5,492.6 1064.0,492.9 1064.5,491.1 1065.0,492.1 1065.5,490.7 1066.0,491.4 1066.5,491.3 1067.0,491.7 1067.5,491.6 1068.0,491.6 1068.5,491.9 1069.0,492.1 1069.5,491.6 1070.0,490.4 1070.5,490.7 1071.0,491.6 1071.5,491.3 1072.0,491.9 1072.5,491.7 1073.0,491.3 1073.5,492.3 1074.0,493.0 1074.5,492.5 1075.0,492.3 1075.5,492.7 1076.0,491.6 1076.5,491.3 1077.0,492.2 1077.5,492.6 1078.0,492.1 1078.5,491.6 1079.0,492.0 1079.5,491.2 1080.0,491.3 1080.5,491.5 1081.0,490.4 1081.5,491.4 1082.0,492.1 1082.5,492.6 1083.0,491.6 1083.5,491.1 1084.0,491.0 1084.5,490.8 1085.0,492.4 1085.5,491.7 1086.0,491.7 1086.5,491.9 1087.0,492.2 1087.5,492.9 1088.0,491.9 1088.5,492.4 1089.0,492.3 1089.5,491.5 1090.0,491.8 1090.5,491.1 1091.0,492.4 1091.5,491.8 1092.0,492.5 1092.5,493.0 1093.0,492.2 1093.5,491.6 1094.0,491.9 1094.5,491.4 1095.0,492.1 1095.5,492.2 1096.0,491.7 1096.5,491.4 1097.0,492.1 1097.5,491.3 1098.0,492.5 1098.5,491.9 1099.0,491.8 1099.5,491.4 1100.0,492.6 1100.5,492.8 1101.0,493.1 1101.5,493.0 1102.0,492.6 1102.5,493.2 1103.0,493.1 1103.5,492.8 1104.0,492.8 1104.5,492.8 1105.0,492.6 1105.5,492.2 1106.0,491.2 1106.5,492.7 1107.0,491.6 1107.5,490.6 1108.0,490.8 1108.5,492.3 1109.0,492.8 1109.5,492.0 1110.0,492.1 1110.5,492.0 1111.0,490.8 1111.5,491.1 1112.0,491.5 1112.5,492.3 1113.0,491.4 1113.5,490.3 1114.0,490.1 1114.5,491.0 1115.0,491.4 1115.5,491.6 1116.0,491.7 1116.5,491.5 1117.0,490.8 1117.5,491.4 1118.0,491.7 1118.5,492.0 1119.0,492.5 1119.5,491.4 1120.0,490.2 1120.5,489.8 1121.0,491.8 1121.5,491.1 1122.0,491.5 1122.5,491.5 1123.0,491.9 1123.5,493.5 1124.0,492.3 1124.5,491.8 1125.0,491.3 1125.5,491.5 1126.0,491.7 1126.5,491.0 1127.0,491.9 1127.5,492.3 1128.0,492.1 1128.5,491.7 1129.0,491.4 1129.5,490.4 1130.0,491.2 1130.5,490.7 1131.0,490.7 1131.5,491.5 1132.0,490.8 1132.5,490.7 1133.0,491.4 1133.5,492.3 1134.0,491.4 1134.5,491.9 1135.0,491.2 1135.5,491.4 1136.0,491.5 1136.5,490.7 1137.0,491.4 1137.5,492.2 1138.0,491.7 1138.5,491.6 1139.0,490.7 1139.5,491.8 1140.0,491.5 1140.5,490.5 1141.0,491.1 1141.5,490.2 1142.0,490.1 1142.5,489.2 1143.0,490.6 1143.5,491.8 1144.0,490.9 1144.5,490.4 1145.0,490.1 1145.5,490.0 1146.0,490.5 1146.5,491.2 1147.0,490.3 1147.5,490.5 1148.0,489.4 1148.5,490.6 1149.0,490.3 1149.5,489.8 1150.0,490.8 1150.5,490.4 1151.0,490.9 1151.5,491.1 1152.0,491.5 1152.5,490.4 1153.0,490.2 1153.5,490.3 1154.0,490.1 1154.5,490.9 1155.0,490.1 1155.5,490.6 1156.0,491.1 1156.5,489.8 1157.0,489.7 1157.5,489.8 1158.0,490.2 1158.5,491.0 1159.0,491.3 1159.5,491.7 1160.0,491.7 1160.5,492.0 1161.0,492.7 1161.5,493.2 1162.0,492.8 1162.5,493.1 1163.0,493.0 1163.5,493.1 1164.0,492.5 1164.5,493.5 1165.0,493.9 1165.5,493.7 1166.0,493.2 1166.5,493.1 1167.0,493.0 1167.5,492.4 1168.0,493.8 1168.5,495.5 1169.0,494.0 1169.5,493.2 1170.0,493.7 1170.5,494.0 1171.0,493.0 1171.5,492.2 1172.0,493.1 1172.5,492.3 1173.0,493.7 1173.5,493.4 1174.0,493.6 1174.5,493.6 1175.0,493.3 1175.5,493.4 1176.0,493.4 1176.5,494.2 1177.0,493.9 1177.5,493.8 1178.0,493.5 1178.5,493.2 1179.0,493.0 1179.5,493.4 1180.0,494.5 1180.5,494.8 1181.0,494.5 1181.5,495.1 1182.0,495.0 1182.5,494.6 1183.0,494.1 1183.5,493.4 1184.0,493.7 1184.5,493.6 1185.0,492.8 1185.5,492.6 1186.0,494.2 1186.5,494.1 1187.0,494.3 1187.5,494.2 1188.0,493.8 1188.5,494.1 1189.0,494.6 1189.5,494.1 1190.0,494.3 1190.5,494.7 1191.0,494.0 1191.5,494.1 1192.0,493.6 1192.5,494.1 1193.0,493.8 1193.5,494.5 1194.0,493.8 1194.5,494.8 1195.0,494.2 1195.5,493.6 1196.0,493.3 1196.5,494.0 1197.0,493.5 1197.5,494.7 1198.0,495.1 1198.5,494.9 1199.0,493.7 1199.5,493.8 1200.0,493.5 1200.5,492.7 1201.0,493.5 1201.5,494.9 1202.0,494.2 1202.5,494.5 1203.0,495.0 1203.5,494.0 1204.0,493.8 1204.5,494.0 1205.0,494.2 1205.5,493.5 1206.0,493.8 1206.5,493.8 1207.0,494.4 1207.5,493.3 1208.0,493.3 1208.5,493.3 1209.0,493.4 1209.5,494.0 1210.0,493.6 1210.5,495.2 1211.0,494.2 1211.5,494.5 1212.0,494.8 1212.5,494.9 1213.0,494.3 1213.5,493.7 1214.0,493.6 1214.5,494.1 1215.0,494.0 1215.5,494.3 1216.0,494.4 1216.5,493.6 1217.0,493.2 1217.5,494.3 1218.0,493.8 1218.5,492.9 1219.0,494.3 1219.5,493.6 1220.0,493.2 1220.5,494.0 1221.0,493.3 1221.5,493.0 1222.0,493.9 1222.5,493.4 1223.0,494.9 1223.5,494.5 1224.0,495.6 1224.5,494.8 1225.0,494.4 1225.5,493.7 1226.0,493.6 1226.5,493.4 1227.0,493.5 1227.5,494.0 1228.0,493.2 1228.5,492.9 1229.0,492.1 1229.5,493.6 1230.0,493.6 1230.5,493.6 1231.0,493.6 1231.5,494.2 1232.0,494.1 1232.5,494.4 1233.0,494.0 1233.5,493.8 1234.0,493.7 1234.5,492.6 1235.0,493.7 1235.5,492.8 1236.0,492.6 1236.5,493.4 1237.0,493.5 1237.5,494.0 1238.0,494.8 1238.5,495.3 1239.0,495.3 1239.5,494.4 1240.0,495.1 1240.5,494.0 1241.0,493.7 1241.5,494.2 1242.0,493.8 1242.5,493.6 1243.0,493.4 1243.5,494.2 1244.0,492.5 1244.5,493.7 1245.0,494.2 1245.5,493.9 1246.0,494.0 1246.5,493.3 1247.0,494.0 1247.5,495.4 1248.0,494.1 1248.5,494.6 1249.0,494.1 1249.5,493.6 1250.0,493.3 1250.5,493.3 1251.0,492.7 1251.5,492.3 1252.0,493.7 1252.5,493.6 1253.0,493.8 1253.5,493.8 1254.0,493.9 1254.5,492.9 1255.0,492.6 1255.5,493.3 1256.0,493.9 1256.5,493.0 1257.0,492.9 1257.5,492.5 1258.0,493.3 1258.5,493.5 1259.0,493.5 1259.5,493.1 1260.0,493.4 1260.5,493.4 1261.0,493.0 1261.5,493.3 1262.0,493.0 1262.5,493.7 1263.0,493.9 1263.5,493.2 1264.0,493.6 1264.5,493.5 1265.0,493.0 1265.5,492.7 1266.0,492.0 1266.5,492.0 1267.0,492.8 1267.5,493.7 1268.0,493.1 1268.5,493.3 1269.0,493.5 1269.5,493.8 1270.0,493.8 1270.5,494.2 1271.0,494.2 1271.5,493.4 1272.0,493.5 1272.5,492.1 1273.0,492.5 1273.5,492.8 1274.0,493.3 1274.5,493.1 1275.0,493.6 1275.5,494.2 1276.0,493.3 1276.5,492.9 1277.0,493.2 1277.5,493.5 1278.0,493.4 1278.5,493.8 1279.0,492.8 1279.5,493.4 1280.0,493.9 1280.5,494.2 1281.0,494.0 1281.5,493.5 1282.0,493.5 1282.5,493.3 1283.0,492.4 1283.5,492.4 1284.0,492.7 1284.5,492.6 1285.0,492.3 1285.5,492.5 1286.0,492.6 1286.5,492.9 1287.0,492.9 1287.5,493.1 1288.0,493.6 1288.5,493.5 1289.0,493.5 1289.5,492.6 1290.0,491.2 1290.5,491.8 1291.0,492.7 1291.5,492.7 1292.0,492.5 1292.5,492.1 1293.0,493.0 1293.5,492.7 1294.0,493.0 1294.5,493.6 1295.0,493.6 1295.5,494.6 1296.0,493.8 1296.5,494.0 1297.0,493.9 1297.5,493.1 1298.0,493.1 1298.5,492.7 1299.0,492.3 1299.5,492.7 1300.0,492.4 1300.5,493.6 1301.0,492.9 1301.5,492.6 1302.0,492.8 1302.5,492.6 1303.0,492.8 1303.5,492.5 1304.0,491.9 1304.5,491.0 1305.0,491.2 1305.5,492.8 1306.0,493.1 1306.5,493.1 1307.0,492.7 1307.5,492.7 1308.0,492.9 1308.5,492.1 1309.0,492.0 1309.5,491.9 1310.0,493.0 1310.5,492.4 1311.0,493.2 1311.5,492.8 1312.0,494.3 1312.5,493.6 1313.0,493.3 1313.5,493.8 1314.0,493.8 1314.5,493.9 1315.0,492.8 1315.5,493.4 1316.0,494.1 1316.5,493.4 1317.0,492.9 1317.5,492.2 1318.0,493.0 1318.5,493.1 1319.0,492.9 1319.5,492.2 1320.0,493.3 1320.5,493.5 1321.0,493.2 1321.5,493.8 1322.0,492.8 1322.5,493.2 1323.0,492.5 1323.5,493.3 1324.0,492.9 1324.5,493.5 1325.0,492.9 1325.5,493.0 1326.0,493.5 1326.5,492.6 1327.0,492.7 1327.5,492.2 1328.0,492.9 1328.5,492.5 1329.0,492.3 1329.5,492.4 1330.0,493.1 1330.5,492.3 1331.0,492.5 1331.5,492.3 1332.0,492.2 1332.5,491.9 1333.0,492.2 1333.5,492.5 1334.0,491.7 1334.5,492.2 1335.0,491.7 1335.5,492.1 1336.0,493.6 1336.5,492.6 1337.0,492.5 1337.5,492.4 1338.0,493.0 1338.5,492.5 1339.0,491.6 1339.5,491.1 1340.0,491.9 1340.5,492.3 1341.0,493.0 1341.5,492.5 1342.0,492.9 1342.5,492.1 1343.0,493.0 1343.5,492.7 1344.0,492.3 1344.5,492.5 1345.0,493.4 1345.5,492.5 1346.0,491.8 1346.5,491.6 1347.0,491.3 1347.5,491.8 1348.0,492.3 1348.5,492.3 1349.0,492.5 1349.5,493.1 1350.0,492.6 1350.5,491.9 1351.0,490.9 1351.5,491.7 1352.0,491.6 1352.5,491.8 1353.0,492.3 1353.5,492.6 1354.0,491.6 1354.5,491.5 1355.0,491.9 1355.5,492.0 1356.0,492.8 1356.5,492.3 1357.0,491.2 1357.5,492.4 1358.0,491.5 1358.5,491.3 1359.0,492.0 1359.5,491.6 1360.0,493.3 1360.5,493.0 1361.0,493.0 1361.5,492.4 1362.0,493.6 1362.5,493.3 1363.0,492.5 1363.5,493.1 1364.0,491.8 1364.5,491.7 1365.0,492.1 1365.5,492.3 1366.0,491.7 1366.5,492.8 1367.0,493.4 1367.5,492.4 1368.0,492.5 1368.5,492.0 1369.0,491.9 1369.5,492.6 1370.0,492.5 1370.5,492.3 1371.0,492.3 1371.5,491.6 1372.0,492.6 1372.5,492.0 1373.0,492.8 1373.5,492.3 1374.0,492.0 1374.5,492.9 1375.0,492.7 1375.5,492.1 1376.0,491.8 1376.5,492.3 1377.0,493.3 1377.5,493.1 1378.0,492.5 1378.5,491.7 1379.0,491.5 1379.5,491.7 1380.0,492.0 1380.5,491.7 1381.0,492.6 1381.5,491.8 1382.0,491.6 1382.5,492.1 1383.0,492.3 1383.5,492.0 1384.0,492.6 1384.5,491.6 1385.0,492.7 1385.5,493.6 1386.0,494.0 1386.5,493.2 1387.0,493.8 1387.5,493.0 1388.0,493.3 1388.5,492.6 1389.0,492.5 1389.5,492.5 1390.0,491.3 1390.5,491.5 1391.0,492.7 1391.5,490.8 1392.0,491.5 1392.5,492.2 1393.0,492.3 1393.5,492.3 1394.0,492.9 1394.5,492.7 1395.0,491.3 1395.5,491.1 1396.0,491.3 1396.5,491.7 1397.0,491.5 1397.5,491.7 1398.0,492.7 1398.5,490.7 1399.0,491.9 1399.5,492.4 1400.0,492.5 1400.5,492.3 1401.0,492.1 1401.5,492.2 1402.0,492.2 1402.5,491.7 1403.0,492.2 1403.5,491.6 1404.0,491.7 1404.5,491.6 1405.0,491.1 1405.5,491.8 1406.0,491.8 1406.5,491.2 1407.0,491.4 1407.5,490.8 1408.0,492.1 1408.5,492.2 1409.0,493.1 1409.5,492.2 1410.0,492.4 1410.5,491.6 1411.0,491.2 1411.5,491.4 1412.0,491.8 1412.5,492.3 1413.0,491.9 1413.5,492.5 1414.0,492.7 1414.5,491.8 1415.0,491.7 1415.5,491.2 1416.0,492.4 1416.5,491.8 1417.0,492.3 1417.5,492.5 1418.0,492.0 1418.5,491.6 1419.0,491.8 1419.5,491.4 1420.0,490.8 1420.5,490.7 1421.0,491.3 1421.5,491.6 1422.0,492.6 1422.5,491.2 1423.0,491.7 1423.5,491.0 1424.0,492.0 1424.5,492.2 1425.0,492.0 1425.5,492.7 1426.0,492.0 1426.5,491.5 1427.0,491.0 1427.5,490.9 1428.0,491.3 1428.5,491.8 1429.0,492.4 1429.5,491.9 1430.0,491.4 1430.5,491.3 1431.0,491.2 1431.5,491.1 1432.0,491.1 1432.5,490.8 1433.0,491.1 1433.5,491.0 1434.0,491.2 1434.5,490.6 1435.0,491.1 1435.5,491.6 1436.0,491.9 1436.5,491.5 1437.0,490.9 1437.5,490.4 1438.0,490.3 1438.5,490.5 1439.0,490.8 1439.5,490.1 1440.0,491.1 1440.5,490.5 1441.0,490.7 1441.5,490.8 1442.0,491.7 1442.5,492.8 1443.0,492.2 1443.5,492.0 1444.0,491.5 1444.5,491.1 1445.0,490.0 1445.5,488.8 1446.0,483.5 1446.5,476.7 1447.0,468.0 1447.5,459.4 1448.0,452.6 1448.5,450.0 1449.0,452.6 1449.5,459.6 1450.0,468.6 1450.5,476.7 1451.0,483.9 1451.5,488.2 1452.0,490.3 1452.5,492.1 1453.0,492.5 1453.5,493.4 1454.0,493.1 1454.5,493.7 1455.0,493.7 1455.5,493.8 1456.0,493.8 1456.5,493.4 1457.0,493.3 1457.5,493.6 1458.0,493.9 1458.5,493.5 1459.0,494.7 1459.5,495.0 1460.0,493.7 1460.5,494.2 1461.0,493.8 1461.5,493.7 1462.0,493.2 1462.5,494.2 1463.0,493.4 1463.5,493.3 1464.0,492.9 1464.5,494.2 1465.0,494.5 1465.5,493.3 1466.0,493.0 1466.5,493.4 1467.0,493.1 1467.5,493.0 1468.0,492.6 1468.5,493.0 1469.0,492.5 1469.5,493.3 1470.0,494.6 1470.5,493.8 1471.0,494.5 1471.5,494.1 1472.0,493.4 1472.5,493.1 1473.0,492.6 1473.5,493.0 1474.0,493.4 1474.5,493.8 1475.0,493.4 1475.5,492.6 1476.0,492.8 1476.5,493.9 1477.0,493.7 1477.5,493.4 1478.0,492.2 1478.5,492.4 1479.0,493.0 1479.5,492.5 1480.0,493.5 1480.5,493.0 1481.0,492.6 1481.5,492.5 1482.0,492.7 1482.5,493.4 1483.0,492.9 1483.5,492.0 1484.0,492.4 1484.5,493.0 1485.0,493.8 1485.5,492.9 1486.0,493.7 1486.5,493.8 1487.0,493.7 1487.5,492.9 1488.0,492.5 1488.5,492.2 1489.0,493.0 1489.5,493.1 1490.0,493.6 1490.5,494.3 1491.0,493.7 1491.5,493.3 1492.0,494.2 1492.5,492.9 1493.0,492.7 1493.5,492.6 1494.0,492.5 1494.5,492.7 1495.0,492.3 1495.5,493.2 1496.0,492.3 1496.5,492.1 1497.0,491.5 1497.5,491.3 1498.0,492.3 1498.5,492.9 1499.0,492.7 1499.5,493.2 1500.0,493.4 1500.5,492.8 1501.0,492.8 1501.5,493.0 1502.0,493.9 1502.5,493.2 1503.0,493.2 1503.5,493.3 1504.0,493.7 1504.5,493.5 1505.0,493.7 1505.5,492.7 1506.0,492.5 1506.5,491.6 1507.0,492.0 1507.5,493.6 1508.0,493.3 1508.5,493.0 1509.0,493.0 1509.5,492.9 1510.0,492.1 1510.5,491.9 1511.0,492.1 1511.5,492.4 1512.0,492.0 1512.5,492.2 1513.0,492.0 1513.5,491.5 1514.0,491.6 1514.5,491.6 1515.0,492.5 1515.5,493.2 1516.0,493.2 1516.5,492.8 1517.0,492.4 1517.5,491.6 1518.0,491.7 1518.5,492.9 1519.0,493.3 1519.5,493.1 1520.0,492.7 1520.5,492.6 1521.0,492.7 1521.5,492.6 1522.0,492.8 1522.5,492.2 1523.0,492.3 1523.5,492.2 1524.0,492.8 1524.5,492.0 1525.0,492.9 1525.5,492.6 1526.0,492.2 1526.5,492.3 1527.0,492.4 1527.5,492.2 1528.0,492.5 1528.5,492.1 1529.0,491.3 1529.5,492.1 1530.0,492.2 1530.5,493.1 1531.0,493.0 1531.5,491.5 1532.0,492.3 1532.5,491.5 1533.0,491.1 1533.5,490.7 1534.0,488.6 1534.5,485.3 1535.0,482.7 1535.5,480.7 1536.0,480.0 1536.5,480.8 1537.0,482.6 1537.5,485.3 1538.0,488.0 1538.5,490.2 1539.0,490.9 1539.5,491.2 1540.0,491.1 1540.5,490.9 1541.0,491.7 1541.5,491.9 1542.0,492.7 1542.5,492.6 1543.0,492.2 1543.5,491.4 1544.0,492.5 1544.5,492.4 1545.0,492.2 1545.5,491.6 1546.0,491.2 1546.5,491.9 1547.0,491.5 1547.5,492.0 1548.0,492.4 1548.5,492.0 1549.0,491.1 1549.5,491.7 1550.0,492.6 1550.5,491.9 1551.0,491.2 1551.5,492.1 1552.0,492.1 1552.5,491.7 1553.0,492.5 1553.5,492.1 1554.0,492.2 1554.5,491.9 1555.0,491.5 1555.5,491.8 1556.0,491.4 1556.5,490.6 1557.0,490.9 1557.5,492.0 1558.0,492.5 1558.5,493.4 1559.0,493.2 1559.5,493.5 1560.0,492.9 1560.5,492.1 1561.0,492.2 1561.5,491.5 1562.0,492.0 1562.5,491.7 1563.0,491.9 1563.5,491.4 1564.0,491.5 1564.5,492.1 1565.0,491.8 1565.5,491.4 1566.0,491.7 1566.5,492.2 1567.0,491.9 1567.5,491.2 1568.0,490.6 1568.5,490.3 1569.0,491.5 1569.5,491.5 1570.0,491.8 1570.5,492.3 1571.0,492.2 1571.5,492.2 1572.0,491.7 1572.5,490.8 1573.0,491.5 1573.5,491.5 1574.0,491.8 1574.5,491.1 1575.0,491.3 1575.5,492.5 1576.0,491.6 1576.5,491.6 1577.0,492.3 1577.5,491.8 1578.0,491.8 1578.5,490.5 1579.0,491.4 1579.5,491.2 1580.0,492.0 1580.5,491.8 1581.0,491.5 1581.5,491.7 1582.0,491.5 1582.5,491.3 1583.0,492.3 1583.5,492.5 1584.0,492.2 1584.5,492.4 1585.0,492.5 1585.5,492.4 1586.0,492.1 1586.5,492.0 1587.0,492.1 1587.5,492.2 1588.0,492.2 1588.5,491.7 1589.0,491.7 1589.5,492.0 1590.0,491.4 1590.5,491.6 1591.0,492.1 1591.5,492.1 1592.0,491.9 1592.5,491.9 1593.0,491.6 1593.5,492.3 1594.0,491.9 1594.5,491.1 1595.0,490.8 1595.5,491.5 1596.0,491.9 1596.5,491.7 1597.0,491.5 1597.5,492.2 1598.0,492.5 1598.5,492.8 1599.0,493.6 1599.5,493.8 1600.0,494.6 1600.5,494.7 1601.0,495.1 1601.5,495.6 1602.0,497.0 1602.5,498.0 1603.0,498.3 1603.5,497.8 1604.0,498.1 1604.5,499.0 1605.0,499.5 1605.5,498.7 1606.0,499.3 1606.5,499.4 1607.0,500.1 1607.5,500.4 1608.0,499.5 1608.5,499.9 1609.0,497.3 1609.5,494.9 1610.0,487.6 1610.5,476.4 1611.0,462.0 1611.5,444.4 1612.0,428.7 1612.5,418.8 1613.0,417.8 1613.5,426.3 1614.0,441.6 1614.5,460.2 1615.0,477.4 1615.5,490.6 1616.0,499.7 1616.5,504.5 1617.0,507.2 1617.5,507.5 1618.0,508.7 1618.5,509.2 1619.0,509.3 1619.5,509.4 1620.0,509.4 1620.5,509.0 1621.0,508.7 1621.5,509.0 1622.0,509.0 1622.5,509.3 1623.0,509.1 1623.5,508.8 1624.0,509.0 1624.5,508.9 1625.0,508.6 1625.5,508.6 1626.0,508.6 1626.5,508.5 1627.0,508.6 1627.5,509.0 1628.0,509.6 1628.5,509.8 1629.0,509.3 1629.5,509.5 1630.0,509.3 1630.5,509.3 1631.0,509.0 1631.5,509.0 1632.0,508.6 1632.5,509.2 1633.0,509.0 1633.5,509.1 1634.0,509.0 1634.5,509.1 1635.0,508.8 1635.5,508.8 1636.0,509.1 1636.5,509.2 1637.0,508.7 1637.5,509.1 1638.0,508.7 1638.5,508.9 1639.0,509.1 1639.5,508.9 1640.0,508.9 1640.5,508.9 1641.0,509.1 1641.5,509.3 1642.0,509.5 1642.5,509.4 1643.0,509.7 1643.5,509.2 1644.0,509.5 1644.5,509.3 1645.0,509.4 1645.5,509.2 1646.0,509.2 1646.5,508.9 1647.0,509.1 1647.5,509.6 1648.0,509.4 1648.5,509.2 1649.0,509.2 1649.5,509.3 1650.0,509.1 1650.5,509.1 1651.0,509.1 1651.5,509.4 1652.0,509.5 1652.5,509.0 1653.0,508.9 1653.5,509.0 1654.0,509.2 1654.5,509.4 1655.0,509.2 1655.5,509.7 1656.0,509.4 1656.5,509.6 1657.0,509.7 1657.5,509.8 1658.0,509.5 1658.5,509.5 1659.0,508.9 1659.5,508.6 1660.0,508.7 1660.5,509.0 1661.0,509.3 1661.5,509.2 1662.0,509.4 1662.5,509.4 1663.0,509.6 1663.5,509.0 1664.0,508.9 1664.5,508.7 1665.0,508.7 1665.5,509.3 1666.0,509.0 1666.5,508.8 1667.0,508.9 1667.5,509.2 1668.0,509.0 1668.5,509.2 1669.0,509.3 1669.5,509.1 1670.0,508.5 1670.5,508.6 1671.0,508.5 1671.5,509.2 1672.0,509.0 1672.5,508.8 1673.0,509.0 1673.5,509.1 1674.0,508.9 1674.5,509.3 1675.0,509.4 1675.5,509.3 1676.0,509.1 1676.5,508.9 1677.0,508.5 1677.5,508.9 1678.0,509.1 1678.5,508.9 1679.0,509.0 1679.5,509.9 1680.0,509.3 1680.5,508.8 1681.0,509.1 1681.5,509.0 1682.0,508.9 1682.5,509.2 1683.0,509.1 1683.5,509.4 1684.0,509.4 1684.5,509.6 1685.0,509.4 1685.5,508.8 1686.0,509.3 1686.5,508.8 1687.0,509.2 1687.5,509.2 1688.0,508.9 1688.5,509.0 1689.0,509.3 1689.5,509.0 1690.0,509.1 1690.5,508.9 1691.0,508.8 1691.5,508.8 1692.0,509.3 1692.5,509.4 1693.0,509.3 1693.5,509.2 1694.0,509.2 1694.5,509.3 1695.0,509.3 1695.5,508.8 1696.0,509.2 1696.5,509.0 1697.0,508.4 1697.5,508.9 1698.0,508.8 1698.5,508.9 1699.0,509.0 1699.5,508.9 1700.0,509.2 1700.5,509.1 1701.0,509.1 1701.5,508.9 1702.0,508.9 1702.5,508.8 1703.0,509.0 1703.5,509.4 1704.0,509.5 1704.5,509.5 1705.0,509.0 1705.5,509.3 1706.0,509.5 1706.5,509.9 1707.0,509.0 1707.5,509.1 1708.0,509.1 1708.5,509.4 1709.0,509.0 1709.5,509.0 1710.0,509.6 1710.5,509.7 1711.0,509.0 1711.5,509.1 1712.0,509.5 1712.5,509.2 1713.0,509.3 1713.5,509.3 1714.0,508.9 1714.5,508.9 1715.0,509.3 1715.5,509.5 1716.0,509.2 1716.5,509.5 1717.0,509.2 1717.5,509.3 1718.0,509.2 1718.5,508.9 1719.0,509.1 1719.5,509.1 1720.0,508.5 1720.5,508.6 1721.0,508.7 1721.5,508.7 1722.0,508.7 1722.5,508.8 1723.0,508.4 1723.5,509.0 1724.0,509.1 1724.5,509.2 1725.0,509.2 1725.5,509.2 1726.0,509.1 1726.5,508.9 1727.0,508.7 1727.5,508.9 1728.0,509.3 1728.5,509.3 1729.0,509.7 1729.5,509.1 1730.0,509.1 1730.5,509.0 1731.0,509.4 1731.5,509.7 1732.0,509.4 1732.5,509.5 1733.0,509.3 1733.5,509.0 1734.0,509.1 1734.5,508.9 1735.0,509.4 1735.5,509.5 1736.0,509.7 1736.5,509.6 1737.0,508.8 1737.5,509.2 1738.0,509.3 1738.5,508.7 1739.0,509.0 1739.5,509.3 1740.0,509.7 1740.5,509.2 1741.0,509.4 1741.5,509.4 1742.0,509.3 1742.5,509.2 1743.0,509.4 1743.5,509.5 1744.0,509.5 1744.5,509.3 1745.0,509.0 1745.5,509.4 1746.0,509.7 1746.5,509.3 1747.0,509.3 1747.5,509.5 1748.0,509.0 1748.5,509.2 1749.0,509.8 1749.5,509.6 1750.0,509.3 1750.5,509.8 1751.0,509.6 1751.5,509.5 1752.0,509.3 1752.5,509.3 1753.0,508.9 1753.5,508.7 1754.0,508.6 1754.5,509.1 1755.0,509.2 1755.5,509.5 1756.0,508.9 1756.5,508.9 1757.0,509.4 1757.5,509.2 1758.0,508.8 1758.5,508.8 1759.0,509.0 1759.5,509.1 1760.0,509.5 1760.5,509.7 1761.0,509.9 1761.5,509.8 1762.0,509.4 1762.5,509.2 1763.0,508.9 1763.5,509.4 1764.0,509.6 1764.5,509.5 1765.0,509.2 1765.5,509.4 1766.0,509.5 1766.5,509.4 1767.0,509.1 1767.5,509.2 1768.0,509.1" fill="none" stroke="#00ff00" stroke-width="3.7" stroke-linejoin="round" stroke-linecap="round"/>
<polyline points="1004.0,566.8 1004.5,566.9 1005.0,566.9 1005.5,566.6 1006.0,567.2 1006.5,567.2 1007.0,567.5 1007.5,567.4 1008.0,567.3 1008.5,567.1 1009.0,566.4 1009.5,565.6 1010.0,565.6 1010.5,566.3 1011.0,566.8 1011.5,566.7 1012.0,566.7 1012.5,567.4 1013.0,566.8 1013.5,565.9 1014.0,565.5 1014.5,565.8 1015.0,566.4 1015.5,566.8 1016.0,566.6 1016.5,566.9 1017.0,566.7 1017.5,566.3 1018.0,566.2 1018.5,566.7 1019.0,567.0 1019.5,566.3 1020.0,566.0 1020.5,566.3 1021.0,567.3 1021.5,566.4 1022.0,565.9 1022.5,566.4 1023.0,566.6 1023.5,566.3 1024.0,566.4 1024.5,566.6 1025.0,565.8 1025.5,566.1 1026.0,566.6 1026.5,566.9 1027.0,567.2 1027.5,566.9 1028.0,566.1 1028.5,566.8 1029.0,567.0 1029.5,566.5 1030.0,567.0 1030.5,567.2 1031.0,566.8 1031.5,565.7 1032.0,565.8 1032.5,565.8 1033.0,565.7 1033.5,566.1 1034.0,565.8 1034.5,566.3 1035.0,567.2 1035.5,566.4 1036.0,566.9 1036.5,566.5 1037.0,566.7 1037.5,566.6 1038.0,567.1 1038.5,566.5 1039.0,566.8 1039.5,566.4 1040.0,566.5 1040.5,566.5 1041.0,567.0 1041.5,566.1 1042.0,565.7 1042.5,566.6 1043.0,566.8 1043.5,567.4 1044.0,566.5 1044.5,566.6 1045.0,566.8 1045.5,567.4 1046.0,567.0 1046.5,566.6 1047.0,566.9 1047.5,566.7 1048.0,566.3 1048.5,566.7 1049.0,565.8 1049.5,565.7 1050.0,566.6 1050.5,566.4 1051.0,566.3 1051.5,566.5 1052.0,567.0 1052.5,567.0 1053.0,566.4 1053.5,566.2 1054.0,566.8 1054.5,566.6 1055.0,566.3 1055.5,566.8 1056.0,567.1 1056.5,567.8 1057.0,566.7 1057.5,566.3 1058.0,566.1 1058.5,566.4 1059.0,566.3 1059.5,566.8 1060.0,565.5 1060.5,566.4 1061.0,566.1 1061.5,566.2 1062.0,566.6 1062.5,566.6 1063.0,566.1 1063.5,566.9 1064.0,567.0 1064.5,566.6 1065.0,566.6 1065.5,566.1 1066.0,565.7 1066.5,566.0 1067.0,566.4 1067.5,566.5 1068.0,566.1 1068.5,565.7 1069.0,565.3 1069.5,566.5 1070.0,566.7 1070.5,566.3 1071.0,566.9 1071.5,566.9 1072.0,566.6 1072.5,566.3 1073.0,566.9 1073.5,566.8 1074.0,567.4 1074.5,567.2 1075.0,566.6 1075.5,566.3 1076.0,566.1 1076.5,566.4 1077.0,566.5 1077.5,566.8 1078.0,566.9 1078.5,566.2 1079.0,566.3 1079.5,566.0 1080.0,566.4 1080.5,565.9 1081.0,565.9 1081.5,565.8 1082.0,565.8 1082.5,566.0 1083.0,566.9 1083.5,566.6 1084.0,565.9 1084.5,566.1 1085.0,566.6 1085.5,566.8 1086.0,566.8 1086.5,567.5 1087.0,567.5 1087.5,567.1 1088.0,567.4 1088.5,566.4 1089.0,566.4 1089.5,566.1 1090.0,566.3 1090.5,567.1 1091.0,566.6 1091.5,567.3 1092.0,566.5 1092.5,567.1 1093.0,566.1 1093.5,565.9 1094.0,566.6 1094.5,566.5 1095.0,566.6 1095.5,566.5 1096.0,566.6 1096.5,566.5 1097.0,566.1 1097.5,566.1 1098.0,566.3 1098.5,566.0 1099.0,566.4 1099.5,567.2 1100.0,566.2 1100.5,566.1 1101.0,566.2 1101.5,566.3 1102.0,566.4 1102.5,566.2 1103.0,566.3 1103.5,566.4 1104.0,566.4 1104.5,567.1 1105.0,566.9 1105.5,566.1 1106.0,565.6 1106.5,566.2 1107.0,566.2 1107.5,566.0 1108.0,565.6 1108.5,565.8 1109.0,566.0 1109.5,565.9 1110.0,565.9 1110.5,566.5 1111.0,566.8 1111.5,566.8 1112.0,566.5 1112.5,565.8 1113.0,566.3 1113.5,566.9 1114.0,567.2 1114.5,567.2 1115.0,566.9 1115.5,566.7 1116.0,566.5 1116.5,566.9 1117.0,566.4 1117.5,567.2 1118.0,567.1 1118.5,566.5 1119.0,566.3 1119.5,565.5 1120.0,565.4 1120.5,565.6 1121.0,566.8 1121.5,566.1 1122.0,566.5 1122.5,566.3 1123.0,566.0 1123.5,566.3 1124.0,565.2 1124.5,566.0 1125.0,566.8 1125.5,566.5 1126.0,566.2 1126.5,566.1 1127.0,566.3 1127.5,565.9 1128.0,565.9 1128.5,566.1 1129.0,565.8 1129.5,566.0 1130.0,566.0 1130.5,566.2 1131.0,565.6 1131.5,565.4 1132.0,565.4 1132.5,566.0 1133.0,566.0 1133.5,565.1 1134.0,564.8 1134.5,566.0 1135.0,566.0 1135.5,565.3 1136.0,565.0 1136.5,565.3 1137.0,566.1 1137.5,566.5 1138.0,565.9 1138.5,565.6 1139.0,566.4 1139.5,565.6 1140.0,566.2 1140.5,566.0 1141.0,565.7 1141.5,566.1 1142.0,565.9 1142.5,565.3 1143.0,564.6 1143.5,564.8 1144.0,565.2 1144.5,565.7 1145.0,564.2 1145.5,565.1 1146.0,565.3 1146.5,565.8 1147.0,565.7 1147.5,565.4 1148.0,565.3 1148.5,565.2 1149.0,564.6 1149.5,564.6 1150.0,564.6 1150.5,564.4 1151.0,563.8 1151.5,563.5 1152.0,564.2 1152.5,564.5 1153.0,564.6 1153.5,564.0 1154.0,564.6 1154.5,564.4 1155.0,563.5 1155.5,564.6 1156.0,563.9 1156.5,565.4 1157.0,565.7 1157.5,565.5 1158.0,564.7 1158.5,565.1 1159.0,566.4 1159.5,567.2 1160.0,567.3 1160.5,566.6 1161.0,566.9 1161.5,567.3 1162.0,567.9 1162.5,568.2 1163.0,568.6 1163.5,567.9 1164.0,567.9 1164.5,568.8 1165.0,568.0 1165.5,568.7 1166.0,569.6 1166.5,569.4 1167.0,568.4 1167.5,569.0 1168.0,568.0 1168.5,568.4 1169.0,568.3 1169.5,569.0 1170.0,569.3 1170.5,569.1 1171.0,569.7 1171.5,569.6 1172.0,569.0 1172.5,568.4 1173.0,569.6 1173.5,569.0 1174.0,569.0 1174.5,568.8 1175.0,568.5 1175.5,567.9 1176.0,568.2 1176.5,568.4 1177.0,568.9 1177.5,568.6 1178.0,568.0 1178.5,567.8 1179.0,568.2 1179.5,568.6 1180.0,569.0 1180.5,568.7 1181.0,569.0 1181.5,568.9 1182.0,569.6 1182.5,569.2 1183.0,569.1 1183.5,569.2 1184.0,569.5 1184.5,568.8 1185.0,568.6 1185.5,568.6 1186.0,567.8 1186.5,568.8 1187.0,569.3 1187.5,569.1 1188.0,570.5 1188.5,570.3 1189.0,570.5 1189.5,570.5 1190.0,570.1 1190.5,569.0 1191.0,569.6 1191.5,569.5 1192.0,568.7 1192.5,568.8 1193.0,569.2 1193.5,569.5 1194.0,569.3 1194.5,568.9 1195.0,569.3 1195.5,568.8 1196.0,568.8 1196.5,569.2 1197.0,568.5 1197.5,568.9 1198.0,568.1 1198.5,568.1 1199.0,568.0 1199.5,568.4 1200.0,569.0 1200.5,569.0 1201.0,569.4 1201.5,569.2 1202.0,569.0 1202.5,569.2 1203.0,569.0 1203.5,569.0 1204.0,569.5 1204.5,569.0 1205.0,569.5 1205.5,568.7 1206.0,568.7 1206.5,568.1 1207.0,568.2 1207.5,569.2 1208.0,569.2 1208.5,569.6 1209.0,568.7 1209.5,568.3 1210.0,568.8 1210.5,569.2 1211.0,569.4 1211.5,568.4 1212.0,568.9 1212.5,568.8 1213.0,568.9 1213.5,569.1 1214.0,568.9 1214.5,568.1 1215.0,568.0 1215.5,567.7 1216.0,567.6 1216.5,568.1 1217.0,569.0 1217.5,568.6 1218.0,568.4 1218.5,568.1 1219.0,567.6 1219.5,568.2 1220.0,568.2 1220.5,568.4 1221.0,568.1 1221.5,568.6 1222.0,568.2 1222.5,568.7 1223.0,568.4 1223.5,568.9 1224.0,568.4 1224.5,568.8 1225.0,568.9 1225.5,568.8 1226.0,569.5 1226.5,569.2 1227.0,568.6 1227.5,568.9 1228.0,568.5 1228.5,568.3 1229.0,568.5 1229.5,568.7 1230.0,569.4 1230.5,568.3 1231.0,568.4 1231.5,569.0 1232.0,568.8 1232.5,568.9 1233.0,569.4 1233.5,568.5 1234.0,568.6 1234.5,569.0 1235.0,568.6 1235.5,567.8 1236.0,567.7 1236.5,568.2 1237.0,568.5 1237.5,569.3 1238.0,569.6 1238.5,568.5 1239.0,569.0 1239.5,569.2 1240.0,569.6 1240.5,569.1 1241.0,568.6 1241.5,568.7 1242.0,569.3 1242.5,569.2 1243.0,569.7 1243.5,569.5 1244.0,568.8 1244.5,568.2 1245.0,569.2 1245.5,568.2 1246.0,568.2 1246.5,568.2 1247.0,567.9 1247.5,567.9 1248.0,568.2 1248.5,569.4 1249.0,568.9 1249.5,568.5 1250.0,568.5 1250.5,568.9 1251.0,568.4 1251.5,568.2 1252.0,567.6 1252.5,568.3 1253.0,568.6 1253.5,569.2 1254.0,568.3 1254.5,569.3 1255.0,569.3 1255.5,568.8 1256.0,568.4 1256.5,568.3 1257.0,567.8 1257.5,568.4 1258.0,568.1 1258.5,567.9 1259.0,568.4 1259.5,568.4 1260.0,568.1 1260.5,568.1 1261.0,568.0 1261.5,568.8 1262.0,569.0 1262.5,568.4 1263.0,568.4 1263.5,568.9 1264.0,568.5 1264.5,569.2 1265.0,569.0 1265.5,569.0 1266.0,567.8 1266.5,568.4 1267.0,568.5 1267.5,568.7 1268.0,568.7 1268.5,568.7 1269.0,568.3 1269.5,568.7 1270.0,568.5 1270.5,567.9 1271.0,567.6 1271.5,568.0 1272.0,568.2 1272.5,567.3 1273.0,566.8 1273.5,567.9 1274.0,568.0 1274.5,569.4 1275.0,568.2 1275.5,568.1 1276.0,567.9 1276.5,568.3 1277.0,568.8 1277.5,569.3 1278.0,568.3 1278.5,568.8 1279.0,568.0 1279.5,568.2 1280.0,568.3 1280.5,568.5 1281.0,568.0 1281.5,568.6 1282.0,568.4 1282.5,568.3 1283.0,568.1 1283.5,567.6 1284.0,568.2 1284.5,568.3 1285.0,568.4 1285.5,569.1 1286.0,568.3 1286.5,568.1 1287.0,568.1 1287.5,568.5 1288.0,568.2 1288.5,568.6 1289.0,568.5 1289.5,567.6 1290.0,567.5 1290.5,566.9 1291.0,567.3 1291.5,567.4 1292.0,568.0 1292.5,568.1 1293.0,568.0 1293.5,568.6 1294.0,568.6 1294.5,567.8 1295.0,567.6 1295.5,567.9 1296.0,568.7 1296.5,568.3 1297.0,568.1 1297.5,568.1 1298.0,568.4 1298.5,568.2 1299.0,568.2 1299.5,567.9 1300.0,567.7 1300.5,567.5 1301.0,568.0 1301.5,567.7 1302.0,568.1 1302.5,568.2 1303.0,568.5 1303.5,567.1 1304.0,567.0 1304.5,566.9 1305.0,567.3 1305.5,567.9 1306.0,569.0 1306.5,569.2 1307.0,569.2 1307.5,568.8 1308.0,568.2 1308.5,568.3 1309.0,567.1 1309.5,567.9 1310.0,567.9 1310.5,568.1 1311.0,567.5 1311.5,567.2 1312.0,567.2 1312.5,567.5 1313.0,567.8 1313.5,567.6 1314.0,567.9 1314.5,568.1 1315.0,567.5 1315.5,567.6 1316.0,567.0 1316.5,567.1 1317.0,567.8 1317.5,567.5 1318.0,568.4 1318.5,568.3 1319.0,568.5 1319.5,568.2 1320.0,568.4 1320.5,568.6 1321.0,568.2 1321.5,567.8 1322.0,567.5 1322.5,568.4 1323.0,568.0 1323.5,567.7 1324.0,567.4 1324.5,566.8 1325.0,567.0 1325.5,567.4 1326.0,567.3 1326.5,567.2 1327.0,567.6 1327.5,567.8 1328.0,567.6 1328.5,567.7 1329.0,567.3 1329.5,567.8 1330.0,567.3 1330.5,567.3 1331.0,567.5 1331.5,567.4 1332.0,567.0 1332.5,568.2 1333.0,568.6 1333.5,567.4 1334.0,567.5 1334.5,567.0 1335.0,567.4 1335.5,566.9 1336.0,567.5 1336.5,567.7 1337.0,568.4 1337.5,568.6 1338.0,567.9 1338.5,568.2 1339.0,567.7 1339.5,567.6 1340.0,567.3 1340.5,566.7 1341.0,567.3 1341.5,566.5 1342.0,566.9 1342.5,567.4 1343.0,567.5 1343.5,566.8 1344.0,566.8 1344.5,567.4 1345.0,567.9 1345.5,568.4 1346.0,567.2 1346.5,567.5 1347.0,567.3 1347.5,567.7 1348.0,566.8 1348.5,567.1 1349.0,567.5 1349.5,567.2 1350.0,567.2 1350.5,566.8 1351.0,567.6 1351.5,566.9 1352.0,566.7 1352.5,566.9 1353.0,567.0 1353.5,568.1 1354.0,567.9 1354.5,567.3 1355.0,567.6 1355.5,567.6 1356.0,567.6 1356.5,567.5 1357.0,567.6 1357.5,567.0 1358.0,566.6 1358.5,566.8 1359.0,566.5 1359.5,567.2 1360.0,568.1 1360.5,568.3 1361.0,568.1 1361.5,567.9 1362.0,567.3 1362.5,566.7 1363.0,567.2 1363.5,566.6 1364.0,567.0 1364.5,567.1 1365.0,567.5 1365.5,567.4 1366.0,567.4 1366.5,567.1 1367.0,566.4 1367.5,566.6 1368.0,567.2 1368.5,567.7 1369.0,568.1 1369.5,567.3 1370.0,566.8 1370.5,567.3 1371.0,567.1 1371.5,568.3 1372.0,567.9 1372.5,566.9 1373.0,566.8 1373.5,567.7 1374.0,566.6 1374.5,567.0 1375.0,566.4 1375.5,567.5 1376.0,567.1 1376.5,566.7 1377.0,566.1 1377.5,566.3 1378.0,565.5 1378.5,566.1 1379.0,567.5 1379.5,567.4 1380.0,567.1 1380.5,566.6 1381.0,567.0 1381.5,566.8 1382.0,566.6 1382.5,567.4 1383.0,567.5 1383.5,566.9 1384.0,567.6 1384.5,567.4 1385.0,567.4 1385.5,567.3 1386.0,567.7 1386.5,567.7 1387.0,567.2 1387.5,567.5 1388.0,567.1 1388.5,567.1 1389.0,567.8 1389.5,567.0 1390.0,566.5 1390.5,566.6 1391.0,566.5 1391.5,567.3 1392.0,566.5 1392.5,567.7 1393.0,568.1 1393.5,567.4 1394.0,567.3 1394.5,567.0 1395.0,567.3 1395.5,567.4 1396.0,567.5 1396.5,567.6 1397.0,568.2 1397.5,567.5 1398.0,567.6 1398.5,567.2 1399.0,567.1 1399.5,567.1 1400.0,567.0 1400.5,567.1 1401.0,566.6 1401.5,566.7 1402.0,566.5 1402.5,566.2 1403.0,566.2 1403.5,566.3 1404.0,566.5 1404.5,566.0 1405.0,566.3 1405.5,566.0 1406.0,566.0 1406.5,566.5 1407.0,567.1 1407.5,567.1 1408.0,566.8 1408.5,566.6 1409.0,567.3 1409.5,566.4 1410.0,567.1 1410.5,566.3 1411.0,566.2 1411.5,566.5 1412.0,566.5 1412.5,567.4 1413.0,567.3 1413.5,567.1 1414.0,567.3 1414.5,567.1 1415.0,566.6 1415.5,567.2 1416.0,567.6 1416.5,567.8 1417.0,566.8 1417.5,567.6 1418.0,567.0 1418.5,567.2 1419.0,567.5 1419.5,568.2 1420.0,566.8 1420.5,566.3 1421.0,567.0 1421.5,567.1 1422.0,566.8 1422.5,565.4 1423.0,566.2 1423.5,566.3 1424.0,565.3 1424.5,567.1 1425.0,565.8 1425.5,565.9 1426.0,566.2 1426.5,566.5 1427.0,566.9 1427.5,566.7 1428.0,566.2 1428.5,566.3 1429.0,565.5 1429.5,565.5 1430.0,566.9 1430.5,566.4 1431.0,566.5 1431.5,567.4 1432.0,567.5 1432.5,567.1 1433.0,567.2 1433.5,566.8 1434.0,566.3 1434.5,566.8 1435.0,566.8 1435.5,567.4 1436.0,566.9 1436.5,566.6 1437.0,566.7 1437.5,566.5 1438.0,566.4 1438.5,566.0 1439.0,566.4 1439.5,566.6 1440.0,567.3 1440.5,567.0 1441.0,566.1 1441.5,566.6 1442.0,567.7 1442.5,567.1 1443.0,566.7 1443.5,566.8 1444.0,565.4 1444.5,565.3 1445.0,564.4 1445.5,561.3 1446.0,557.1 1446.5,549.6 1447.0,539.9 1447.5,530.3 1448.0,522.9 1448.5,520.0 1449.0,522.9 1449.5,530.7 1450.0,540.6 1450.5,550.2 1451.0,558.2 1451.5,562.9 1452.0,565.9 1452.5,567.7 1453.0,567.7 1453.5,567.9 1454.0,568.3 1454.5,568.3 1455.0,568.3 1455.5,568.2 1456.0,568.3 1456.5,569.2 1457.0,569.5 1457.5,568.3 1458.0,568.4 1458.5,568.5 1459.0,568.5 1459.5,567.9 1460.0,568.1 1460.5,568.3 1461.0,568.1 1461.5,568.4 1462.0,567.3 1462.5,567.1 1463.0,567.8 1463.5,568.2 1464.0,568.2 1464.5,568.1 1465.0,568.3 1465.5,568.8 1466.0,569.0 1466.5,568.7 1467.0,568.3 1467.5,568.8 1468.0,568.8 1468.5,569.0 1469.0,568.6 1469.5,568.1 1470.0,568.3 1470.5,568.0 1471.0,568.7 1471.5,568.9 1472.0,567.7 1472.5,568.2 1473.0,568.8 1473.5,569.0 1474.0,568.5 1474.5,568.0 1475.0,568.6 1475.5,568.9 1476.0,568.6 1476.5,567.9 1477.0,567.4 1477.5,567.9 1478.0,567.7 1478.5,567.6 1479.0,568.1 1479.5,568.6 1480.0,567.5 1480.5,567.5 1481.0,568.4 1481.5,568.3 1482.0,568.1 1482.5,568.4 1483.0,567.8 1483.5,567.4 1484.0,567.8 1484.5,568.6 1485.0,568.9 1485.5,568.5 1486.0,568.8 1486.5,568.3 1487.0,567.7 1487.5,567.1 1488.0,567.7 1488.5,568.3 1489.0,568.4 1489.5,568.2 1490.0,568.0 1490.5,568.5 1491.0,568.3 1491.5,567.6 1492.0,568.4 1492.5,567.9 1493.0,568.2 1493.5,568.1 1494.0,568.5 1494.5,568.4 1495.0,568.8 1495.5,568.5 1496.0,568.1 1496.5,567.8 1497.0,568.2 1497.5,567.7 1498.0,568.3 1498.5,568.0 1499.0,567.6 1499.5,567.4 1500.0,567.6 1500.5,568.5 1501.0,568.6 1501.5,568.3 1502.0,567.7 1502.5,568.7 1503.0,568.2 1503.5,568.1 1504.0,567.8 1504.5,568.4 1505.0,568.3 1505.5,567.9 1506.0,568.0 1506.5,567.5 1507.0,567.2 1507.5,567.4 1508.0,566.4 1508.5,567.5 1509.0,568.6 1509.5,567.8 1510.0,567.7 1510.5,567.1 1511.0,567.5 1511.5,567.7 1512.0,568.1 1512.5,567.4 1513.0,567.3 1513.5,567.2 1514.0,567.4 1514.5,568.6 1515.0,568.1 1515.5,567.9 1516.0,567.6 1516.5,568.0 1517.0,569.0 1517.5,569.0 1518.0,569.1 1518.5,568.0 1519.0,568.4 1519.5,568.1 1520.0,568.5 1520.5,568.6 1521.0,568.5 1521.5,567.4 1522.0,567.6 1522.5,567.4 1523.0,567.7 1523.5,567.7 1524.0,568.2 1524.5,567.2 1525.0,567.1 1525.5,567.3 1526.0,567.6 1526.5,567.4 1527.0,567.5 1527.5,567.6 1528.0,568.1 1528.5,567.8 1529.0,567.8 1529.5,566.9 1530.0,566.1 1530.5,566.1 1531.0,566.9 1531.5,566.2 1532.0,566.9 1532.5,566.9 1533.0,566.6 1533.5,565.6 1534.0,564.5 1534.5,563.3 1535.0,561.7 1535.5,560.5 1536.0,560.0 1536.5,560.5 1537.0,561.8 1537.5,563.4 1538.0,564.7 1538.5,565.5 1539.0,566.5 1539.5,566.6 1540.0,566.4 1540.5,567.3 1541.0,567.1 1541.5,566.4 1542.0,566.5 1542.5,567.8 1543.0,567.6 1543.5,566.9 1544.0,566.7 1544.5,567.3 1545.0,567.5 1545.5,567.6 1546.0,567.4 1546.5,567.6 1547.0,568.2 1547.5,568.0 1548.0,567.7 1548.5,566.9 1549.0,567.3 1549.5,568.0 1550.0,568.0 1550.5,567.2 1551.0,567.3 1551.5,567.9 1552.0,567.4 1552.5,567.6 1553.0,568.0 1553.5,568.4 1554.0,567.2 1554.5,566.5 1555.0,567.0 1555.5,567.4 1556.0,567.2 1556.5,567.2 1557.0,567.1 1557.5,567.7 1558.0,566.5 1558.5,567.0 1559.0,566.5 1559.5,566.5 1560.0,566.2 1560.5,566.2 1561.0,566.7 1561.5,566.9 1562.0,567.8 1562.5,567.5 1563.0,567.5 1563.5,567.5 1564.0,567.5 1564.5,568.0 1565.0,567.7 1565.5,567.5 1566.0,567.3 1566.5,567.2 1567.0,567.2 1567.5,567.6 1568.0,567.4 1568.5,567.3 1569.0,567.2 1569.5,567.5 1570.0,567.1 1570.5,567.5 1571.0,567.1 1571.5,567.4 1572.0,568.1 1572.5,567.8 1573.0,567.4 1573.5,566.7 1574.0,567.2 1574.5,567.1 1575.0,567.5 1575.5,567.0 1576.0,567.3 1576.5,568.0 1577.0,567.7 1577.5,567.3 1578.0,566.6 1578.5,566.8 1579.0,567.2 1579.5,567.4 1580.0,566.7 1580.5,566.4 1581.0,566.3 1581.5,566.2 1582.0,566.5 1582.5,566.9 1583.0,567.8 1583.5,567.6 1584.0,568.0 1584.5,566.9 1585.0,567.7 1585.5,567.8 1586.0,567.7 1586.5,567.9 1587.0,567.9 1587.5,568.4 1588.0,568.3 1588.5,567.0 1589.0,566.4 1589.5,567.5 1590.0,567.4 1590.5,568.0 1591.0,567.5 1591.5,567.2 1592.0,567.1 1592.5,567.4 1593.0,567.5 1593.5,567.2 1594.0,567.5 1594.5,567.8 1595.0,567.2 1595.5,566.9 1596.0,566.3 1596.5,566.7 1597.0,567.4 1597.5,567.7 1598.0,568.1 1598.5,568.6 1599.0,569.2 1599.5,569.9 1600.0,570.6 1600.5,570.9 1601.0,571.6 1601.5,571.2 1602.0,571.9 1602.5,572.3 1603.0,572.1 1603.5,572.3 1604.0,573.1 1604.5,573.5 1605.0,573.3 1605.5,573.7 1606.0,575.0 1606.5,575.6 1607.0,575.4 1607.5,575.8 1608.0,574.7 1608.5,574.0 1609.0,572.9 1609.5,569.7 1610.0,563.9 1610.5,555.7 1611.0,544.5 1611.5,530.7 1612.0,518.9 1612.5,511.3 1613.0,510.6 1613.5,516.9 1614.0,528.7 1614.5,542.1 1615.0,554.6 1615.5,564.0 1616.0,570.1 1616.5,573.8 1617.0,576.1 1617.5,577.7 1618.0,578.0 1618.5,577.9 1619.0,577.5 1619.5,577.5 1620.0,577.4 1620.5,577.2 1621.0,578.1 1621.5,577.8 1622.0,577.7 1622.5,577.5 1623.0,577.4 1623.5,577.2 1624.0,577.6 1624.5,577.5 1625.0,577.5 1625.5,577.5 1626.0,577.3 1626.5,577.4 1627.0,577.4 1627.5,577.6 1628.0,577.5 1628.5,577.5 1629.0,577.6 1629.5,577.8 1630.0,577.5 1630.5,577.7 1631.0,577.4 1631.5,577.4 1632.0,577.5 1632.5,577.5 1633.0,577.0 1633.5,577.1 1634.0,577.2 1634.5,577.6 1635.0,577.4 1635.5,577.8 1636.0,577.3 1636.5,577.4 1637.0,577.6 1637.5,577.6 1638.0,577.6 1638.5,577.8 1639.0,577.5 1639.5,577.6 1640.0,577.8 1640.5,577.6 1641.0,577.1 1641.5,577.1 1642.0,577.1 1642.5,577.1 1643.0,577.4 1643.5,577.3 1644.0,577.9 1644.5,577.9 1645.0,577.5 1645.5,577.4 1646.0,577.8 1646.5,577.8 1647.0,577.5 1647.5,577.7 1648.0,577.6 1648.5,578.0 1649.0,577.7 1649.5,577.8 1650.0,577.8 1650.5,577.6 1651.0,577.6 1651.5,577.8 1652.0,577.8 1652.5,577.7 1653.0,577.7 1653.5,578.0 1654.0,578.0 1654.5,577.9 1655.0,577.8 1655.5,577.4 1656.0,577.5 1656.5,577.4 1657.0,577.7 1657.5,577.5 1658.0,577.6 1658.5,577.4 1659.0,577.7 1659.5,577.5 1660.0,577.5 1660.5,577.7 1661.0,577.6 1661.5,577.6 1662.0,577.8 1662.5,578.1 1663.0,577.5 1663.5,577.4 1664.0,577.6 1664.5,577.8 1665.0,577.6 1665.5,577.6 1666.0,577.6 1666.5,578.0 1667.0,577.8 1667.5,577.5 1668.0,577.2 1668.5,577.1 1669.0,577.6 1669.5,577.5 1670.0,578.0 1670.5,577.9 1671.0,577.9 1671.5,577.9 1672.0,577.9 1672.5,578.0 1673.0,577.6 1673.5,577.5 1674.0,577.4 1674.5,577.5 1675.0,577.5 1675.5,577.3 1676.0,577.3 1676.5,577.8 1677.0,578.1 1677.5,577.7 1678.0,577.8 1678.5,577.7 1679.0,577.5 1679.5,577.7 1680.0,577.7 1680.5,578.0 1681.0,577.9 1681.5,577.7 1682.0,577.2 1682.5,577.3 1683.0,577.6 1683.5,577.5 1684.0,577.7 1684.5,577.8 1685.0,577.4 1685.5,577.5 1686.0,577.6 1686.5,577.8 1687.0,577.7 1687.5,577.7 1688.0,577.6 1688.5,577.6 1689.0,577.6 1689.5,577.4 1690.0,577.6 1690.5,577.6 1691.0,577.7 1691.5,577.6 1692.0,577.7 1692.5,577.7 1693.0,577.9 1693.5,577.9 1694.0,578.0 1694.5,577.8 1695.0,577.7 1695.5,577.6 1696.0,577.4 1696.5,577.5 1697.0,577.8 1697.5,577.9 1698.0,577.6 1698.5,577.7 1699.0,577.8 1699.5,577.5 1700.0,577.6 1700.5,577.7 1701.0,577.8 1701.5,577.8 1702.0,577.4 1702.5,577.1 1703.0,577.8 1703.5,577.6 1704.0,577.9 1704.5,578.1 1705.0,577.9 1705.5,577.6 1706.0,577.9 1706.5,577.8 1707.0,577.8 1707.5,577.9 1708.0,578.0 1708.5,578.0 1709.0,577.6 1709.5,577.4 1710.0,577.5 1710.5,577.6 1711.0,577.8 1711.5,577.7 1712.0,577.7 1712.5,578.1 1713.0,578.2 1713.5,578.2 1714.0,578.2 1714.5,577.8 1715.0,577.7 1715.5,577.7 1716.0,577.5 1716.5,577.4 1717.0,577.6 1717.5,577.4 1718.0,577.6 1718.5,577.8 1719.0,577.7 1719.5,577.6 1720.0,577.8 1720.5,577.8 1721.0,577.9 1721.5,577.5 1722.0,577.3 1722.5,577.9 1723.0,577.7 1723.5,577.6 1724.0,577.3 1724.5,577.3 1725.0,577.4 1725.5,577.7 1726.0,577.2 1726.5,577.1 1727.0,577.3 1727.5,577.4 1728.0,577.4 1728.5,577.5 1729.0,577.3 1729.5,577.5 1730.0,577.9 1730.5,577.8 1731.0,577.7 1731.5,578.0 1732.0,577.9 1732.5,577.6 1733.0,577.6 1733.5,577.5 1734.0,577.6 1734.5,577.9 1735.0,577.7 1735.5,577.7 1736.0,577.7 1736.5,577.5 1737.0,577.5 1737.5,577.7 1738.0,578.0 1738.5,577.5 1739.0,577.7 1739.5,577.7 1740.0,578.0 1740.5,578.0 1741.0,578.3 1741.5,578.1 1742.0,577.9 1742.5,577.6 1743.0,577.4 1743.5,577.7 1744.0,577.8 1744.5,577.9 1745.0,577.9 1745.5,577.6 1746.0,577.6 1746.5,577.6 1747.0,577.7 1747.5,577.9 1748.0,578.1 1748.5,578.0 1749.0,577.5 1749.5,577.4 1750.0,577.1 1750.5,577.3 1751.0,577.3 1751.5,577.5 1752.0,577.6 1752.5,577.9 1753.0,578.1 1753.5,577.8 1754.0,578.0 1754.5,577.9 1755.0,577.9 1755.5,578.1 1756.0,577.7 1756.5,577.7 1757.0,578.1 1757.5,577.8 1758.0,577.8 1758.5,577.8 1759.0,577.7 1759.5,577.5 1760.0,577.5 1760.5,577.4 1761.0,577.8 1761.5,577.8 1762.0,578.0 1762.5,577.6 1763.0,577.8 1763.5,577.8 1764.0,578.0 1764.5,577.8 1765.0,577.9 1765.5,578.2 1766.0,578.4 1766.5,577.9 1767.0,577.6 1767.5,577.4 1768.0,577.8" fill="none" stroke="#ff8000" stroke-width="3.7" stroke-linejoin="round" stroke-linecap="round"/>
<text x="936.5" y="51" font-size="77" class="">b</text>
<text x="1028" y="128.5" font-size="32" class="">EC</text>
<text x="1027" y="270" font-size="32" class="" fill="#ff0000">NHPC-1</text>
<text x="1027" y="377.5" font-size="32" class="" fill="#0000ff">NHPC-3</text>
<text x="1027" y="480.5" font-size="32" class="" fill="#00ff00">NHPC-5</text>
<text x="1027" y="556" font-size="32" class="" fill="#ff8000">NHPC-7</text>
<text transform="translate(1445.5 94.5) rotate(0)" y="9.31" font-size="26" class="sans" text-anchor="middle">O1s</text>
<text transform="translate(1536 103) rotate(0)" y="9.31" font-size="26" class="sans" text-anchor="middle">N1s</text>
<text transform="translate(1651 46.5) rotate(0)" y="9.31" font-size="26" class="sans" text-anchor="middle">C1s</text>
<text transform="translate(1386.3 669) rotate(0)" y="10.72" font-size="32.5" class="" text-anchor="middle">Binding energy (eV)</text>
<text transform="translate(959 310) rotate(-90)" y="10.96" font-size="33.2" class="" text-anchor="middle">Relative intensity (a.u.)</text>
</svg>
</body></html>
